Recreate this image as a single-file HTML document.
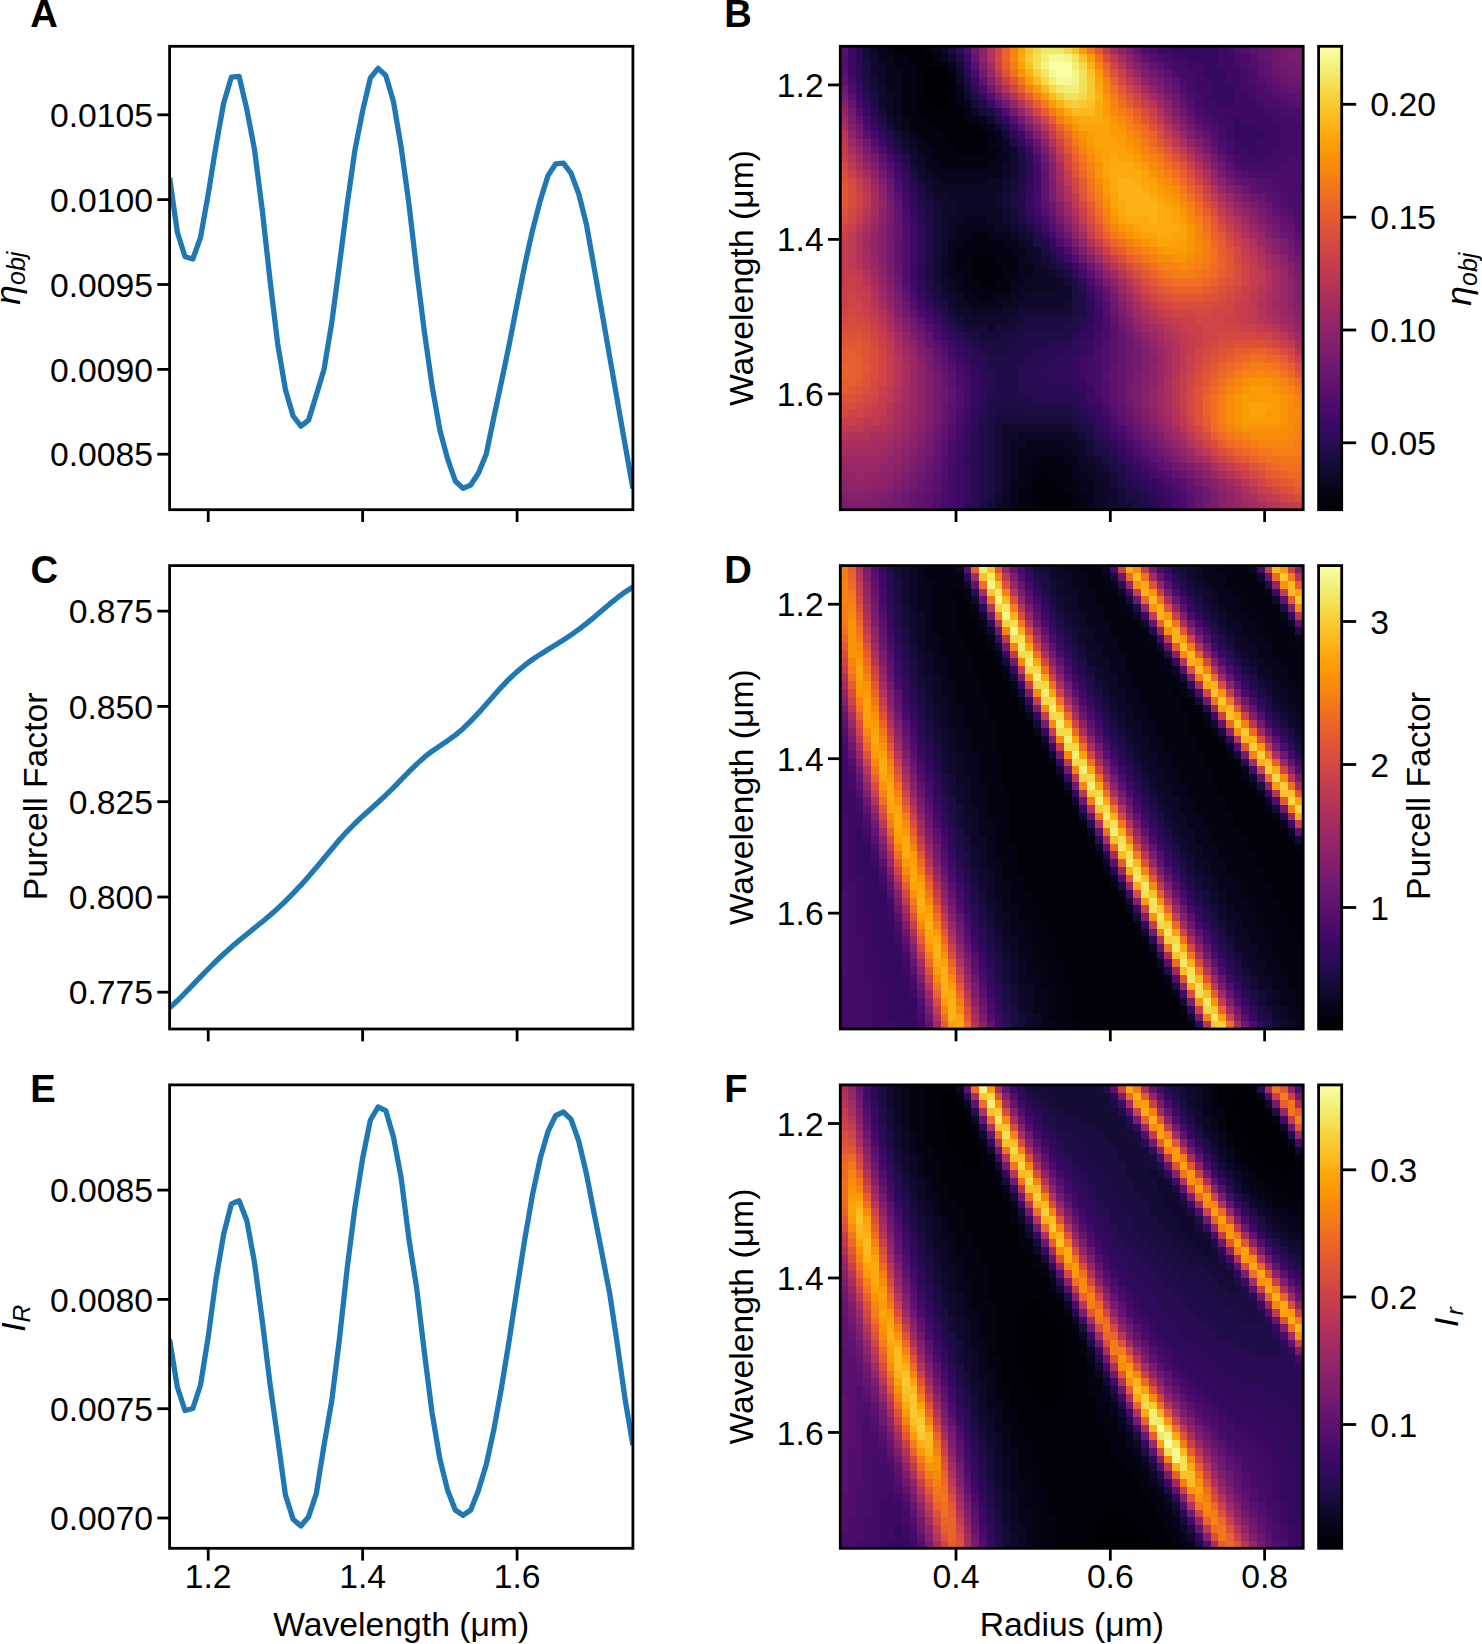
<!DOCTYPE html>
<html><head><meta charset="utf-8"><style>
html,body{margin:0;padding:0;background:#fff;width:1482px;height:1644px;overflow:hidden}
svg{display:block;font-family:"Liberation Sans",sans-serif}
</style></head><body>
<svg width="1482" height="1644" viewBox="0 0 1482 1644">
<rect width="1482" height="1644" fill="#fff"/>
<g transform="translate(840.30,46.30) scale(7.71500,7.72333)" shape-rendering="crispEdges"><path fill="#000004" d="M11 3h3v1h-3zM11 4h3v1h-3zM11 5h3v1h-3zM11 6h3v1h-3zM12 7h2v1h-2z"/><path fill="#02010a" d="M7 0h4v1h-4zM9 1h3v1h-3zM10 2h4v1h-4zM10 3h1v1h-1zM10 4h1v1h-1zM14 4h1v1h-1zM10 5h1v1h-1zM14 5h1v1h-1zM10 6h1v1h-1zM14 6h1v1h-1zM10 7h2v1h-2zM14 7h1v1h-1zM10 8h6v1h-6zM11 9h5v1h-5zM12 10h6v1h-6zM13 11h6v1h-6zM14 12h5v1h-5zM15 13h4v1h-4zM17 27h3v1h-3zM17 28h4v1h-4zM17 29h4v1h-4zM18 30h2v1h-2zM26 55h1v1h-1zM25 56h3v1h-3zM25 57h4v1h-4zM25 58h5v1h-5zM25 59h5v1h-5z"/><path fill="#040312" d="M6 0h1v1h-1zM11 0h1v1h-1zM7 1h2v1h-2zM12 1h1v1h-1zM7 2h3v1h-3zM8 3h2v1h-2zM14 3h1v1h-1zM8 4h2v1h-2zM8 5h2v1h-2zM8 6h2v1h-2zM15 6h1v1h-1zM8 7h2v1h-2zM15 7h1v1h-1zM8 8h2v1h-2zM16 8h1v1h-1zM9 9h2v1h-2zM16 9h2v1h-2zM9 10h3v1h-3zM18 10h1v1h-1zM10 11h3v1h-3zM19 11h1v1h-1zM11 12h3v1h-3zM19 12h1v1h-1zM12 13h3v1h-3zM19 13h2v1h-2zM12 14h8v1h-8zM13 15h6v1h-6zM17 24h2v1h-2zM16 25h5v1h-5zM15 26h7v1h-7zM15 27h2v1h-2zM20 27h3v1h-3zM15 28h2v1h-2zM21 28h2v1h-2zM16 29h1v1h-1zM21 29h2v1h-2zM16 30h2v1h-2zM20 30h2v1h-2zM17 31h5v1h-5zM18 32h2v1h-2zM25 53h4v1h-4zM24 54h6v1h-6zM24 55h2v1h-2zM27 55h3v1h-3zM24 56h1v1h-1zM28 56h3v1h-3zM23 57h2v1h-2zM29 57h2v1h-2zM23 58h2v1h-2zM30 58h2v1h-2zM23 59h2v1h-2zM30 59h2v1h-2z"/><path fill="#07051b" d="M5 0h1v1h-1zM12 0h1v1h-1zM5 1h2v1h-2zM13 1h1v1h-1zM6 2h1v1h-1zM14 2h1v1h-1zM6 3h2v1h-2zM6 4h2v1h-2zM6 5h2v1h-2zM15 5h1v1h-1zM7 6h1v1h-1zM7 7h1v1h-1zM16 7h1v1h-1zM7 8h1v1h-1zM8 9h1v1h-1zM18 9h1v1h-1zM8 10h1v1h-1zM19 10h1v1h-1zM9 11h1v1h-1zM20 11h1v1h-1zM10 12h1v1h-1zM20 12h1v1h-1zM10 13h2v1h-2zM11 14h1v1h-1zM20 14h2v1h-2zM11 15h2v1h-2zM19 15h2v1h-2zM12 16h9v1h-9zM13 17h6v1h-6zM16 22h3v1h-3zM15 23h5v1h-5zM15 24h2v1h-2zM19 24h3v1h-3zM14 25h2v1h-2zM21 25h2v1h-2zM14 26h1v1h-1zM22 26h2v1h-2zM14 27h1v1h-1zM23 27h1v1h-1zM14 28h1v1h-1zM23 28h2v1h-2zM14 29h2v1h-2zM23 29h2v1h-2zM15 30h1v1h-1zM22 30h2v1h-2zM15 31h2v1h-2zM22 31h1v1h-1zM16 32h2v1h-2zM20 32h2v1h-2zM17 33h4v1h-4zM24 51h5v1h-5zM23 52h7v1h-7zM23 53h2v1h-2zM29 53h2v1h-2zM23 54h1v1h-1zM30 54h1v1h-1zM23 55h1v1h-1zM30 55h2v1h-2zM22 56h2v1h-2zM31 56h2v1h-2zM22 57h1v1h-1zM31 57h2v1h-2zM22 58h1v1h-1zM32 58h1v1h-1zM22 59h1v1h-1zM32 59h1v1h-1z"/><path fill="#0b0724" d="M4 0h1v1h-1zM13 0h1v1h-1zM5 2h1v1h-1zM5 3h1v1h-1zM5 4h1v1h-1zM15 4h1v1h-1zM6 6h1v1h-1zM6 7h1v1h-1zM6 8h1v1h-1zM17 8h1v1h-1zM7 9h1v1h-1zM7 10h1v1h-1zM8 11h1v1h-1zM9 12h1v1h-1zM21 12h1v1h-1zM21 13h1v1h-1zM10 14h1v1h-1zM21 15h1v1h-1zM11 16h1v1h-1zM21 16h1v1h-1zM12 17h1v1h-1zM19 17h2v1h-2zM12 18h9v1h-9zM14 19h6v1h-6zM15 20h5v1h-5zM15 21h6v1h-6zM14 22h2v1h-2zM19 22h2v1h-2zM14 23h1v1h-1zM20 23h2v1h-2zM14 24h1v1h-1zM22 24h1v1h-1zM23 25h1v1h-1zM24 26h1v1h-1zM13 27h1v1h-1zM24 27h1v1h-1zM13 28h1v1h-1zM25 28h1v1h-1zM13 29h1v1h-1zM25 29h2v1h-2zM14 30h1v1h-1zM24 30h4v1h-4zM14 31h1v1h-1zM23 31h5v1h-5zM15 32h1v1h-1zM22 32h2v1h-2zM15 33h2v1h-2zM21 33h2v1h-2zM17 34h4v1h-4zM23 50h7v1h-7zM22 51h2v1h-2zM29 51h2v1h-2zM22 52h1v1h-1zM30 52h1v1h-1zM22 53h1v1h-1zM31 53h1v1h-1zM22 54h1v1h-1zM31 54h2v1h-2zM22 55h1v1h-1zM32 55h1v1h-1zM33 56h1v1h-1zM21 57h1v1h-1zM33 57h1v1h-1zM21 58h1v1h-1zM33 58h2v1h-2zM21 59h1v1h-1zM33 59h1v1h-1z"/><path fill="#10092d" d="M4 1h1v1h-1zM14 1h1v1h-1zM4 2h1v1h-1zM4 3h1v1h-1zM15 3h1v1h-1zM5 5h1v1h-1zM5 6h1v1h-1zM16 6h1v1h-1zM5 7h1v1h-1zM6 9h1v1h-1zM19 9h1v1h-1zM20 10h1v1h-1zM8 12h1v1h-1zM9 13h1v1h-1zM22 13h1v1h-1zM9 14h1v1h-1zM22 14h1v1h-1zM10 15h1v1h-1zM22 15h1v1h-1zM10 16h1v1h-1zM22 16h1v1h-1zM11 17h1v1h-1zM21 17h1v1h-1zM11 18h1v1h-1zM21 18h1v1h-1zM12 19h2v1h-2zM20 19h1v1h-1zM13 20h2v1h-2zM20 20h1v1h-1zM13 21h2v1h-2zM21 21h1v1h-1zM13 22h1v1h-1zM21 22h1v1h-1zM13 23h1v1h-1zM22 23h1v1h-1zM13 24h1v1h-1zM23 24h1v1h-1zM13 25h1v1h-1zM24 25h1v1h-1zM13 26h1v1h-1zM25 26h1v1h-1zM25 27h1v1h-1zM26 28h1v1h-1zM27 29h1v1h-1zM13 30h1v1h-1zM28 30h1v1h-1zM13 31h1v1h-1zM28 31h2v1h-2zM14 32h1v1h-1zM24 32h6v1h-6zM14 33h1v1h-1zM23 33h6v1h-6zM15 34h2v1h-2zM21 34h2v1h-2zM16 35h6v1h-6zM19 36h1v1h-1zM21 49h9v1h-9zM21 50h2v1h-2zM30 50h1v1h-1zM21 51h1v1h-1zM31 51h1v1h-1zM21 52h1v1h-1zM31 52h1v1h-1zM21 53h1v1h-1zM32 53h1v1h-1zM21 54h1v1h-1zM33 54h1v1h-1zM21 55h1v1h-1zM33 55h2v1h-2zM21 56h1v1h-1zM34 56h1v1h-1zM34 57h2v1h-2zM20 58h1v1h-1zM35 58h1v1h-1zM20 59h1v1h-1zM34 59h2v1h-2z"/><path fill="#150b37" d="M3 0h1v1h-1zM3 1h1v1h-1zM15 2h1v1h-1zM4 4h1v1h-1zM4 5h1v1h-1zM16 5h1v1h-1zM17 7h1v1h-1zM5 8h1v1h-1zM18 8h1v1h-1zM6 10h1v1h-1zM7 11h1v1h-1zM21 11h1v1h-1zM8 13h1v1h-1zM9 15h1v1h-1zM10 17h1v1h-1zM22 17h1v1h-1zM22 18h1v1h-1zM11 19h1v1h-1zM21 19h1v1h-1zM12 20h1v1h-1zM21 20h1v1h-1zM12 21h1v1h-1zM22 21h1v1h-1zM12 22h1v1h-1zM22 22h1v1h-1zM12 23h1v1h-1zM23 23h1v1h-1zM12 24h1v1h-1zM24 24h1v1h-1zM12 25h1v1h-1zM12 26h1v1h-1zM12 27h1v1h-1zM26 27h1v1h-1zM12 28h1v1h-1zM27 28h1v1h-1zM12 29h1v1h-1zM28 29h1v1h-1zM12 30h1v1h-1zM29 30h1v1h-1zM13 32h1v1h-1zM29 33h1v1h-1zM14 34h1v1h-1zM23 34h7v1h-7zM15 35h1v1h-1zM22 35h2v1h-2zM16 36h3v1h-3zM20 36h3v1h-3zM18 37h3v1h-3zM20 48h10v1h-10zM20 49h1v1h-1zM30 49h1v1h-1zM20 50h1v1h-1zM31 50h1v1h-1zM20 51h1v1h-1zM32 51h1v1h-1zM20 52h1v1h-1zM32 52h1v1h-1zM20 53h1v1h-1zM33 53h1v1h-1zM20 54h1v1h-1zM34 54h1v1h-1zM20 55h1v1h-1zM35 55h1v1h-1zM20 56h1v1h-1zM35 56h1v1h-1zM20 57h1v1h-1zM36 57h1v1h-1zM36 58h1v1h-1zM19 59h1v1h-1zM36 59h2v1h-2z"/><path fill="#1b0c41" d="M14 0h1v1h-1zM3 2h1v1h-1zM3 3h1v1h-1zM3 4h1v1h-1zM16 4h1v1h-1zM4 6h1v1h-1zM4 7h1v1h-1zM5 9h1v1h-1zM7 12h1v1h-1zM22 12h1v1h-1zM23 14h1v1h-1zM23 15h1v1h-1zM9 16h1v1h-1zM23 16h1v1h-1zM23 17h1v1h-1zM10 18h1v1h-1zM10 19h1v1h-1zM22 19h1v1h-1zM11 20h1v1h-1zM22 20h1v1h-1zM11 21h1v1h-1zM23 22h1v1h-1zM24 23h1v1h-1zM25 25h1v1h-1zM26 26h1v1h-1zM27 27h1v1h-1zM11 28h1v1h-1zM28 28h1v1h-1zM11 29h1v1h-1zM29 29h1v1h-1zM12 31h1v1h-1zM30 31h1v1h-1zM12 32h1v1h-1zM30 32h1v1h-1zM13 33h1v1h-1zM30 33h1v1h-1zM30 34h1v1h-1zM24 35h6v1h-6zM15 36h1v1h-1zM23 36h6v1h-6zM17 37h1v1h-1zM21 37h3v1h-3zM18 38h5v1h-5zM19 39h3v1h-3zM20 46h4v1h-4zM20 47h10v1h-10zM19 48h1v1h-1zM30 48h1v1h-1zM19 49h1v1h-1zM31 49h1v1h-1zM19 50h1v1h-1zM32 50h1v1h-1zM19 51h1v1h-1zM19 52h1v1h-1zM33 52h1v1h-1zM19 53h1v1h-1zM34 53h1v1h-1zM19 54h1v1h-1zM35 54h1v1h-1zM19 55h1v1h-1zM19 56h1v1h-1zM36 56h1v1h-1zM19 57h1v1h-1zM37 57h1v1h-1zM19 58h1v1h-1zM37 58h2v1h-2zM18 59h1v1h-1zM38 59h1v1h-1z"/><path fill="#210c4a" d="M15 1h1v1h-1zM3 5h1v1h-1zM17 6h1v1h-1zM18 7h1v1h-1zM4 8h1v1h-1zM19 8h1v1h-1zM20 9h1v1h-1zM5 10h1v1h-1zM21 10h1v1h-1zM6 11h1v1h-1zM7 13h1v1h-1zM23 13h1v1h-1zM8 14h1v1h-1zM9 17h1v1h-1zM23 18h1v1h-1zM23 19h1v1h-1zM10 20h1v1h-1zM23 20h1v1h-1zM23 21h1v1h-1zM11 22h1v1h-1zM11 23h1v1h-1zM11 24h1v1h-1zM25 24h1v1h-1zM11 25h1v1h-1zM26 25h1v1h-1zM11 26h1v1h-1zM11 27h1v1h-1zM11 30h1v1h-1zM30 30h1v1h-1zM11 31h1v1h-1zM31 32h1v1h-1zM12 33h1v1h-1zM31 33h1v1h-1zM13 34h1v1h-1zM31 34h1v1h-1zM14 35h1v1h-1zM30 35h1v1h-1zM29 36h2v1h-2zM16 37h1v1h-1zM24 37h6v1h-6zM17 38h1v1h-1zM23 38h4v1h-4zM18 39h1v1h-1zM22 39h3v1h-3zM19 40h5v1h-5zM19 41h4v1h-4zM20 42h3v1h-3zM20 43h3v1h-3zM20 44h3v1h-3zM19 45h6v1h-6zM19 46h1v1h-1zM24 46h6v1h-6zM19 47h1v1h-1zM30 47h1v1h-1zM18 48h1v1h-1zM31 48h1v1h-1zM18 49h1v1h-1zM32 49h1v1h-1zM18 50h1v1h-1zM18 51h1v1h-1zM33 51h1v1h-1zM18 52h1v1h-1zM34 52h1v1h-1zM18 53h1v1h-1zM35 53h1v1h-1zM18 54h1v1h-1zM36 54h1v1h-1zM18 55h1v1h-1zM36 55h1v1h-1zM18 56h1v1h-1zM37 56h1v1h-1zM18 57h1v1h-1zM38 57h1v1h-1zM18 58h1v1h-1zM39 58h1v1h-1zM39 59h1v1h-1z"/><path fill="#280b53" d="M2 0h1v1h-1zM2 1h1v1h-1zM2 2h1v1h-1zM2 3h1v1h-1zM16 3h1v1h-1zM3 6h1v1h-1zM4 9h1v1h-1zM22 11h1v1h-1zM6 12h1v1h-1zM8 15h1v1h-1zM24 15h1v1h-1zM24 16h1v1h-1zM9 18h1v1h-1zM10 21h1v1h-1zM10 22h1v1h-1zM24 22h1v1h-1zM25 23h1v1h-1zM27 26h1v1h-1zM28 27h1v1h-1zM10 28h1v1h-1zM29 28h1v1h-1zM10 29h1v1h-1zM31 31h1v1h-1zM11 32h1v1h-1zM13 35h1v1h-1zM31 35h1v1h-1zM14 36h1v1h-1zM31 36h1v1h-1zM15 37h1v1h-1zM30 37h1v1h-1zM16 38h1v1h-1zM27 38h3v1h-3zM17 39h1v1h-1zM25 39h4v1h-4zM17 40h2v1h-2zM24 40h4v1h-4zM18 41h1v1h-1zM23 41h4v1h-4zM18 42h2v1h-2zM23 42h3v1h-3zM19 43h1v1h-1zM23 43h4v1h-4zM19 44h1v1h-1zM23 44h7v1h-7zM25 45h6v1h-6zM18 46h1v1h-1zM30 46h1v1h-1zM18 47h1v1h-1zM31 47h1v1h-1zM32 48h1v1h-1zM17 50h1v1h-1zM33 50h1v1h-1zM17 51h1v1h-1zM34 51h1v1h-1zM17 52h1v1h-1zM35 52h1v1h-1zM17 53h1v1h-1zM17 54h1v1h-1zM17 55h1v1h-1zM37 55h1v1h-1zM17 56h1v1h-1zM38 56h1v1h-1zM17 57h1v1h-1zM39 57h1v1h-1zM17 58h1v1h-1zM40 58h1v1h-1zM17 59h1v1h-1zM40 59h1v1h-1z"/><path fill="#2f0a5b" d="M15 0h1v1h-1zM2 4h1v1h-1zM17 5h1v1h-1zM3 7h1v1h-1zM5 11h1v1h-1zM23 12h1v1h-1zM7 14h1v1h-1zM24 14h1v1h-1zM8 16h1v1h-1zM24 17h1v1h-1zM24 18h1v1h-1zM9 19h1v1h-1zM9 20h1v1h-1zM24 21h1v1h-1zM10 23h1v1h-1zM10 24h1v1h-1zM26 24h1v1h-1zM10 25h1v1h-1zM10 26h1v1h-1zM10 27h1v1h-1zM30 29h1v1h-1zM10 30h1v1h-1zM31 30h1v1h-1zM10 31h1v1h-1zM11 33h1v1h-1zM32 33h1v1h-1zM12 34h1v1h-1zM32 34h1v1h-1zM32 35h1v1h-1zM14 37h1v1h-1zM31 37h1v1h-1zM15 38h1v1h-1zM30 38h1v1h-1zM16 39h1v1h-1zM29 39h2v1h-2zM28 40h2v1h-2zM17 41h1v1h-1zM27 41h3v1h-3zM26 42h4v1h-4zM18 43h1v1h-1zM27 43h3v1h-3zM18 44h1v1h-1zM30 44h1v1h-1zM18 45h1v1h-1zM31 45h1v1h-1zM31 46h1v1h-1zM17 47h1v1h-1zM32 47h1v1h-1zM17 48h1v1h-1zM17 49h1v1h-1zM33 49h1v1h-1zM34 50h1v1h-1zM35 51h1v1h-1zM16 53h1v1h-1zM36 53h1v1h-1zM37 54h1v1h-1zM38 55h1v1h-1zM39 56h1v1h-1zM40 57h1v1h-1zM41 58h1v1h-1zM16 59h1v1h-1zM41 59h1v1h-1z"/><path fill="#360961" d="M43 0h6v1h-6zM45 1h4v1h-4zM16 2h1v1h-1zM47 2h2v1h-2zM47 3h3v1h-3zM48 4h2v1h-2zM2 5h1v1h-1zM48 5h3v1h-3zM18 6h1v1h-1zM48 6h3v1h-3zM49 7h2v1h-2zM3 8h1v1h-1zM20 8h1v1h-1zM21 9h1v1h-1zM51 9h1v1h-1zM4 10h1v1h-1zM51 10h3v1h-3zM51 11h4v1h-4zM52 12h2v1h-2zM6 13h1v1h-1zM24 13h1v1h-1zM53 13h1v1h-1zM8 17h1v1h-1zM24 19h1v1h-1zM24 20h1v1h-1zM9 21h1v1h-1zM25 22h1v1h-1zM27 25h1v1h-1zM28 26h1v1h-1zM10 32h1v1h-1zM32 32h1v1h-1zM12 35h1v1h-1zM13 36h1v1h-1zM32 36h1v1h-1zM32 37h1v1h-1zM31 38h1v1h-1zM15 39h1v1h-1zM31 39h1v1h-1zM16 40h1v1h-1zM30 40h1v1h-1zM30 41h1v1h-1zM17 42h1v1h-1zM30 42h1v1h-1zM17 43h1v1h-1zM30 43h2v1h-2zM17 44h1v1h-1zM31 44h1v1h-1zM17 45h1v1h-1zM17 46h1v1h-1zM32 46h1v1h-1zM33 47h1v1h-1zM33 48h1v1h-1zM16 49h1v1h-1zM34 49h1v1h-1zM16 50h1v1h-1zM16 51h1v1h-1zM16 52h1v1h-1zM36 52h1v1h-1zM37 53h1v1h-1zM16 54h1v1h-1zM38 54h1v1h-1zM16 55h1v1h-1zM39 55h1v1h-1zM16 56h1v1h-1zM40 56h1v1h-1zM16 57h1v1h-1zM41 57h1v1h-1zM16 58h1v1h-1zM42 59h1v1h-1z"/><path fill="#3d0965" d="M1 0h1v1h-1zM41 0h2v1h-2zM49 0h1v1h-1zM1 1h1v1h-1zM16 1h1v1h-1zM43 1h2v1h-2zM49 1h2v1h-2zM1 2h1v1h-1zM45 2h2v1h-2zM49 2h2v1h-2zM1 3h1v1h-1zM46 3h1v1h-1zM50 3h2v1h-2zM17 4h1v1h-1zM46 4h2v1h-2zM50 4h2v1h-2zM46 5h2v1h-2zM51 5h1v1h-1zM2 6h1v1h-1zM47 6h1v1h-1zM51 6h2v1h-2zM19 7h1v1h-1zM47 7h2v1h-2zM51 7h3v1h-3zM48 8h7v1h-7zM49 9h2v1h-2zM52 9h4v1h-4zM22 10h1v1h-1zM50 10h1v1h-1zM54 10h3v1h-3zM23 11h1v1h-1zM50 11h1v1h-1zM55 11h2v1h-2zM5 12h1v1h-1zM51 12h1v1h-1zM54 12h3v1h-3zM51 13h2v1h-2zM54 13h2v1h-2zM52 14h3v1h-3zM7 15h1v1h-1zM8 18h1v1h-1zM25 21h1v1h-1zM9 22h1v1h-1zM9 23h1v1h-1zM26 23h1v1h-1zM9 24h1v1h-1zM9 25h1v1h-1zM9 26h1v1h-1zM9 27h1v1h-1zM29 27h1v1h-1zM9 28h1v1h-1zM30 28h1v1h-1zM9 29h1v1h-1zM9 30h1v1h-1zM32 31h1v1h-1zM11 34h1v1h-1zM33 34h1v1h-1zM33 35h1v1h-1zM33 36h1v1h-1zM13 37h1v1h-1zM14 38h1v1h-1zM32 38h1v1h-1zM32 39h1v1h-1zM15 40h1v1h-1zM31 40h1v1h-1zM16 41h1v1h-1zM31 41h1v1h-1zM16 42h1v1h-1zM31 42h1v1h-1zM32 44h1v1h-1zM32 45h1v1h-1zM33 46h1v1h-1zM16 47h1v1h-1zM16 48h1v1h-1zM34 48h1v1h-1zM35 50h1v1h-1zM15 51h1v1h-1zM36 51h1v1h-1zM15 52h1v1h-1zM37 52h1v1h-1zM15 53h1v1h-1zM15 54h1v1h-1zM15 55h1v1h-1zM15 56h1v1h-1zM41 56h1v1h-1zM15 57h1v1h-1zM42 57h1v1h-1zM15 58h1v1h-1zM42 58h1v1h-1zM15 59h1v1h-1z"/><path fill="#440a68" d="M50 0h1v1h-1zM42 1h1v1h-1zM51 1h1v1h-1zM43 2h2v1h-2zM51 2h1v1h-1zM44 3h2v1h-2zM52 3h1v1h-1zM1 4h1v1h-1zM45 4h1v1h-1zM52 4h1v1h-1zM45 5h1v1h-1zM52 5h2v1h-2zM46 6h1v1h-1zM53 6h1v1h-1zM2 7h1v1h-1zM46 7h1v1h-1zM54 7h1v1h-1zM47 8h1v1h-1zM55 8h2v1h-2zM3 9h1v1h-1zM48 9h1v1h-1zM56 9h3v1h-3zM49 10h1v1h-1zM57 10h3v1h-3zM4 11h1v1h-1zM49 11h1v1h-1zM57 11h3v1h-3zM50 12h1v1h-1zM57 12h3v1h-3zM50 13h1v1h-1zM56 13h4v1h-4zM6 14h1v1h-1zM51 14h1v1h-1zM55 14h3v1h-3zM59 14h1v1h-1zM25 15h1v1h-1zM52 15h5v1h-5zM7 16h1v1h-1zM25 16h1v1h-1zM25 17h1v1h-1zM25 18h1v1h-1zM59 18h1v1h-1zM8 19h1v1h-1zM25 19h1v1h-1zM8 20h1v1h-1zM25 20h1v1h-1zM26 22h1v1h-1zM27 24h1v1h-1zM31 29h1v1h-1zM9 31h1v1h-1zM10 33h1v1h-1zM33 33h1v1h-1zM11 35h1v1h-1zM12 36h1v1h-1zM33 37h1v1h-1zM33 38h1v1h-1zM14 39h1v1h-1zM32 40h1v1h-1zM15 41h1v1h-1zM32 41h1v1h-1zM32 42h1v1h-1zM16 43h1v1h-1zM32 43h1v1h-1zM16 44h1v1h-1zM16 45h1v1h-1zM33 45h1v1h-1zM16 46h1v1h-1zM34 47h1v1h-1zM15 49h1v1h-1zM35 49h1v1h-1zM15 50h1v1h-1zM36 50h1v1h-1zM38 53h1v1h-1zM14 54h1v1h-1zM39 54h1v1h-1zM14 55h1v1h-1zM40 55h1v1h-1zM14 56h1v1h-1zM14 57h1v1h-1zM14 58h1v1h-1zM43 58h1v1h-1zM14 59h1v1h-1zM43 59h1v1h-1z"/><path fill="#4a0c6b" d="M16 0h1v1h-1zM40 0h1v1h-1zM51 0h1v1h-1zM41 1h1v1h-1zM52 1h1v1h-1zM42 2h1v1h-1zM52 2h1v1h-1zM17 3h1v1h-1zM43 3h1v1h-1zM53 3h1v1h-1zM44 4h1v1h-1zM53 4h1v1h-1zM1 5h1v1h-1zM18 5h1v1h-1zM54 5h1v1h-1zM45 6h1v1h-1zM54 6h2v1h-2zM55 7h2v1h-2zM46 8h1v1h-1zM57 8h3v1h-3zM47 9h1v1h-1zM59 9h1v1h-1zM3 10h1v1h-1zM48 10h1v1h-1zM24 12h1v1h-1zM49 12h1v1h-1zM5 13h1v1h-1zM25 14h1v1h-1zM58 14h1v1h-1zM51 15h1v1h-1zM57 15h3v1h-3zM53 16h7v1h-7zM7 17h1v1h-1zM56 17h4v1h-4zM57 18h2v1h-2zM58 19h2v1h-2zM58 20h2v1h-2zM8 21h1v1h-1zM59 21h1v1h-1zM8 22h1v1h-1zM28 25h1v1h-1zM29 26h1v1h-1zM32 30h1v1h-1zM9 32h1v1h-1zM33 32h1v1h-1zM10 34h1v1h-1zM34 35h1v1h-1zM34 36h1v1h-1zM12 37h1v1h-1zM34 37h1v1h-1zM13 38h1v1h-1zM33 39h1v1h-1zM14 40h1v1h-1zM33 40h1v1h-1zM33 41h1v1h-1zM15 42h1v1h-1zM33 42h1v1h-1zM15 43h1v1h-1zM33 43h1v1h-1zM33 44h1v1h-1zM34 46h1v1h-1zM15 47h1v1h-1zM15 48h1v1h-1zM35 48h1v1h-1zM36 49h1v1h-1zM14 51h1v1h-1zM37 51h1v1h-1zM14 52h1v1h-1zM38 52h1v1h-1zM14 53h1v1h-1zM39 53h1v1h-1zM40 54h1v1h-1zM41 55h1v1h-1zM13 56h1v1h-1zM42 56h1v1h-1zM13 57h1v1h-1zM43 57h1v1h-1zM13 58h1v1h-1zM44 58h1v1h-1zM13 59h1v1h-1zM44 59h1v1h-1z"/><path fill="#510e6c" d="M39 0h1v1h-1zM52 0h1v1h-1zM0 1h1v1h-1zM40 1h1v1h-1zM53 1h1v1h-1zM0 2h1v1h-1zM53 2h1v1h-1zM54 4h1v1h-1zM44 5h1v1h-1zM55 5h1v1h-1zM19 6h1v1h-1zM56 6h1v1h-1zM45 7h1v1h-1zM57 7h2v1h-2zM2 8h1v1h-1zM21 8h1v1h-1zM22 9h1v1h-1zM46 9h1v1h-1zM47 10h1v1h-1zM48 11h1v1h-1zM4 12h1v1h-1zM49 13h1v1h-1zM50 14h1v1h-1zM6 15h1v1h-1zM52 16h1v1h-1zM54 17h2v1h-2zM7 18h1v1h-1zM55 18h2v1h-2zM57 19h1v1h-1zM57 20h1v1h-1zM26 21h1v1h-1zM58 21h1v1h-1zM59 22h1v1h-1zM8 23h1v1h-1zM27 23h1v1h-1zM59 23h1v1h-1zM8 24h1v1h-1zM8 25h1v1h-1zM8 26h1v1h-1zM8 27h1v1h-1zM30 27h1v1h-1zM8 28h1v1h-1zM31 28h1v1h-1zM8 29h1v1h-1zM8 30h1v1h-1zM33 31h1v1h-1zM9 33h1v1h-1zM34 33h1v1h-1zM34 34h1v1h-1zM11 36h1v1h-1zM34 38h1v1h-1zM13 39h1v1h-1zM34 39h1v1h-1zM34 40h1v1h-1zM14 41h1v1h-1zM34 41h1v1h-1zM34 43h1v1h-1zM15 44h1v1h-1zM34 44h1v1h-1zM15 45h1v1h-1zM34 45h1v1h-1zM15 46h1v1h-1zM35 47h1v1h-1zM14 49h1v1h-1zM14 50h1v1h-1zM37 50h1v1h-1zM38 51h1v1h-1zM13 53h1v1h-1zM13 54h1v1h-1zM13 55h1v1h-1zM42 55h1v1h-1zM43 56h1v1h-1zM44 57h1v1h-1zM12 58h1v1h-1zM12 59h1v1h-1z"/><path fill="#59106e" d="M0 0h1v1h-1zM53 0h1v1h-1zM17 2h1v1h-1zM41 2h1v1h-1zM54 2h1v1h-1zM0 3h1v1h-1zM42 3h1v1h-1zM54 3h1v1h-1zM43 4h1v1h-1zM55 4h1v1h-1zM56 5h1v1h-1zM1 6h1v1h-1zM44 6h1v1h-1zM57 6h2v1h-2zM20 7h1v1h-1zM59 7h1v1h-1zM45 8h1v1h-1zM23 10h1v1h-1zM3 11h1v1h-1zM48 12h1v1h-1zM25 13h1v1h-1zM5 14h1v1h-1zM50 15h1v1h-1zM6 16h1v1h-1zM51 16h1v1h-1zM53 17h1v1h-1zM54 18h1v1h-1zM7 19h1v1h-1zM55 19h2v1h-2zM26 20h1v1h-1zM56 20h1v1h-1zM57 21h1v1h-1zM27 22h1v1h-1zM58 22h1v1h-1zM28 24h1v1h-1zM59 24h1v1h-1zM32 29h1v1h-1zM8 31h1v1h-1zM10 35h1v1h-1zM35 36h1v1h-1zM35 37h1v1h-1zM12 38h1v1h-1zM35 38h1v1h-1zM35 39h1v1h-1zM13 40h1v1h-1zM35 40h1v1h-1zM14 42h1v1h-1zM34 42h1v1h-1zM14 43h1v1h-1zM35 45h1v1h-1zM14 46h1v1h-1zM35 46h1v1h-1zM14 47h1v1h-1zM14 48h1v1h-1zM36 48h1v1h-1zM37 49h1v1h-1zM13 51h1v1h-1zM13 52h1v1h-1zM39 52h1v1h-1zM40 53h1v1h-1zM41 54h1v1h-1zM12 55h1v1h-1zM12 56h1v1h-1zM44 56h1v1h-1zM12 57h1v1h-1zM11 58h1v1h-1zM45 58h1v1h-1zM11 59h1v1h-1zM45 59h1v1h-1z"/><path fill="#5f136e" d="M54 0h1v1h-1zM39 1h1v1h-1zM54 1h1v1h-1zM40 2h1v1h-1zM55 2h1v1h-1zM55 3h1v1h-1zM0 4h1v1h-1zM18 4h1v1h-1zM56 4h1v1h-1zM43 5h1v1h-1zM57 5h1v1h-1zM59 6h1v1h-1zM44 7h1v1h-1zM2 9h1v1h-1zM46 10h1v1h-1zM24 11h1v1h-1zM47 11h1v1h-1zM4 13h1v1h-1zM49 14h1v1h-1zM26 16h1v1h-1zM26 17h1v1h-1zM52 17h1v1h-1zM26 18h1v1h-1zM53 18h1v1h-1zM26 19h1v1h-1zM7 20h1v1h-1zM7 21h1v1h-1zM56 21h1v1h-1zM7 22h1v1h-1zM57 22h1v1h-1zM58 23h1v1h-1zM7 25h1v1h-1zM29 25h1v1h-1zM59 25h1v1h-1zM7 26h1v1h-1zM7 27h1v1h-1zM33 30h1v1h-1zM8 32h1v1h-1zM34 32h1v1h-1zM9 34h1v1h-1zM35 35h1v1h-1zM11 37h1v1h-1zM12 39h1v1h-1zM13 41h1v1h-1zM35 41h1v1h-1zM35 42h1v1h-1zM35 43h1v1h-1zM14 44h1v1h-1zM35 44h1v1h-1zM14 45h1v1h-1zM36 46h1v1h-1zM36 47h1v1h-1zM37 48h1v1h-1zM13 49h1v1h-1zM13 50h1v1h-1zM38 50h1v1h-1zM39 51h1v1h-1zM40 52h1v1h-1zM12 53h1v1h-1zM41 53h1v1h-1zM12 54h1v1h-1zM42 54h1v1h-1zM43 55h1v1h-1zM11 56h1v1h-1zM11 57h1v1h-1zM45 57h1v1h-1zM10 58h1v1h-1zM10 59h1v1h-1z"/><path fill="#65156e" d="M38 0h1v1h-1zM55 0h1v1h-1zM17 1h1v1h-1zM55 1h1v1h-1zM41 3h1v1h-1zM56 3h1v1h-1zM42 4h1v1h-1zM57 4h1v1h-1zM58 5h2v1h-2zM1 7h1v1h-1zM45 9h1v1h-1zM25 12h1v1h-1zM48 13h1v1h-1zM5 15h1v1h-1zM26 15h1v1h-1zM50 16h1v1h-1zM6 17h1v1h-1zM51 17h1v1h-1zM54 19h1v1h-1zM55 20h1v1h-1zM27 21h1v1h-1zM7 23h1v1h-1zM28 23h1v1h-1zM57 23h1v1h-1zM7 24h1v1h-1zM58 24h1v1h-1zM30 26h1v1h-1zM59 26h1v1h-1zM7 28h1v1h-1zM7 29h1v1h-1zM34 31h1v1h-1zM35 34h1v1h-1zM10 36h1v1h-1zM36 37h1v1h-1zM11 38h1v1h-1zM36 38h1v1h-1zM36 39h1v1h-1zM12 40h1v1h-1zM36 40h1v1h-1zM36 41h1v1h-1zM13 42h1v1h-1zM36 42h1v1h-1zM13 43h1v1h-1zM36 43h1v1h-1zM36 44h1v1h-1zM36 45h1v1h-1zM13 46h1v1h-1zM13 47h1v1h-1zM37 47h1v1h-1zM13 48h1v1h-1zM38 49h1v1h-1zM12 51h1v1h-1zM12 52h1v1h-1zM11 54h1v1h-1zM11 55h1v1h-1zM44 55h1v1h-1zM10 56h1v1h-1zM45 56h1v1h-1zM10 57h1v1h-1zM46 57h1v1h-1zM9 58h1v1h-1zM46 58h1v1h-1zM9 59h1v1h-1zM46 59h1v1h-1z"/><path fill="#6c186e" d="M17 0h1v1h-1zM56 0h1v1h-1zM56 1h1v1h-1zM56 2h1v1h-1zM57 3h1v1h-1zM58 4h2v1h-2zM0 5h1v1h-1zM19 5h1v1h-1zM42 5h1v1h-1zM43 6h1v1h-1zM44 8h1v1h-1zM2 10h1v1h-1zM46 11h1v1h-1zM3 12h1v1h-1zM47 12h1v1h-1zM26 14h1v1h-1zM49 15h1v1h-1zM6 18h1v1h-1zM52 18h1v1h-1zM53 19h1v1h-1zM27 20h1v1h-1zM54 20h1v1h-1zM55 21h1v1h-1zM56 22h1v1h-1zM29 24h1v1h-1zM57 24h1v1h-1zM58 25h1v1h-1zM31 27h1v1h-1zM59 27h1v1h-1zM32 28h1v1h-1zM7 30h1v1h-1zM8 33h1v1h-1zM35 33h1v1h-1zM9 35h1v1h-1zM36 36h1v1h-1zM10 37h1v1h-1zM37 38h1v1h-1zM37 39h1v1h-1zM37 40h1v1h-1zM12 41h1v1h-1zM37 41h1v1h-1zM37 42h1v1h-1zM13 44h1v1h-1zM13 45h1v1h-1zM37 46h1v1h-1zM38 48h1v1h-1zM12 49h1v1h-1zM12 50h1v1h-1zM39 50h1v1h-1zM40 51h1v1h-1zM41 52h1v1h-1zM11 53h1v1h-1zM42 53h1v1h-1zM43 54h1v1h-1zM10 55h1v1h-1zM9 57h1v1h-1zM8 58h1v1h-1zM47 58h1v1h-1zM8 59h1v1h-1z"/><path fill="#721a6e" d="M57 0h2v1h-2zM38 1h1v1h-1zM57 1h1v1h-1zM39 2h1v1h-1zM57 2h2v1h-2zM18 3h1v1h-1zM40 3h1v1h-1zM58 3h2v1h-2zM41 4h1v1h-1zM20 6h1v1h-1zM21 7h1v1h-1zM43 7h1v1h-1zM1 8h1v1h-1zM22 8h1v1h-1zM23 9h1v1h-1zM45 10h1v1h-1zM2 11h1v1h-1zM4 14h1v1h-1zM48 14h1v1h-1zM5 16h1v1h-1zM50 17h1v1h-1zM6 19h1v1h-1zM28 22h1v1h-1zM55 22h1v1h-1zM6 23h1v1h-1zM56 23h1v1h-1zM6 24h1v1h-1zM6 25h1v1h-1zM6 26h1v1h-1zM58 26h1v1h-1zM6 27h1v1h-1zM59 28h1v1h-1zM33 29h1v1h-1zM7 31h1v1h-1zM35 32h1v1h-1zM8 34h1v1h-1zM36 35h1v1h-1zM9 36h1v1h-1zM37 37h1v1h-1zM11 39h1v1h-1zM38 39h1v1h-1zM38 40h1v1h-1zM38 41h1v1h-1zM12 42h1v1h-1zM12 43h1v1h-1zM37 43h1v1h-1zM12 44h1v1h-1zM37 44h1v1h-1zM12 45h1v1h-1zM37 45h1v1h-1zM12 46h1v1h-1zM12 47h1v1h-1zM38 47h1v1h-1zM12 48h1v1h-1zM39 49h1v1h-1zM40 50h1v1h-1zM11 51h1v1h-1zM11 52h1v1h-1zM10 54h1v1h-1zM44 54h1v1h-1zM9 55h1v1h-1zM45 55h1v1h-1zM9 56h1v1h-1zM46 56h1v1h-1zM8 57h1v1h-1zM47 57h1v1h-1zM7 58h1v1h-1zM6 59h2v1h-2zM47 59h1v1h-1z"/><path fill="#781c6d" d="M37 0h1v1h-1zM59 0h1v1h-1zM58 1h2v1h-2zM59 2h1v1h-1zM0 6h1v1h-1zM42 6h1v1h-1zM1 9h1v1h-1zM44 9h1v1h-1zM24 10h1v1h-1zM3 13h1v1h-1zM26 13h1v1h-1zM47 13h1v1h-1zM49 16h1v1h-1zM27 18h1v1h-1zM51 18h1v1h-1zM27 19h1v1h-1zM52 19h1v1h-1zM6 20h1v1h-1zM53 20h1v1h-1zM6 21h1v1h-1zM54 21h1v1h-1zM6 22h1v1h-1zM56 24h1v1h-1zM30 25h1v1h-1zM57 25h1v1h-1zM58 27h1v1h-1zM6 28h1v1h-1zM6 29h1v1h-1zM59 29h1v1h-1zM34 30h1v1h-1zM7 32h1v1h-1zM36 34h1v1h-1zM37 36h1v1h-1zM10 38h1v1h-1zM38 38h1v1h-1zM11 40h1v1h-1zM11 41h1v1h-1zM38 42h1v1h-1zM38 43h1v1h-1zM38 44h1v1h-1zM38 45h1v1h-1zM38 46h1v1h-1zM39 48h1v1h-1zM11 49h1v1h-1zM11 50h1v1h-1zM41 51h1v1h-1zM10 52h1v1h-1zM42 52h1v1h-1zM10 53h1v1h-1zM43 53h1v1h-1zM9 54h1v1h-1zM8 56h1v1h-1zM7 57h1v1h-1zM6 58h1v1h-1zM48 58h1v1h-1zM0 59h1v1h-1zM5 59h1v1h-1zM48 59h1v1h-1z"/><path fill="#7f1e6c" d="M18 2h1v1h-1zM39 3h1v1h-1zM40 4h1v1h-1zM41 5h1v1h-1zM43 8h1v1h-1zM25 11h1v1h-1zM45 11h1v1h-1zM46 12h1v1h-1zM4 15h1v1h-1zM48 15h1v1h-1zM5 17h1v1h-1zM27 17h1v1h-1zM28 21h1v1h-1zM54 22h1v1h-1zM29 23h1v1h-1zM55 23h1v1h-1zM31 26h1v1h-1zM57 26h1v1h-1zM6 30h1v1h-1zM59 30h1v1h-1zM35 31h1v1h-1zM59 31h1v1h-1zM59 32h1v1h-1zM7 33h1v1h-1zM36 33h1v1h-1zM8 35h1v1h-1zM37 35h1v1h-1zM9 37h1v1h-1zM38 37h1v1h-1zM10 39h1v1h-1zM39 39h1v1h-1zM39 40h1v1h-1zM39 41h1v1h-1zM11 42h1v1h-1zM39 42h1v1h-1zM11 43h1v1h-1zM11 44h1v1h-1zM11 45h1v1h-1zM11 46h1v1h-1zM11 47h1v1h-1zM39 47h1v1h-1zM11 48h1v1h-1zM40 49h1v1h-1zM41 50h1v1h-1zM10 51h1v1h-1zM9 53h1v1h-1zM45 54h1v1h-1zM8 55h1v1h-1zM46 55h1v1h-1zM7 56h1v1h-1zM47 56h1v1h-1zM6 57h1v1h-1zM48 57h1v1h-1zM0 58h1v1h-1zM4 58h2v1h-2zM1 59h4v1h-4z"/><path fill="#85216b" d="M38 2h1v1h-1zM19 4h1v1h-1zM0 7h1v1h-1zM1 10h1v1h-1zM44 10h1v1h-1zM2 12h1v1h-1zM3 14h1v1h-1zM27 15h1v1h-1zM27 16h1v1h-1zM5 18h1v1h-1zM50 18h1v1h-1zM51 19h1v1h-1zM28 20h1v1h-1zM52 20h1v1h-1zM53 21h1v1h-1zM5 23h1v1h-1zM5 24h1v1h-1zM55 24h1v1h-1zM5 25h1v1h-1zM56 25h1v1h-1zM5 26h1v1h-1zM5 27h1v1h-1zM32 27h1v1h-1zM33 28h1v1h-1zM58 28h1v1h-1zM58 29h1v1h-1zM6 31h1v1h-1zM59 33h1v1h-1zM7 34h1v1h-1zM59 34h1v1h-1zM8 36h1v1h-1zM39 38h1v1h-1zM10 40h1v1h-1zM40 40h1v1h-1zM39 43h1v1h-1zM39 44h1v1h-1zM39 45h1v1h-1zM39 46h1v1h-1zM40 48h1v1h-1zM10 49h1v1h-1zM10 50h1v1h-1zM42 51h1v1h-1zM9 52h1v1h-1zM43 52h1v1h-1zM8 53h1v1h-1zM44 53h1v1h-1zM8 54h1v1h-1zM7 55h1v1h-1zM6 56h1v1h-1zM48 56h1v1h-1zM0 57h1v1h-1zM4 57h2v1h-2zM1 58h3v1h-3zM49 58h1v1h-1zM49 59h1v1h-1z"/><path fill="#8c2369" d="M18 0h1v1h-1zM36 0h1v1h-1zM18 1h1v1h-1zM37 1h1v1h-1zM42 7h1v1h-1zM43 9h1v1h-1zM26 12h1v1h-1zM47 14h1v1h-1zM4 16h1v1h-1zM49 17h1v1h-1zM5 19h1v1h-1zM5 21h1v1h-1zM5 22h1v1h-1zM29 22h1v1h-1zM53 22h1v1h-1zM54 23h1v1h-1zM30 24h1v1h-1zM56 26h1v1h-1zM57 27h1v1h-1zM5 28h1v1h-1zM5 29h1v1h-1zM34 29h1v1h-1zM35 30h1v1h-1zM58 30h1v1h-1zM58 31h1v1h-1zM6 32h1v1h-1zM36 32h1v1h-1zM58 32h1v1h-1zM58 33h1v1h-1zM37 34h1v1h-1zM59 35h1v1h-1zM38 36h1v1h-1zM39 37h1v1h-1zM9 38h1v1h-1zM40 39h1v1h-1zM10 41h1v1h-1zM40 41h1v1h-1zM10 42h1v1h-1zM40 42h1v1h-1zM10 43h1v1h-1zM40 43h1v1h-1zM10 44h1v1h-1zM10 45h1v1h-1zM10 46h1v1h-1zM10 47h1v1h-1zM40 47h1v1h-1zM10 48h1v1h-1zM41 49h1v1h-1zM9 50h1v1h-1zM9 51h1v1h-1zM8 52h1v1h-1zM7 54h1v1h-1zM46 54h1v1h-1zM5 55h2v1h-2zM47 55h1v1h-1zM0 56h1v1h-1zM4 56h2v1h-2zM1 57h3v1h-3zM49 57h1v1h-1zM50 58h1v1h-1zM50 59h1v1h-1z"/><path fill="#922568" d="M39 4h1v1h-1zM20 5h1v1h-1zM40 5h1v1h-1zM21 6h1v1h-1zM41 6h1v1h-1zM22 7h1v1h-1zM0 8h1v1h-1zM23 8h1v1h-1zM24 9h1v1h-1zM1 11h1v1h-1zM45 12h1v1h-1zM2 13h1v1h-1zM46 13h1v1h-1zM27 14h1v1h-1zM3 15h1v1h-1zM48 16h1v1h-1zM28 19h1v1h-1zM5 20h1v1h-1zM51 20h1v1h-1zM52 21h1v1h-1zM4 24h1v1h-1zM4 25h1v1h-1zM31 25h1v1h-1zM55 25h1v1h-1zM4 26h1v1h-1zM57 28h1v1h-1zM5 30h1v1h-1zM6 33h1v1h-1zM37 33h1v1h-1zM58 34h1v1h-1zM7 35h1v1h-1zM38 35h1v1h-1zM59 36h1v1h-1zM8 37h1v1h-1zM40 38h1v1h-1zM9 39h1v1h-1zM40 44h1v1h-1zM40 45h1v1h-1zM40 46h1v1h-1zM9 48h1v1h-1zM41 48h1v1h-1zM9 49h1v1h-1zM42 50h1v1h-1zM8 51h1v1h-1zM43 51h1v1h-1zM7 52h1v1h-1zM44 52h1v1h-1zM6 53h2v1h-2zM45 53h1v1h-1zM5 54h2v1h-2zM0 55h2v1h-2zM3 55h2v1h-2zM1 56h3v1h-3zM49 56h1v1h-1zM50 57h1v1h-1zM51 59h1v1h-1z"/><path fill="#982766" d="M37 2h1v1h-1zM19 3h1v1h-1zM38 3h1v1h-1zM42 8h1v1h-1zM25 10h1v1h-1zM44 11h1v1h-1zM47 15h1v1h-1zM4 17h1v1h-1zM28 18h1v1h-1zM49 18h1v1h-1zM50 19h1v1h-1zM29 21h1v1h-1zM4 23h1v1h-1zM30 23h1v1h-1zM53 23h1v1h-1zM54 24h1v1h-1zM32 26h1v1h-1zM55 26h1v1h-1zM4 27h1v1h-1zM56 27h1v1h-1zM4 28h1v1h-1zM57 29h1v1h-1zM57 30h1v1h-1zM5 31h1v1h-1zM36 31h1v1h-1zM57 31h1v1h-1zM57 32h1v1h-1zM57 33h1v1h-1zM57 34h1v1h-1zM58 35h1v1h-1zM7 36h1v1h-1zM39 36h1v1h-1zM40 37h1v1h-1zM8 38h1v1h-1zM41 39h1v1h-1zM9 40h1v1h-1zM41 40h1v1h-1zM9 41h1v1h-1zM41 41h1v1h-1zM9 42h1v1h-1zM41 42h1v1h-1zM9 43h1v1h-1zM41 43h1v1h-1zM9 44h1v1h-1zM9 45h1v1h-1zM9 46h1v1h-1zM9 47h1v1h-1zM41 47h1v1h-1zM8 49h1v1h-1zM42 49h1v1h-1zM8 50h1v1h-1zM7 51h1v1h-1zM6 52h1v1h-1zM5 53h1v1h-1zM0 54h5v1h-5zM47 54h1v1h-1zM2 55h1v1h-1zM48 55h1v1h-1zM51 58h1v1h-1z"/><path fill="#9f2a63" d="M41 7h1v1h-1zM0 9h1v1h-1zM43 10h1v1h-1zM26 11h1v1h-1zM1 12h1v1h-1zM27 13h1v1h-1zM2 14h1v1h-1zM46 14h1v1h-1zM28 17h1v1h-1zM48 17h1v1h-1zM4 18h1v1h-1zM29 20h1v1h-1zM51 21h1v1h-1zM4 22h1v1h-1zM52 22h1v1h-1zM3 25h1v1h-1zM54 25h1v1h-1zM33 27h1v1h-1zM34 28h1v1h-1zM56 28h1v1h-1zM4 29h1v1h-1zM35 29h1v1h-1zM5 32h1v1h-1zM37 32h1v1h-1zM56 33h1v1h-1zM6 34h1v1h-1zM38 34h1v1h-1zM57 35h1v1h-1zM58 36h1v1h-1zM59 37h1v1h-1zM41 38h1v1h-1zM8 39h1v1h-1zM41 44h1v1h-1zM41 45h1v1h-1zM41 46h1v1h-1zM8 47h1v1h-1zM8 48h1v1h-1zM42 48h1v1h-1zM7 50h1v1h-1zM43 50h1v1h-1zM6 51h1v1h-1zM44 51h1v1h-1zM5 52h1v1h-1zM45 52h1v1h-1zM0 53h5v1h-5zM46 53h1v1h-1zM50 56h1v1h-1zM51 57h1v1h-1zM52 59h1v1h-1z"/><path fill="#a52c60" d="M35 0h1v1h-1zM36 1h1v1h-1zM19 2h1v1h-1zM39 5h1v1h-1zM40 6h1v1h-1zM42 9h1v1h-1zM45 13h1v1h-1zM3 16h1v1h-1zM28 16h1v1h-1zM4 19h1v1h-1zM4 20h1v1h-1zM50 20h1v1h-1zM4 21h1v1h-1zM30 22h1v1h-1zM3 24h1v1h-1zM31 24h1v1h-1zM53 24h1v1h-1zM3 26h1v1h-1zM3 27h1v1h-1zM55 27h1v1h-1zM56 29h1v1h-1zM4 30h1v1h-1zM36 30h1v1h-1zM56 30h1v1h-1zM56 31h1v1h-1zM56 32h1v1h-1zM5 33h1v1h-1zM38 33h1v1h-1zM56 34h1v1h-1zM6 35h1v1h-1zM39 35h1v1h-1zM40 36h1v1h-1zM7 37h1v1h-1zM41 37h1v1h-1zM42 39h1v1h-1zM8 40h1v1h-1zM42 40h1v1h-1zM42 41h1v1h-1zM42 42h1v1h-1zM8 44h1v1h-1zM8 45h1v1h-1zM8 46h1v1h-1zM42 47h1v1h-1zM7 48h1v1h-1zM7 49h1v1h-1zM43 49h1v1h-1zM6 50h1v1h-1zM4 51h2v1h-2zM0 52h5v1h-5zM49 55h1v1h-1zM52 58h1v1h-1zM53 59h1v1h-1z"/><path fill="#ab2f5e" d="M37 3h1v1h-1zM20 4h1v1h-1zM38 4h1v1h-1zM0 10h1v1h-1zM44 12h1v1h-1zM1 13h1v1h-1zM2 15h1v1h-1zM28 15h1v1h-1zM47 16h1v1h-1zM29 19h1v1h-1zM49 19h1v1h-1zM3 23h1v1h-1zM52 23h1v1h-1zM54 26h1v1h-1zM3 28h1v1h-1zM55 28h1v1h-1zM4 31h1v1h-1zM37 31h1v1h-1zM55 32h1v1h-1zM55 33h1v1h-1zM39 34h1v1h-1zM55 34h1v1h-1zM56 35h1v1h-1zM6 36h1v1h-1zM41 36h1v1h-1zM57 36h1v1h-1zM58 37h1v1h-1zM7 38h1v1h-1zM42 38h1v1h-1zM59 38h1v1h-1zM8 41h1v1h-1zM8 42h1v1h-1zM8 43h1v1h-1zM42 43h1v1h-1zM42 44h1v1h-1zM42 45h1v1h-1zM7 46h1v1h-1zM42 46h1v1h-1zM7 47h1v1h-1zM6 49h1v1h-1zM4 50h2v1h-2zM44 50h1v1h-1zM0 51h4v1h-4zM47 53h1v1h-1zM48 54h1v1h-1zM51 56h1v1h-1zM52 57h1v1h-1zM53 58h1v1h-1zM54 59h1v1h-1z"/><path fill="#b1325a" d="M19 0h1v1h-1zM19 1h1v1h-1zM21 5h1v1h-1zM22 6h1v1h-1zM23 7h1v1h-1zM24 8h1v1h-1zM41 8h1v1h-1zM25 9h1v1h-1zM43 11h1v1h-1zM27 12h1v1h-1zM46 15h1v1h-1zM3 17h1v1h-1zM29 18h1v1h-1zM48 18h1v1h-1zM30 21h1v1h-1zM50 21h1v1h-1zM3 22h1v1h-1zM51 22h1v1h-1zM31 23h1v1h-1zM2 24h1v1h-1zM52 24h1v1h-1zM2 25h1v1h-1zM32 25h1v1h-1zM53 25h1v1h-1zM2 26h1v1h-1zM33 26h1v1h-1zM2 27h1v1h-1zM54 27h1v1h-1zM3 29h1v1h-1zM55 29h1v1h-1zM55 30h1v1h-1zM55 31h1v1h-1zM4 32h1v1h-1zM38 32h1v1h-1zM54 33h1v1h-1zM5 34h1v1h-1zM40 35h1v1h-1zM55 35h1v1h-1zM42 37h1v1h-1zM43 38h1v1h-1zM7 39h1v1h-1zM43 39h1v1h-1zM43 40h1v1h-1zM43 41h1v1h-1zM43 42h1v1h-1zM7 44h1v1h-1zM7 45h1v1h-1zM6 47h1v1h-1zM43 47h1v1h-1zM6 48h1v1h-1zM43 48h1v1h-1zM4 49h2v1h-2zM1 50h3v1h-3zM45 51h1v1h-1zM46 52h1v1h-1zM50 55h1v1h-1zM55 59h1v1h-1z"/><path fill="#b73557" d="M36 2h1v1h-1zM39 6h1v1h-1zM40 7h1v1h-1zM26 10h1v1h-1zM42 10h1v1h-1zM0 11h1v1h-1zM1 14h1v1h-1zM28 14h1v1h-1zM45 14h1v1h-1zM2 16h1v1h-1zM47 17h1v1h-1zM3 18h1v1h-1zM49 20h1v1h-1zM3 21h1v1h-1zM2 23h1v1h-1zM51 23h1v1h-1zM53 26h1v1h-1zM34 27h1v1h-1zM2 28h1v1h-1zM35 28h1v1h-1zM54 28h1v1h-1zM36 29h1v1h-1zM3 30h1v1h-1zM37 30h1v1h-1zM54 31h1v1h-1zM54 32h1v1h-1zM4 33h1v1h-1zM39 33h1v1h-1zM40 34h1v1h-1zM54 34h1v1h-1zM5 35h1v1h-1zM41 35h1v1h-1zM54 35h1v1h-1zM42 36h1v1h-1zM56 36h1v1h-1zM6 37h1v1h-1zM43 37h1v1h-1zM59 39h1v1h-1zM7 40h1v1h-1zM7 41h1v1h-1zM7 42h1v1h-1zM7 43h1v1h-1zM43 43h1v1h-1zM43 44h1v1h-1zM43 45h1v1h-1zM6 46h1v1h-1zM43 46h1v1h-1zM5 48h1v1h-1zM3 49h1v1h-1zM44 49h1v1h-1zM0 50h1v1h-1zM49 54h1v1h-1zM52 56h1v1h-1zM53 57h1v1h-1zM54 58h1v1h-1zM56 59h1v1h-1z"/><path fill="#bf3952" d="M35 1h1v1h-1zM20 3h1v1h-1zM37 4h1v1h-1zM38 5h1v1h-1zM41 9h1v1h-1zM0 12h1v1h-1zM43 12h1v1h-1zM44 13h1v1h-1zM1 15h1v1h-1zM29 17h1v1h-1zM3 19h1v1h-1zM48 19h1v1h-1zM3 20h1v1h-1zM30 20h1v1h-1zM50 22h1v1h-1zM1 24h1v1h-1zM1 25h1v1h-1zM52 25h1v1h-1zM1 26h1v1h-1zM1 27h1v1h-1zM53 27h1v1h-1zM1 28h1v1h-1zM2 29h1v1h-1zM54 29h1v1h-1zM54 30h1v1h-1zM3 31h1v1h-1zM38 31h1v1h-1zM53 32h1v1h-1zM53 33h1v1h-1zM4 34h1v1h-1zM53 34h1v1h-1zM42 35h1v1h-1zM53 35h1v1h-1zM5 36h1v1h-1zM43 36h1v1h-1zM55 36h1v1h-1zM44 37h1v1h-1zM57 37h1v1h-1zM6 38h1v1h-1zM44 38h1v1h-1zM58 38h1v1h-1zM6 39h1v1h-1zM44 39h1v1h-1zM44 40h1v1h-1zM44 41h1v1h-1zM6 44h1v1h-1zM6 45h1v1h-1zM5 47h1v1h-1zM3 48h2v1h-2zM44 48h1v1h-1zM0 49h3v1h-3zM45 50h1v1h-1zM46 51h1v1h-1zM47 52h1v1h-1zM48 53h1v1h-1zM51 55h1v1h-1zM55 58h1v1h-1zM57 59h1v1h-1z"/><path fill="#c43c4e" d="M34 0h1v1h-1zM27 11h1v1h-1zM42 11h1v1h-1zM0 13h1v1h-1zM28 13h1v1h-1zM29 16h1v1h-1zM46 16h1v1h-1zM2 17h1v1h-1zM30 19h1v1h-1zM49 21h1v1h-1zM2 22h1v1h-1zM31 22h1v1h-1zM32 24h1v1h-1zM51 24h1v1h-1zM0 25h1v1h-1zM0 26h1v1h-1zM52 26h1v1h-1zM0 27h1v1h-1zM0 28h1v1h-1zM53 28h1v1h-1zM0 29h2v1h-2zM53 29h1v1h-1zM0 30h1v1h-1zM2 30h1v1h-1zM53 30h1v1h-1zM2 31h1v1h-1zM53 31h1v1h-1zM3 32h1v1h-1zM39 32h1v1h-1zM3 33h1v1h-1zM40 33h1v1h-1zM52 33h1v1h-1zM41 34h1v1h-1zM52 34h1v1h-1zM4 35h1v1h-1zM43 35h1v1h-1zM52 35h1v1h-1zM44 36h1v1h-1zM54 36h1v1h-1zM5 37h1v1h-1zM45 37h1v1h-1zM56 37h1v1h-1zM45 38h1v1h-1zM45 39h1v1h-1zM6 40h1v1h-1zM6 41h1v1h-1zM6 42h1v1h-1zM44 42h1v1h-1zM6 43h1v1h-1zM44 43h1v1h-1zM44 44h1v1h-1zM5 45h1v1h-1zM5 46h1v1h-1zM44 46h1v1h-1zM4 47h1v1h-1zM44 47h1v1h-1zM2 48h1v1h-1zM50 54h1v1h-1zM53 56h1v1h-1zM54 57h1v1h-1zM56 58h1v1h-1zM58 59h1v1h-1z"/><path fill="#ca404a" d="M36 3h1v1h-1zM21 4h1v1h-1zM39 7h1v1h-1zM40 8h1v1h-1zM0 14h1v1h-1zM45 15h1v1h-1zM1 16h1v1h-1zM2 18h1v1h-1zM47 18h1v1h-1zM2 21h1v1h-1zM31 21h1v1h-1zM1 23h1v1h-1zM50 23h1v1h-1zM0 24h1v1h-1zM33 25h1v1h-1zM51 25h1v1h-1zM34 26h1v1h-1zM35 27h1v1h-1zM52 27h1v1h-1zM36 28h1v1h-1zM37 29h1v1h-1zM1 30h1v1h-1zM38 30h1v1h-1zM0 31h2v1h-2zM52 31h1v1h-1zM0 32h1v1h-1zM2 32h1v1h-1zM52 32h1v1h-1zM0 33h1v1h-1zM51 33h1v1h-1zM3 34h1v1h-1zM42 34h1v1h-1zM51 34h1v1h-1zM44 35h2v1h-2zM50 35h2v1h-2zM4 36h1v1h-1zM45 36h2v1h-2zM52 36h2v1h-2zM46 37h1v1h-1zM5 38h1v1h-1zM46 38h1v1h-1zM57 38h1v1h-1zM45 40h1v1h-1zM59 40h1v1h-1zM45 41h1v1h-1zM5 44h1v1h-1zM44 45h1v1h-1zM4 46h1v1h-1zM3 47h1v1h-1zM0 48h2v1h-2zM45 49h1v1h-1zM49 53h1v1h-1zM52 55h1v1h-1zM55 57h1v1h-1zM59 59h1v1h-1z"/><path fill="#cf4446" d="M20 0h1v1h-1zM20 2h1v1h-1zM35 2h1v1h-1zM22 5h1v1h-1zM37 5h1v1h-1zM23 6h1v1h-1zM38 6h1v1h-1zM24 7h1v1h-1zM25 8h1v1h-1zM26 9h1v1h-1zM41 10h1v1h-1zM28 12h1v1h-1zM43 13h1v1h-1zM44 14h1v1h-1zM29 15h1v1h-1zM46 17h1v1h-1zM30 18h1v1h-1zM2 19h1v1h-1zM2 20h1v1h-1zM48 20h1v1h-1zM1 22h1v1h-1zM49 22h1v1h-1zM0 23h1v1h-1zM32 23h1v1h-1zM52 28h1v1h-1zM52 29h1v1h-1zM52 30h1v1h-1zM39 31h1v1h-1zM1 32h1v1h-1zM40 32h1v1h-1zM51 32h1v1h-1zM1 33h2v1h-2zM41 33h1v1h-1zM50 33h1v1h-1zM0 34h1v1h-1zM2 34h1v1h-1zM43 34h3v1h-3zM48 34h3v1h-3zM3 35h1v1h-1zM46 35h4v1h-4zM47 36h5v1h-5zM4 37h1v1h-1zM47 37h2v1h-2zM54 37h2v1h-2zM47 38h1v1h-1zM5 39h1v1h-1zM46 39h1v1h-1zM58 39h1v1h-1zM5 40h1v1h-1zM46 40h1v1h-1zM5 41h1v1h-1zM5 42h1v1h-1zM45 42h1v1h-1zM5 43h1v1h-1zM45 43h1v1h-1zM4 45h1v1h-1zM3 46h1v1h-1zM1 47h2v1h-2zM45 48h1v1h-1zM46 50h1v1h-1zM47 51h1v1h-1zM48 52h1v1h-1zM51 54h1v1h-1zM54 56h1v1h-1zM57 58h1v1h-1z"/><path fill="#d44842" d="M20 1h1v1h-1zM36 4h1v1h-1zM40 9h1v1h-1zM27 10h1v1h-1zM42 12h1v1h-1zM29 14h1v1h-1zM0 15h1v1h-1zM1 17h1v1h-1zM30 17h1v1h-1zM47 19h1v1h-1zM31 20h1v1h-1zM1 21h1v1h-1zM50 24h1v1h-1zM51 26h1v1h-1zM51 27h1v1h-1zM51 31h1v1h-1zM50 32h1v1h-1zM42 33h1v1h-1zM48 33h2v1h-2zM1 34h1v1h-1zM46 34h2v1h-2zM0 35h1v1h-1zM2 35h1v1h-1zM3 36h1v1h-1zM49 37h5v1h-5zM4 38h1v1h-1zM48 38h1v1h-1zM56 38h1v1h-1zM47 39h1v1h-1zM46 41h1v1h-1zM4 43h1v1h-1zM4 44h1v1h-1zM45 44h1v1h-1zM3 45h1v1h-1zM45 45h1v1h-1zM2 46h1v1h-1zM45 46h1v1h-1zM0 47h1v1h-1zM45 47h1v1h-1zM46 49h1v1h-1zM50 53h1v1h-1zM52 54h1v1h-1zM53 55h1v1h-1zM56 57h1v1h-1zM58 58h1v1h-1z"/><path fill="#d94d3d" d="M34 1h1v1h-1zM38 7h1v1h-1zM39 8h1v1h-1zM41 11h1v1h-1zM0 16h1v1h-1zM45 16h1v1h-1zM1 18h1v1h-1zM1 19h1v1h-1zM1 20h1v1h-1zM48 21h1v1h-1zM0 22h1v1h-1zM32 22h1v1h-1zM49 23h1v1h-1zM33 24h1v1h-1zM50 25h1v1h-1zM36 27h1v1h-1zM37 28h1v1h-1zM51 28h1v1h-1zM38 29h1v1h-1zM51 29h1v1h-1zM39 30h1v1h-1zM51 30h1v1h-1zM40 31h1v1h-1zM50 31h1v1h-1zM41 32h1v1h-1zM49 32h1v1h-1zM43 33h5v1h-5zM1 35h1v1h-1zM0 36h3v1h-3zM3 37h1v1h-1zM49 38h2v1h-2zM55 38h1v1h-1zM4 39h1v1h-1zM48 39h1v1h-1zM57 39h1v1h-1zM4 40h1v1h-1zM47 40h1v1h-1zM58 40h1v1h-1zM4 41h1v1h-1zM59 41h1v1h-1zM4 42h1v1h-1zM46 42h1v1h-1zM46 43h1v1h-1zM3 44h1v1h-1zM2 45h1v1h-1zM0 46h2v1h-2zM47 50h1v1h-1zM48 51h1v1h-1zM49 52h1v1h-1zM54 55h1v1h-1zM55 56h1v1h-1zM57 57h1v1h-1zM59 58h1v1h-1z"/><path fill="#de5238" d="M21 3h1v1h-1zM35 3h1v1h-1zM37 6h1v1h-1zM40 10h1v1h-1zM28 11h1v1h-1zM29 13h1v1h-1zM43 14h1v1h-1zM44 15h1v1h-1zM30 16h1v1h-1zM0 17h1v1h-1zM46 18h1v1h-1zM31 19h1v1h-1zM47 20h1v1h-1zM0 21h1v1h-1zM34 25h1v1h-1zM35 26h1v1h-1zM50 26h1v1h-1zM50 30h1v1h-1zM49 31h1v1h-1zM42 32h1v1h-1zM47 32h2v1h-2zM0 37h3v1h-3zM3 38h1v1h-1zM51 38h4v1h-4zM3 39h1v1h-1zM49 39h1v1h-1zM3 40h1v1h-1zM48 40h1v1h-1zM47 41h1v1h-1zM3 42h1v1h-1zM3 43h1v1h-1zM2 44h1v1h-1zM46 44h1v1h-1zM0 45h2v1h-2zM46 45h1v1h-1zM46 46h1v1h-1zM46 47h1v1h-1zM46 48h1v1h-1zM51 53h1v1h-1zM53 54h1v1h-1zM56 56h1v1h-1zM58 57h1v1h-1z"/><path fill="#e25734" d="M33 0h1v1h-1zM22 4h1v1h-1zM36 5h1v1h-1zM39 9h1v1h-1zM41 12h1v1h-1zM42 13h1v1h-1zM30 15h1v1h-1zM45 17h1v1h-1zM0 18h1v1h-1zM31 18h1v1h-1zM0 19h1v1h-1zM0 20h1v1h-1zM32 21h1v1h-1zM48 22h1v1h-1zM33 23h1v1h-1zM49 24h1v1h-1zM50 27h1v1h-1zM38 28h1v1h-1zM50 28h1v1h-1zM39 29h1v1h-1zM50 29h1v1h-1zM40 30h1v1h-1zM49 30h1v1h-1zM41 31h1v1h-1zM48 31h1v1h-1zM43 32h4v1h-4zM0 38h3v1h-3zM2 39h1v1h-1zM50 39h1v1h-1zM56 39h1v1h-1zM49 40h1v1h-1zM3 41h1v1h-1zM48 41h1v1h-1zM47 42h1v1h-1zM59 42h1v1h-1zM2 43h1v1h-1zM47 43h1v1h-1zM1 44h1v1h-1zM47 49h1v1h-1zM50 52h1v1h-1zM52 53h1v1h-1zM54 54h1v1h-1zM55 55h1v1h-1zM57 56h1v1h-1zM59 57h1v1h-1z"/><path fill="#e65d2f" d="M21 2h1v1h-1zM23 5h1v1h-1zM24 6h1v1h-1zM25 7h1v1h-1zM37 7h1v1h-1zM26 8h1v1h-1zM38 8h1v1h-1zM27 9h1v1h-1zM29 12h1v1h-1zM44 16h1v1h-1zM31 17h1v1h-1zM46 19h1v1h-1zM32 20h1v1h-1zM47 21h1v1h-1zM48 23h1v1h-1zM49 25h1v1h-1zM36 26h1v1h-1zM49 26h1v1h-1zM37 27h1v1h-1zM49 29h1v1h-1zM42 31h1v1h-1zM47 31h1v1h-1zM0 39h2v1h-2zM51 39h2v1h-2zM55 39h1v1h-1zM0 40h3v1h-3zM50 40h1v1h-1zM57 40h1v1h-1zM1 41h2v1h-2zM58 41h1v1h-1zM1 42h2v1h-2zM48 42h1v1h-1zM0 43h2v1h-2zM0 44h1v1h-1zM47 44h1v1h-1zM47 48h1v1h-1zM48 50h1v1h-1zM49 51h1v1h-1zM56 55h1v1h-1zM58 56h1v1h-1z"/><path fill="#ea632a" d="M21 0h1v1h-1zM21 1h1v1h-1zM34 2h1v1h-1zM35 4h1v1h-1zM36 6h1v1h-1zM28 10h1v1h-1zM40 11h1v1h-1zM30 14h1v1h-1zM42 14h1v1h-1zM43 15h1v1h-1zM45 18h1v1h-1zM33 22h1v1h-1zM34 24h1v1h-1zM48 24h1v1h-1zM35 25h1v1h-1zM49 27h1v1h-1zM39 28h1v1h-1zM49 28h1v1h-1zM40 29h1v1h-1zM41 30h1v1h-1zM48 30h1v1h-1zM43 31h4v1h-4zM53 39h2v1h-2zM51 40h1v1h-1zM0 41h1v1h-1zM49 41h1v1h-1zM0 42h1v1h-1zM48 43h1v1h-1zM47 45h1v1h-1zM47 46h1v1h-1zM47 47h1v1h-1zM51 52h1v1h-1zM53 53h1v1h-1zM55 54h1v1h-1zM57 55h1v1h-1zM59 56h1v1h-1z"/><path fill="#ed6925" d="M38 9h1v1h-1zM39 10h1v1h-1zM29 11h1v1h-1zM40 12h1v1h-1zM30 13h1v1h-1zM41 13h1v1h-1zM31 16h1v1h-1zM44 17h1v1h-1zM32 19h1v1h-1zM46 20h1v1h-1zM47 22h1v1h-1zM48 25h1v1h-1zM38 27h1v1h-1zM48 28h1v1h-1zM48 29h1v1h-1zM42 30h1v1h-1zM47 30h1v1h-1zM52 40h1v1h-1zM55 40h2v1h-2zM50 41h1v1h-1zM57 41h1v1h-1zM49 42h1v1h-1zM58 42h1v1h-1zM59 43h1v1h-1zM48 44h1v1h-1zM48 49h1v1h-1zM49 50h1v1h-1zM50 51h1v1h-1zM52 52h1v1h-1zM54 53h1v1h-1zM56 54h1v1h-1zM58 55h2v1h-2z"/><path fill="#f06f20" d="M33 1h1v1h-1zM22 3h1v1h-1zM34 3h1v1h-1zM35 5h1v1h-1zM36 7h1v1h-1zM37 8h1v1h-1zM39 11h1v1h-1zM31 15h1v1h-1zM42 15h1v1h-1zM43 16h1v1h-1zM32 18h1v1h-1zM45 19h1v1h-1zM33 21h1v1h-1zM46 21h1v1h-1zM34 23h1v1h-1zM47 23h1v1h-1zM36 25h1v1h-1zM37 26h1v1h-1zM48 26h1v1h-1zM48 27h1v1h-1zM40 28h1v1h-1zM41 29h1v1h-1zM47 29h1v1h-1zM43 30h4v1h-4zM53 40h2v1h-2zM51 41h1v1h-1zM50 42h1v1h-1zM49 43h1v1h-1zM48 45h1v1h-1zM48 46h1v1h-1zM48 47h1v1h-1zM48 48h1v1h-1zM51 51h1v1h-1zM53 52h1v1h-1zM55 53h2v1h-2zM57 54h3v1h-3z"/><path fill="#f3761b" d="M32 0h1v1h-1zM23 4h1v1h-1zM38 10h1v1h-1zM30 12h1v1h-1zM40 13h1v1h-1zM31 14h1v1h-1zM41 14h1v1h-1zM32 17h1v1h-1zM44 18h1v1h-1zM33 20h1v1h-1zM35 24h1v1h-1zM47 24h1v1h-1zM38 26h1v1h-1zM39 27h1v1h-1zM47 28h1v1h-1zM42 29h1v1h-1zM46 29h1v1h-1zM52 41h1v1h-1zM56 41h1v1h-1zM57 42h1v1h-1zM58 43h1v1h-1zM49 44h1v1h-1zM59 44h1v1h-1zM49 49h1v1h-1zM50 50h1v1h-1zM52 51h1v1h-1zM54 52h2v1h-2zM57 53h3v1h-3z"/><path fill="#f57d15" d="M22 2h1v1h-1zM24 5h1v1h-1zM25 6h1v1h-1zM35 6h1v1h-1zM26 7h1v1h-1zM27 8h1v1h-1zM36 8h1v1h-1zM28 9h1v1h-1zM37 9h1v1h-1zM29 10h1v1h-1zM39 12h1v1h-1zM41 15h1v1h-1zM32 16h1v1h-1zM42 16h1v1h-1zM43 17h1v1h-1zM33 19h1v1h-1zM45 20h1v1h-1zM34 22h1v1h-1zM46 22h1v1h-1zM37 25h1v1h-1zM47 25h1v1h-1zM47 26h1v1h-1zM40 27h1v1h-1zM47 27h1v1h-1zM41 28h1v1h-1zM46 28h1v1h-1zM43 29h3v1h-3zM53 41h3v1h-3zM51 42h1v1h-1zM50 43h1v1h-1zM49 45h1v1h-1zM49 46h1v1h-1zM49 47h1v1h-1zM49 48h1v1h-1zM51 50h1v1h-1zM53 51h1v1h-1zM59 51h1v1h-1zM56 52h4v1h-4z"/><path fill="#f78410" d="M22 0h1v1h-1zM22 1h1v1h-1zM33 2h1v1h-1zM34 4h1v1h-1zM35 7h1v1h-1zM37 10h1v1h-1zM30 11h1v1h-1zM38 11h1v1h-1zM31 13h1v1h-1zM39 13h1v1h-1zM40 14h1v1h-1zM32 15h1v1h-1zM33 18h1v1h-1zM44 19h1v1h-1zM34 21h1v1h-1zM45 21h1v1h-1zM35 23h1v1h-1zM46 23h1v1h-1zM36 24h1v1h-1zM46 24h1v1h-1zM39 26h1v1h-1zM46 27h1v1h-1zM42 28h2v1h-2zM45 28h1v1h-1zM52 42h2v1h-2zM55 42h2v1h-2zM51 43h1v1h-1zM57 43h1v1h-1zM50 44h1v1h-1zM58 44h1v1h-1zM59 45h1v1h-1zM59 46h1v1h-1zM59 48h1v1h-1zM50 49h1v1h-1zM59 49h1v1h-1zM52 50h1v1h-1zM58 50h2v1h-2zM54 51h5v1h-5z"/><path fill="#f98b0b" d="M34 5h1v1h-1zM35 8h1v1h-1zM36 9h1v1h-1zM37 11h1v1h-1zM31 12h1v1h-1zM38 12h1v1h-1zM32 14h1v1h-1zM39 14h1v1h-1zM40 15h1v1h-1zM41 16h1v1h-1zM33 17h1v1h-1zM42 17h1v1h-1zM43 18h1v1h-1zM34 20h1v1h-1zM44 20h1v1h-1zM45 22h1v1h-1zM38 25h1v1h-1zM46 25h1v1h-1zM40 26h1v1h-1zM46 26h1v1h-1zM41 27h2v1h-2zM45 27h1v1h-1zM44 28h1v1h-1zM54 42h1v1h-1zM52 43h1v1h-1zM56 43h1v1h-1zM51 44h1v1h-1zM57 44h1v1h-1zM50 45h1v1h-1zM58 45h1v1h-1zM50 46h1v1h-1zM58 46h1v1h-1zM50 47h1v1h-1zM58 47h2v1h-2zM50 48h1v1h-1zM58 48h1v1h-1zM51 49h1v1h-1zM57 49h2v1h-2zM53 50h5v1h-5z"/><path fill="#fa9407" d="M23 3h1v1h-1zM34 6h1v1h-1zM28 8h1v1h-1zM29 9h1v1h-1zM35 9h1v1h-1zM30 10h1v1h-1zM36 10h1v1h-1zM31 11h1v1h-1zM37 12h1v1h-1zM32 13h1v1h-1zM38 13h1v1h-1zM33 15h1v1h-1zM33 16h1v1h-1zM40 16h1v1h-1zM41 17h1v1h-1zM42 18h1v1h-1zM34 19h1v1h-1zM43 19h1v1h-1zM44 21h1v1h-1zM35 22h1v1h-1zM36 23h1v1h-1zM45 23h1v1h-1zM37 24h1v1h-1zM45 24h1v1h-1zM39 25h1v1h-1zM45 25h1v1h-1zM41 26h1v1h-1zM45 26h1v1h-1zM43 27h2v1h-2zM53 43h3v1h-3zM52 44h1v1h-1zM56 44h1v1h-1zM51 45h1v1h-1zM57 45h1v1h-1zM51 46h1v1h-1zM57 46h1v1h-1zM51 47h1v1h-1zM57 47h1v1h-1zM51 48h1v1h-1zM57 48h1v1h-1zM52 49h5v1h-5z"/><path fill="#fb9b06" d="M31 0h1v1h-1zM32 1h1v1h-1zM33 3h1v1h-1zM24 4h1v1h-1zM25 5h1v1h-1zM26 6h1v1h-1zM27 7h1v1h-1zM34 7h1v1h-1zM34 8h1v1h-1zM35 10h1v1h-1zM32 11h1v1h-1zM35 11h2v1h-2zM32 12h1v1h-1zM36 12h1v1h-1zM33 13h1v1h-1zM37 13h1v1h-1zM33 14h1v1h-1zM38 14h1v1h-1zM39 15h1v1h-1zM34 17h1v1h-1zM34 18h1v1h-1zM41 18h1v1h-1zM42 19h1v1h-1zM43 20h1v1h-1zM35 21h1v1h-1zM44 22h1v1h-1zM37 23h1v1h-1zM38 24h1v1h-1zM40 25h1v1h-1zM44 25h1v1h-1zM42 26h3v1h-3zM53 44h3v1h-3zM52 45h5v1h-5zM52 46h1v1h-1zM56 46h1v1h-1zM52 47h1v1h-1zM55 47h2v1h-2zM52 48h5v1h-5z"/><path fill="#fca309" d="M23 0h1v1h-1zM23 2h1v1h-1zM33 4h1v1h-1zM30 9h1v1h-1zM34 9h1v1h-1zM31 10h4v1h-4zM33 11h2v1h-2zM33 12h3v1h-3zM34 13h3v1h-3zM34 14h1v1h-1zM36 14h2v1h-2zM34 15h1v1h-1zM38 15h1v1h-1zM34 16h1v1h-1zM39 16h1v1h-1zM39 17h2v1h-2zM40 18h1v1h-1zM35 19h1v1h-1zM41 19h1v1h-1zM35 20h1v1h-1zM42 20h1v1h-1zM43 21h1v1h-1zM36 22h1v1h-1zM43 22h1v1h-1zM38 23h1v1h-1zM44 23h1v1h-1zM39 24h2v1h-2zM43 24h2v1h-2zM41 25h3v1h-3zM53 46h3v1h-3zM53 47h2v1h-2z"/><path fill="#fcaa0f" d="M23 1h1v1h-1zM33 5h1v1h-1zM33 7h1v1h-1zM29 8h1v1h-1zM33 8h1v1h-1zM31 9h3v1h-3zM35 14h1v1h-1zM35 15h3v1h-3zM35 16h4v1h-4zM35 17h1v1h-1zM38 17h1v1h-1zM35 18h1v1h-1zM39 18h1v1h-1zM40 19h1v1h-1zM36 20h1v1h-1zM41 20h1v1h-1zM36 21h1v1h-1zM41 21h2v1h-2zM37 22h3v1h-3zM41 22h2v1h-2zM39 23h5v1h-5zM41 24h2v1h-2z"/><path fill="#fcb216" d="M32 2h1v1h-1zM24 3h1v1h-1zM33 6h1v1h-1zM28 7h1v1h-1zM36 17h2v1h-2zM36 18h3v1h-3zM36 19h4v1h-4zM37 20h4v1h-4zM37 21h4v1h-4zM40 22h1v1h-1z"/><path fill="#fbba1f" d="M25 4h1v1h-1zM26 5h1v1h-1zM27 6h1v1h-1zM30 8h3v1h-3z"/><path fill="#fac228" d="M24 0h1v1h-1zM30 0h1v1h-1zM31 1h1v1h-1zM24 2h1v1h-1zM32 3h1v1h-1zM32 7h1v1h-1z"/><path fill="#f9c932" d="M24 1h1v1h-1zM32 4h1v1h-1zM32 5h1v1h-1zM32 6h1v1h-1zM29 7h1v1h-1zM31 7h1v1h-1z"/><path fill="#f7d13d" d="M25 3h1v1h-1zM28 6h1v1h-1zM30 7h1v1h-1z"/><path fill="#f5d949" d="M25 0h1v1h-1zM29 0h1v1h-1zM31 2h1v1h-1zM26 4h1v1h-1zM27 5h1v1h-1zM31 6h1v1h-1z"/><path fill="#f4e156" d="M25 1h1v1h-1zM30 1h1v1h-1zM25 2h1v1h-1zM31 3h1v1h-1zM31 4h1v1h-1zM31 5h1v1h-1zM29 6h2v1h-2z"/><path fill="#f2e865" d="M26 0h3v1h-3zM26 3h1v1h-1zM28 5h1v1h-1z"/><path fill="#f1ef75" d="M26 1h1v1h-1zM30 2h1v1h-1zM27 4h1v1h-1zM29 5h2v1h-2z"/><path fill="#f3f586" d="M29 1h1v1h-1zM26 2h1v1h-1zM30 3h1v1h-1zM30 4h1v1h-1z"/><path fill="#f6fa96" d="M27 1h2v1h-2zM27 3h1v1h-1zM28 4h2v1h-2z"/><path fill="#fcffa4" d="M27 2h3v1h-3zM28 3h2v1h-2z"/></g>
<linearGradient id="cbB" x1="0" y1="0" x2="0" y2="1"><stop offset="0.000" stop-color="#fcffa4"/><stop offset="0.021" stop-color="#f5f992"/><stop offset="0.043" stop-color="#f2f27d"/><stop offset="0.064" stop-color="#f2e865"/><stop offset="0.085" stop-color="#f4df53"/><stop offset="0.106" stop-color="#f7d340"/><stop offset="0.128" stop-color="#f9c932"/><stop offset="0.149" stop-color="#fbbe23"/><stop offset="0.170" stop-color="#fcb418"/><stop offset="0.191" stop-color="#fca80d"/><stop offset="0.213" stop-color="#fc9f07"/><stop offset="0.234" stop-color="#fb9606"/><stop offset="0.255" stop-color="#f98b0b"/><stop offset="0.277" stop-color="#f78212"/><stop offset="0.298" stop-color="#f37819"/><stop offset="0.319" stop-color="#f06f20"/><stop offset="0.340" stop-color="#eb6628"/><stop offset="0.362" stop-color="#e75e2e"/><stop offset="0.383" stop-color="#e15635"/><stop offset="0.404" stop-color="#db503b"/><stop offset="0.426" stop-color="#d54a41"/><stop offset="0.447" stop-color="#ce4347"/><stop offset="0.468" stop-color="#c73e4c"/><stop offset="0.489" stop-color="#bf3952"/><stop offset="0.511" stop-color="#b73557"/><stop offset="0.532" stop-color="#ae305c"/><stop offset="0.553" stop-color="#a62d60"/><stop offset="0.574" stop-color="#9d2964"/><stop offset="0.596" stop-color="#952667"/><stop offset="0.617" stop-color="#8d2369"/><stop offset="0.638" stop-color="#84206b"/><stop offset="0.660" stop-color="#7c1d6d"/><stop offset="0.681" stop-color="#721a6e"/><stop offset="0.702" stop-color="#6a176e"/><stop offset="0.723" stop-color="#61136e"/><stop offset="0.745" stop-color="#59106e"/><stop offset="0.766" stop-color="#4f0d6c"/><stop offset="0.787" stop-color="#470b6a"/><stop offset="0.809" stop-color="#3e0966"/><stop offset="0.830" stop-color="#340a5f"/><stop offset="0.851" stop-color="#2b0b57"/><stop offset="0.872" stop-color="#210c4a"/><stop offset="0.894" stop-color="#190c3e"/><stop offset="0.915" stop-color="#110a30"/><stop offset="0.936" stop-color="#0b0724"/><stop offset="0.957" stop-color="#050417"/><stop offset="0.979" stop-color="#02020c"/><stop offset="1.000" stop-color="#000004"/></linearGradient><rect x="1318.6" y="46.3" width="23.100000000000136" height="463.4" fill="url(#cbB)"/>
<g transform="translate(840.30,565.60) scale(7.71500,7.72333)" shape-rendering="crispEdges"><path fill="#02010a" d="M14 3h2v1h-2zM15 4h1v1h-1zM15 5h2v1h-2zM15 6h2v1h-2zM15 7h3v1h-3zM15 8h3v1h-3zM16 9h3v1h-3zM16 10h3v1h-3zM17 11h3v1h-3zM17 12h3v1h-3zM17 13h4v1h-4zM18 14h3v1h-3zM18 15h4v1h-4zM18 16h4v1h-4zM43 16h1v1h-1zM19 17h4v1h-4zM44 17h1v1h-1zM19 18h4v1h-4zM44 18h2v1h-2zM19 19h5v1h-5zM45 19h2v1h-2zM20 20h5v1h-5zM45 20h2v1h-2zM20 21h5v1h-5zM45 21h3v1h-3zM20 22h6v1h-6zM46 22h3v1h-3zM20 23h6v1h-6zM46 23h4v1h-4zM21 24h6v1h-6zM47 24h3v1h-3zM21 25h6v1h-6zM47 25h4v1h-4zM21 26h7v1h-7zM48 26h4v1h-4zM21 27h7v1h-7zM48 27h4v1h-4zM21 28h8v1h-8zM49 28h4v1h-4zM22 29h7v1h-7zM49 29h5v1h-5zM22 30h8v1h-8zM50 30h5v1h-5zM22 31h8v1h-8zM50 31h5v1h-5zM22 32h9v1h-9zM51 32h5v1h-5zM22 33h9v1h-9zM51 33h6v1h-6zM22 34h10v1h-10zM52 34h6v1h-6zM22 35h10v1h-10zM53 35h5v1h-5zM23 36h10v1h-10zM53 36h6v1h-6zM23 37h10v1h-10zM54 37h6v1h-6zM23 38h11v1h-11zM54 38h6v1h-6zM23 39h11v1h-11zM55 39h5v1h-5zM24 40h11v1h-11zM55 40h5v1h-5zM24 41h11v1h-11zM56 41h4v1h-4zM25 42h11v1h-11zM56 42h4v1h-4zM25 43h12v1h-12zM57 43h3v1h-3zM26 44h11v1h-11zM57 44h3v1h-3zM26 45h12v1h-12zM58 45h2v1h-2zM27 46h11v1h-11zM58 46h2v1h-2zM27 47h12v1h-12zM59 47h1v1h-1zM28 48h11v1h-11zM59 48h1v1h-1zM28 49h12v1h-12zM28 50h12v1h-12zM29 51h12v1h-12zM29 52h12v1h-12zM29 53h13v1h-13zM30 54h13v1h-13zM30 55h13v1h-13zM30 56h14v1h-14zM30 57h14v1h-14zM30 58h15v1h-15zM31 59h14v1h-14z"/><path fill="#040312" d="M11 0h4v1h-4zM31 0h3v1h-3zM49 0h4v1h-4zM11 1h5v1h-5zM32 1h3v1h-3zM50 1h4v1h-4zM12 2h4v1h-4zM32 2h3v1h-3zM50 2h5v1h-5zM12 3h2v1h-2zM16 3h1v1h-1zM33 3h3v1h-3zM51 3h4v1h-4zM12 4h3v1h-3zM16 4h1v1h-1zM33 4h4v1h-4zM52 4h4v1h-4zM12 5h3v1h-3zM34 5h3v1h-3zM52 5h5v1h-5zM12 6h3v1h-3zM17 6h1v1h-1zM34 6h4v1h-4zM53 6h4v1h-4zM12 7h3v1h-3zM35 7h4v1h-4zM54 7h4v1h-4zM12 8h3v1h-3zM18 8h1v1h-1zM35 8h5v1h-5zM54 8h5v1h-5zM13 9h3v1h-3zM36 9h4v1h-4zM55 9h4v1h-4zM13 10h3v1h-3zM19 10h1v1h-1zM36 10h5v1h-5zM56 10h4v1h-4zM13 11h4v1h-4zM37 11h5v1h-5zM56 11h4v1h-4zM14 12h3v1h-3zM20 12h1v1h-1zM37 12h5v1h-5zM57 12h3v1h-3zM14 13h3v1h-3zM37 13h6v1h-6zM58 13h2v1h-2zM14 14h4v1h-4zM21 14h1v1h-1zM38 14h6v1h-6zM58 14h2v1h-2zM15 15h3v1h-3zM38 15h6v1h-6zM59 15h1v1h-1zM15 16h3v1h-3zM22 16h1v1h-1zM39 16h4v1h-4zM44 16h1v1h-1zM15 17h4v1h-4zM39 17h5v1h-5zM45 17h1v1h-1zM16 18h3v1h-3zM23 18h1v1h-1zM40 18h4v1h-4zM46 18h1v1h-1zM16 19h3v1h-3zM40 19h5v1h-5zM16 20h4v1h-4zM41 20h4v1h-4zM47 20h1v1h-1zM17 21h3v1h-3zM41 21h4v1h-4zM48 21h1v1h-1zM17 22h3v1h-3zM42 22h4v1h-4zM17 23h3v1h-3zM42 23h4v1h-4zM18 24h3v1h-3zM43 24h4v1h-4zM50 24h1v1h-1zM18 25h3v1h-3zM27 25h1v1h-1zM43 25h4v1h-4zM51 25h1v1h-1zM18 26h3v1h-3zM44 26h4v1h-4zM18 27h3v1h-3zM28 27h1v1h-1zM44 27h4v1h-4zM52 27h1v1h-1zM19 28h2v1h-2zM45 28h4v1h-4zM53 28h1v1h-1zM19 29h3v1h-3zM29 29h1v1h-1zM45 29h4v1h-4zM19 30h3v1h-3zM46 30h4v1h-4zM19 31h3v1h-3zM30 31h1v1h-1zM46 31h4v1h-4zM55 31h1v1h-1zM19 32h3v1h-3zM47 32h4v1h-4zM56 32h1v1h-1zM20 33h2v1h-2zM31 33h1v1h-1zM47 33h4v1h-4zM20 34h2v1h-2zM48 34h4v1h-4zM20 35h2v1h-2zM32 35h1v1h-1zM48 35h5v1h-5zM58 35h1v1h-1zM20 36h3v1h-3zM49 36h4v1h-4zM59 36h1v1h-1zM20 37h3v1h-3zM33 37h1v1h-1zM49 37h5v1h-5zM21 38h2v1h-2zM50 38h4v1h-4zM21 39h2v1h-2zM34 39h1v1h-1zM50 39h5v1h-5zM21 40h3v1h-3zM51 40h4v1h-4zM22 41h2v1h-2zM35 41h1v1h-1zM52 41h4v1h-4zM22 42h3v1h-3zM52 42h4v1h-4zM22 43h3v1h-3zM53 43h4v1h-4zM23 44h3v1h-3zM53 44h4v1h-4zM23 45h3v1h-3zM54 45h4v1h-4zM24 46h3v1h-3zM38 46h1v1h-1zM54 46h4v1h-4zM24 47h3v1h-3zM55 47h4v1h-4zM24 48h4v1h-4zM39 48h1v1h-1zM55 48h4v1h-4zM25 49h3v1h-3zM56 49h4v1h-4zM25 50h3v1h-3zM40 50h1v1h-1zM56 50h4v1h-4zM25 51h4v1h-4zM57 51h3v1h-3zM26 52h3v1h-3zM41 52h1v1h-1zM57 52h3v1h-3zM26 53h3v1h-3zM58 53h2v1h-2zM26 54h4v1h-4zM58 54h2v1h-2zM27 55h3v1h-3zM59 55h1v1h-1zM27 56h3v1h-3zM59 56h1v1h-1zM27 57h3v1h-3zM44 57h1v1h-1zM27 58h3v1h-3zM28 59h3v1h-3zM45 59h1v1h-1z"/><path fill="#07051b" d="M10 0h1v1h-1zM29 0h2v1h-2zM47 0h2v1h-2zM10 1h1v1h-1zM30 1h2v1h-2zM47 1h3v1h-3zM10 2h2v1h-2zM30 2h2v1h-2zM35 2h1v1h-1zM48 2h2v1h-2zM10 3h2v1h-2zM31 3h2v1h-2zM49 3h2v1h-2zM55 3h1v1h-1zM10 4h2v1h-2zM31 4h2v1h-2zM49 4h3v1h-3zM10 5h2v1h-2zM17 5h1v1h-1zM31 5h3v1h-3zM37 5h1v1h-1zM50 5h2v1h-2zM11 6h1v1h-1zM32 6h2v1h-2zM51 6h2v1h-2zM57 6h1v1h-1zM11 7h1v1h-1zM18 7h1v1h-1zM32 7h3v1h-3zM52 7h2v1h-2zM11 8h1v1h-1zM33 8h2v1h-2zM52 8h2v1h-2zM11 9h2v1h-2zM19 9h1v1h-1zM33 9h3v1h-3zM40 9h1v1h-1zM53 9h2v1h-2zM59 9h1v1h-1zM11 10h2v1h-2zM34 10h2v1h-2zM54 10h2v1h-2zM12 11h1v1h-1zM20 11h1v1h-1zM34 11h3v1h-3zM54 11h2v1h-2zM12 12h2v1h-2zM35 12h2v1h-2zM42 12h1v1h-1zM55 12h2v1h-2zM12 13h2v1h-2zM21 13h1v1h-1zM35 13h2v1h-2zM56 13h2v1h-2zM13 14h1v1h-1zM36 14h2v1h-2zM56 14h2v1h-2zM13 15h2v1h-2zM22 15h1v1h-1zM36 15h2v1h-2zM44 15h1v1h-1zM57 15h2v1h-2zM13 16h2v1h-2zM37 16h2v1h-2zM58 16h2v1h-2zM14 17h1v1h-1zM23 17h1v1h-1zM37 17h2v1h-2zM58 17h2v1h-2zM14 18h2v1h-2zM38 18h2v1h-2zM59 18h1v1h-1zM14 19h2v1h-2zM24 19h1v1h-1zM38 19h2v1h-2zM47 19h1v1h-1zM14 20h2v1h-2zM39 20h2v1h-2zM15 21h2v1h-2zM25 21h1v1h-1zM39 21h2v1h-2zM15 22h2v1h-2zM40 22h2v1h-2zM49 22h1v1h-1zM15 23h2v1h-2zM26 23h1v1h-1zM40 23h2v1h-2zM16 24h2v1h-2zM41 24h2v1h-2zM16 25h2v1h-2zM41 25h2v1h-2zM16 26h2v1h-2zM42 26h2v1h-2zM52 26h1v1h-1zM17 27h1v1h-1zM42 27h2v1h-2zM17 28h2v1h-2zM43 28h2v1h-2zM17 29h2v1h-2zM43 29h2v1h-2zM54 29h1v1h-1zM17 30h2v1h-2zM44 30h2v1h-2zM18 31h1v1h-1zM44 31h2v1h-2zM18 32h1v1h-1zM45 32h2v1h-2zM18 33h2v1h-2zM45 33h2v1h-2zM57 33h1v1h-1zM18 34h2v1h-2zM46 34h2v1h-2zM19 35h1v1h-1zM46 35h2v1h-2zM19 36h1v1h-1zM47 36h2v1h-2zM19 37h1v1h-1zM47 37h2v1h-2zM19 38h2v1h-2zM48 38h2v1h-2zM20 39h1v1h-1zM48 39h2v1h-2zM20 40h1v1h-1zM35 40h1v1h-1zM49 40h2v1h-2zM20 41h2v1h-2zM49 41h3v1h-3zM20 42h2v1h-2zM36 42h1v1h-1zM50 42h2v1h-2zM21 43h1v1h-1zM50 43h3v1h-3zM21 44h2v1h-2zM37 44h1v1h-1zM51 44h2v1h-2zM22 45h1v1h-1zM52 45h2v1h-2zM22 46h2v1h-2zM52 46h2v1h-2zM22 47h2v1h-2zM53 47h2v1h-2zM23 48h1v1h-1zM53 48h2v1h-2zM23 49h2v1h-2zM54 49h2v1h-2zM23 50h2v1h-2zM54 50h2v1h-2zM24 51h1v1h-1zM55 51h2v1h-2zM24 52h2v1h-2zM55 52h2v1h-2zM24 53h2v1h-2zM42 53h1v1h-1zM56 53h2v1h-2zM25 54h1v1h-1zM56 54h2v1h-2zM25 55h2v1h-2zM43 55h1v1h-1zM57 55h2v1h-2zM25 56h2v1h-2zM57 56h2v1h-2zM25 57h2v1h-2zM58 57h2v1h-2zM26 58h1v1h-1zM58 58h2v1h-2zM26 59h2v1h-2zM59 59h1v1h-1z"/><path fill="#0b0724" d="M9 0h1v1h-1zM15 0h1v1h-1zM28 0h1v1h-1zM34 0h1v1h-1zM46 0h1v1h-1zM53 0h1v1h-1zM9 1h1v1h-1zM28 1h2v1h-2zM46 1h1v1h-1zM9 2h1v1h-1zM29 2h1v1h-1zM47 2h1v1h-1zM9 3h1v1h-1zM29 3h2v1h-2zM36 3h1v1h-1zM48 3h1v1h-1zM9 4h1v1h-1zM30 4h1v1h-1zM48 4h1v1h-1zM9 5h1v1h-1zM30 5h1v1h-1zM49 5h1v1h-1zM10 6h1v1h-1zM31 6h1v1h-1zM38 6h1v1h-1zM50 6h1v1h-1zM10 7h1v1h-1zM31 7h1v1h-1zM50 7h2v1h-2zM58 7h1v1h-1zM10 8h1v1h-1zM32 8h1v1h-1zM51 8h1v1h-1zM10 9h1v1h-1zM32 9h1v1h-1zM52 9h1v1h-1zM10 10h1v1h-1zM32 10h2v1h-2zM52 10h2v1h-2zM11 11h1v1h-1zM33 11h1v1h-1zM53 11h1v1h-1zM11 12h1v1h-1zM33 12h2v1h-2zM54 12h1v1h-1zM11 13h1v1h-1zM34 13h1v1h-1zM43 13h1v1h-1zM54 13h2v1h-2zM12 14h1v1h-1zM34 14h2v1h-2zM55 14h1v1h-1zM12 15h1v1h-1zM35 15h1v1h-1zM56 15h1v1h-1zM12 16h1v1h-1zM35 16h2v1h-2zM45 16h1v1h-1zM56 16h2v1h-2zM12 17h2v1h-2zM36 17h1v1h-1zM57 17h1v1h-1zM13 18h1v1h-1zM36 18h2v1h-2zM58 18h1v1h-1zM13 19h1v1h-1zM37 19h1v1h-1zM59 19h1v1h-1zM13 20h1v1h-1zM37 20h2v1h-2zM59 20h1v1h-1zM14 21h1v1h-1zM38 21h1v1h-1zM14 22h1v1h-1zM38 22h2v1h-2zM14 23h1v1h-1zM39 23h1v1h-1zM50 23h1v1h-1zM15 24h1v1h-1zM39 24h2v1h-2zM15 25h1v1h-1zM40 25h1v1h-1zM15 26h1v1h-1zM40 26h2v1h-2zM15 27h2v1h-2zM41 27h1v1h-1zM16 28h1v1h-1zM41 28h2v1h-2zM16 29h1v1h-1zM42 29h1v1h-1zM16 30h1v1h-1zM42 30h2v1h-2zM55 30h1v1h-1zM16 31h2v1h-2zM43 31h1v1h-1zM17 32h1v1h-1zM43 32h2v1h-2zM17 33h1v1h-1zM44 33h1v1h-1zM17 34h1v1h-1zM32 34h1v1h-1zM44 34h2v1h-2zM58 34h1v1h-1zM17 35h2v1h-2zM45 35h1v1h-1zM18 36h1v1h-1zM33 36h1v1h-1zM45 36h2v1h-2zM18 37h1v1h-1zM46 37h1v1h-1zM18 38h1v1h-1zM34 38h1v1h-1zM46 38h2v1h-2zM19 39h1v1h-1zM47 39h1v1h-1zM19 40h1v1h-1zM48 40h1v1h-1zM19 41h1v1h-1zM48 41h1v1h-1zM19 42h1v1h-1zM49 42h1v1h-1zM20 43h1v1h-1zM49 43h1v1h-1zM20 44h1v1h-1zM50 44h1v1h-1zM20 45h2v1h-2zM50 45h2v1h-2zM21 46h1v1h-1zM51 46h1v1h-1zM21 47h1v1h-1zM51 47h2v1h-2zM21 48h2v1h-2zM52 48h1v1h-1zM22 49h1v1h-1zM40 49h1v1h-1zM52 49h2v1h-2zM22 50h1v1h-1zM53 50h1v1h-1zM23 51h1v1h-1zM41 51h1v1h-1zM53 51h2v1h-2zM23 52h1v1h-1zM54 52h1v1h-1zM23 53h1v1h-1zM54 53h2v1h-2zM23 54h2v1h-2zM55 54h1v1h-1zM24 55h1v1h-1zM56 55h1v1h-1zM24 56h1v1h-1zM56 56h1v1h-1zM24 57h1v1h-1zM57 57h1v1h-1zM25 58h1v1h-1zM57 58h1v1h-1zM25 59h1v1h-1zM58 59h1v1h-1z"/><path fill="#10092d" d="M8 0h1v1h-1zM27 0h1v1h-1zM45 0h1v1h-1zM8 1h1v1h-1zM27 1h1v1h-1zM45 1h1v1h-1zM54 1h1v1h-1zM8 2h1v1h-1zM16 2h1v1h-1zM28 2h1v1h-1zM46 2h1v1h-1zM8 3h1v1h-1zM28 3h1v1h-1zM47 3h1v1h-1zM8 4h1v1h-1zM17 4h1v1h-1zM29 4h1v1h-1zM47 4h1v1h-1zM56 4h1v1h-1zM29 5h1v1h-1zM48 5h1v1h-1zM9 6h1v1h-1zM18 6h1v1h-1zM30 6h1v1h-1zM49 6h1v1h-1zM9 7h1v1h-1zM30 7h1v1h-1zM39 7h1v1h-1zM49 7h1v1h-1zM9 8h1v1h-1zM19 8h1v1h-1zM31 8h1v1h-1zM50 8h1v1h-1zM9 9h1v1h-1zM31 9h1v1h-1zM51 9h1v1h-1zM20 10h1v1h-1zM41 10h1v1h-1zM51 10h1v1h-1zM10 11h1v1h-1zM32 11h1v1h-1zM52 11h1v1h-1zM10 12h1v1h-1zM32 12h1v1h-1zM53 12h1v1h-1zM10 13h1v1h-1zM33 13h1v1h-1zM11 14h1v1h-1zM33 14h1v1h-1zM54 14h1v1h-1zM11 15h1v1h-1zM34 15h1v1h-1zM55 15h1v1h-1zM11 16h1v1h-1zM34 16h1v1h-1zM35 17h1v1h-1zM56 17h1v1h-1zM12 18h1v1h-1zM35 18h1v1h-1zM57 18h1v1h-1zM12 19h1v1h-1zM36 19h1v1h-1zM58 19h1v1h-1zM12 20h1v1h-1zM36 20h1v1h-1zM48 20h1v1h-1zM58 20h1v1h-1zM13 21h1v1h-1zM37 21h1v1h-1zM59 21h1v1h-1zM13 22h1v1h-1zM26 22h1v1h-1zM37 22h1v1h-1zM13 23h1v1h-1zM38 23h1v1h-1zM14 24h1v1h-1zM27 24h1v1h-1zM38 24h1v1h-1zM14 25h1v1h-1zM39 25h1v1h-1zM14 26h1v1h-1zM28 26h1v1h-1zM39 26h1v1h-1zM40 27h1v1h-1zM53 27h1v1h-1zM15 28h1v1h-1zM29 28h1v1h-1zM40 28h1v1h-1zM15 29h1v1h-1zM41 29h1v1h-1zM15 30h1v1h-1zM30 30h1v1h-1zM41 30h1v1h-1zM42 31h1v1h-1zM16 32h1v1h-1zM31 32h1v1h-1zM42 32h1v1h-1zM16 33h1v1h-1zM43 33h1v1h-1zM16 34h1v1h-1zM43 34h1v1h-1zM44 35h1v1h-1zM17 36h1v1h-1zM44 36h1v1h-1zM17 37h1v1h-1zM45 37h1v1h-1zM17 38h1v1h-1zM18 39h1v1h-1zM46 39h1v1h-1zM18 40h1v1h-1zM47 40h1v1h-1zM18 41h1v1h-1zM47 41h1v1h-1zM48 42h1v1h-1zM19 43h1v1h-1zM48 43h1v1h-1zM19 44h1v1h-1zM49 44h1v1h-1zM49 45h1v1h-1zM20 46h1v1h-1zM50 46h1v1h-1zM20 47h1v1h-1zM39 47h1v1h-1zM50 47h1v1h-1zM51 48h1v1h-1zM21 49h1v1h-1zM51 49h1v1h-1zM21 50h1v1h-1zM52 50h1v1h-1zM22 51h1v1h-1zM52 51h1v1h-1zM22 52h1v1h-1zM53 52h1v1h-1zM22 53h1v1h-1zM54 54h1v1h-1zM23 55h1v1h-1zM55 55h1v1h-1zM23 56h1v1h-1zM55 56h1v1h-1zM23 57h1v1h-1zM56 57h1v1h-1zM24 58h1v1h-1zM45 58h1v1h-1zM56 58h1v1h-1zM24 59h1v1h-1zM57 59h1v1h-1z"/><path fill="#150b37" d="M7 0h1v1h-1zM26 0h1v1h-1zM44 0h1v1h-1zM7 1h1v1h-1zM35 1h1v1h-1zM27 2h1v1h-1zM45 2h1v1h-1zM27 3h1v1h-1zM46 3h1v1h-1zM28 4h1v1h-1zM37 4h1v1h-1zM8 5h1v1h-1zM28 5h1v1h-1zM47 5h1v1h-1zM8 6h1v1h-1zM29 6h1v1h-1zM48 6h1v1h-1zM8 7h1v1h-1zM29 7h1v1h-1zM30 8h1v1h-1zM49 8h1v1h-1zM30 9h1v1h-1zM50 9h1v1h-1zM9 10h1v1h-1zM31 10h1v1h-1zM9 11h1v1h-1zM31 11h1v1h-1zM51 11h1v1h-1zM21 12h1v1h-1zM52 12h1v1h-1zM32 13h1v1h-1zM53 13h1v1h-1zM10 14h1v1h-1zM22 14h1v1h-1zM44 14h1v1h-1zM10 15h1v1h-1zM33 15h1v1h-1zM54 15h1v1h-1zM23 16h1v1h-1zM55 16h1v1h-1zM11 17h1v1h-1zM34 17h1v1h-1zM46 17h1v1h-1zM11 18h1v1h-1zM24 18h1v1h-1zM56 18h1v1h-1zM11 19h1v1h-1zM35 19h1v1h-1zM57 19h1v1h-1zM25 20h1v1h-1zM12 21h1v1h-1zM36 21h1v1h-1zM12 22h1v1h-1zM59 22h1v1h-1zM37 23h1v1h-1zM13 24h1v1h-1zM51 24h1v1h-1zM13 25h1v1h-1zM38 25h1v1h-1zM13 26h1v1h-1zM14 27h1v1h-1zM39 27h1v1h-1zM14 28h1v1h-1zM14 29h1v1h-1zM40 29h1v1h-1zM15 31h1v1h-1zM41 31h1v1h-1zM56 31h1v1h-1zM15 32h1v1h-1zM15 33h1v1h-1zM42 33h1v1h-1zM16 35h1v1h-1zM43 35h1v1h-1zM59 35h1v1h-1zM16 36h1v1h-1zM44 37h1v1h-1zM45 38h1v1h-1zM17 39h1v1h-1zM45 39h1v1h-1zM17 40h1v1h-1zM46 40h1v1h-1zM46 41h1v1h-1zM18 42h1v1h-1zM47 42h1v1h-1zM18 43h1v1h-1zM37 43h1v1h-1zM47 43h1v1h-1zM48 44h1v1h-1zM19 45h1v1h-1zM38 45h1v1h-1zM19 46h1v1h-1zM49 46h1v1h-1zM20 48h1v1h-1zM50 48h1v1h-1zM20 49h1v1h-1zM51 50h1v1h-1zM21 51h1v1h-1zM21 52h1v1h-1zM52 52h1v1h-1zM21 53h1v1h-1zM53 53h1v1h-1zM22 54h1v1h-1zM53 54h1v1h-1zM22 55h1v1h-1zM54 55h1v1h-1zM22 56h1v1h-1zM44 56h1v1h-1zM54 56h1v1h-1zM55 57h1v1h-1zM23 58h1v1h-1zM23 59h1v1h-1zM56 59h1v1h-1z"/><path fill="#1b0c41" d="M25 0h1v1h-1zM43 0h1v1h-1zM26 1h1v1h-1zM44 1h1v1h-1zM7 2h1v1h-1zM26 2h1v1h-1zM7 3h1v1h-1zM45 3h1v1h-1zM7 4h1v1h-1zM27 4h1v1h-1zM46 4h1v1h-1zM57 5h1v1h-1zM28 6h1v1h-1zM47 6h1v1h-1zM48 7h1v1h-1zM8 8h1v1h-1zM29 8h1v1h-1zM59 8h1v1h-1zM8 9h1v1h-1zM30 10h1v1h-1zM50 10h1v1h-1zM42 11h1v1h-1zM9 12h1v1h-1zM31 12h1v1h-1zM9 13h1v1h-1zM52 13h1v1h-1zM9 14h1v1h-1zM32 14h1v1h-1zM53 14h1v1h-1zM10 16h1v1h-1zM33 16h1v1h-1zM54 16h1v1h-1zM10 17h1v1h-1zM55 17h1v1h-1zM34 18h1v1h-1zM11 20h1v1h-1zM35 20h1v1h-1zM57 20h1v1h-1zM11 21h1v1h-1zM49 21h1v1h-1zM58 21h1v1h-1zM36 22h1v1h-1zM12 23h1v1h-1zM59 23h1v1h-1zM12 24h1v1h-1zM37 24h1v1h-1zM38 26h1v1h-1zM13 27h1v1h-1zM13 28h1v1h-1zM39 28h1v1h-1zM54 28h1v1h-1zM14 30h1v1h-1zM40 30h1v1h-1zM14 31h1v1h-1zM41 32h1v1h-1zM15 34h1v1h-1zM42 34h1v1h-1zM15 35h1v1h-1zM43 36h1v1h-1zM16 37h1v1h-1zM16 38h1v1h-1zM44 38h1v1h-1zM45 40h1v1h-1zM17 41h1v1h-1zM36 41h1v1h-1zM17 42h1v1h-1zM46 42h1v1h-1zM18 44h1v1h-1zM47 44h1v1h-1zM18 45h1v1h-1zM48 45h1v1h-1zM48 46h1v1h-1zM19 47h1v1h-1zM49 47h1v1h-1zM19 48h1v1h-1zM50 49h1v1h-1zM20 50h1v1h-1zM20 51h1v1h-1zM51 51h1v1h-1zM52 53h1v1h-1zM21 54h1v1h-1zM43 54h1v1h-1zM21 55h1v1h-1zM53 55h1v1h-1zM22 57h1v1h-1zM54 57h1v1h-1zM22 58h1v1h-1zM55 58h1v1h-1zM22 59h1v1h-1z"/><path fill="#210c4a" d="M6 0h1v1h-1zM25 1h1v1h-1zM44 2h1v1h-1zM55 2h1v1h-1zM26 3h1v1h-1zM7 5h1v1h-1zM27 5h1v1h-1zM38 5h1v1h-1zM46 5h1v1h-1zM7 6h1v1h-1zM7 7h1v1h-1zM28 7h1v1h-1zM40 8h1v1h-1zM48 8h1v1h-1zM29 9h1v1h-1zM49 9h1v1h-1zM8 10h1v1h-1zM8 11h1v1h-1zM30 11h1v1h-1zM51 12h1v1h-1zM31 13h1v1h-1zM9 15h1v1h-1zM32 15h1v1h-1zM53 15h1v1h-1zM33 17h1v1h-1zM10 18h1v1h-1zM47 18h1v1h-1zM55 18h1v1h-1zM10 19h1v1h-1zM34 19h1v1h-1zM56 19h1v1h-1zM35 21h1v1h-1zM11 22h1v1h-1zM58 22h1v1h-1zM36 23h1v1h-1zM12 25h1v1h-1zM37 25h1v1h-1zM12 26h1v1h-1zM38 27h1v1h-1zM13 29h1v1h-1zM39 29h1v1h-1zM40 31h1v1h-1zM14 32h1v1h-1zM57 32h1v1h-1zM14 33h1v1h-1zM41 33h1v1h-1zM42 35h1v1h-1zM15 36h1v1h-1zM15 37h1v1h-1zM34 37h1v1h-1zM43 37h1v1h-1zM16 39h1v1h-1zM35 39h1v1h-1zM44 39h1v1h-1zM16 40h1v1h-1zM45 41h1v1h-1zM17 43h1v1h-1zM46 43h1v1h-1zM47 45h1v1h-1zM18 46h1v1h-1zM49 48h1v1h-1zM19 49h1v1h-1zM19 50h1v1h-1zM50 50h1v1h-1zM20 52h1v1h-1zM42 52h1v1h-1zM51 52h1v1h-1zM20 53h1v1h-1zM52 54h1v1h-1zM21 56h1v1h-1zM53 56h1v1h-1zM21 57h1v1h-1zM54 58h1v1h-1zM55 59h1v1h-1z"/><path fill="#280b53" d="M6 1h1v1h-1zM16 1h1v1h-1zM43 1h1v1h-1zM6 2h1v1h-1zM25 2h1v1h-1zM36 2h1v1h-1zM6 3h1v1h-1zM17 3h1v1h-1zM26 4h1v1h-1zM45 4h1v1h-1zM27 6h1v1h-1zM47 7h1v1h-1zM7 8h1v1h-1zM28 8h1v1h-1zM7 9h1v1h-1zM29 10h1v1h-1zM49 10h1v1h-1zM50 11h1v1h-1zM8 12h1v1h-1zM30 12h1v1h-1zM8 13h1v1h-1zM31 14h1v1h-1zM52 14h1v1h-1zM9 16h1v1h-1zM32 16h1v1h-1zM9 17h1v1h-1zM54 17h1v1h-1zM33 18h1v1h-1zM10 20h1v1h-1zM34 20h1v1h-1zM56 20h1v1h-1zM10 21h1v1h-1zM57 21h1v1h-1zM35 22h1v1h-1zM11 23h1v1h-1zM11 24h1v1h-1zM36 24h1v1h-1zM59 24h1v1h-1zM52 25h1v1h-1zM37 26h1v1h-1zM12 27h1v1h-1zM38 28h1v1h-1zM13 30h1v1h-1zM39 30h1v1h-1zM13 31h1v1h-1zM40 32h1v1h-1zM32 33h1v1h-1zM14 34h1v1h-1zM41 34h1v1h-1zM33 35h1v1h-1zM42 36h1v1h-1zM15 38h1v1h-1zM43 38h1v1h-1zM44 40h1v1h-1zM16 41h1v1h-1zM45 42h1v1h-1zM17 44h1v1h-1zM17 45h1v1h-1zM18 47h1v1h-1zM48 47h1v1h-1zM18 48h1v1h-1zM49 49h1v1h-1zM41 50h1v1h-1zM19 51h1v1h-1zM50 51h1v1h-1zM51 53h1v1h-1zM20 54h1v1h-1zM20 55h1v1h-1zM52 55h1v1h-1zM21 58h1v1h-1z"/><path fill="#2f0a5b" d="M24 0h1v1h-1zM42 0h1v1h-1zM44 3h1v1h-1zM6 4h1v1h-1zM6 5h1v1h-1zM18 5h1v1h-1zM46 6h1v1h-1zM19 7h1v1h-1zM28 9h1v1h-1zM48 9h1v1h-1zM7 10h1v1h-1zM29 11h1v1h-1zM30 13h1v1h-1zM51 13h1v1h-1zM8 14h1v1h-1zM31 15h1v1h-1zM45 15h1v1h-1zM53 16h1v1h-1zM32 17h1v1h-1zM9 18h1v1h-1zM33 19h1v1h-1zM55 19h1v1h-1zM34 21h1v1h-1zM10 22h1v1h-1zM35 23h1v1h-1zM58 23h1v1h-1zM11 25h1v1h-1zM36 25h1v1h-1zM37 27h1v1h-1zM12 28h1v1h-1zM12 29h1v1h-1zM30 29h1v1h-1zM38 29h1v1h-1zM31 31h1v1h-1zM39 31h1v1h-1zM13 32h1v1h-1zM40 33h1v1h-1zM14 35h1v1h-1zM41 35h1v1h-1zM14 36h1v1h-1zM15 39h1v1h-1zM16 42h1v1h-1zM16 43h1v1h-1zM46 44h1v1h-1zM17 46h1v1h-1zM47 46h1v1h-1zM40 48h1v1h-1zM48 48h1v1h-1zM18 49h1v1h-1zM49 50h1v1h-1zM19 52h1v1h-1zM50 52h1v1h-1zM20 56h1v1h-1zM8 57h1v1h-1zM53 57h1v1h-1zM9 59h1v1h-1zM21 59h1v1h-1zM46 59h1v1h-1zM54 59h1v1h-1z"/><path fill="#360961" d="M5 0h1v1h-1zM24 1h1v1h-1zM43 2h1v1h-1zM25 3h1v1h-1zM26 5h1v1h-1zM45 5h1v1h-1zM6 6h1v1h-1zM58 6h1v1h-1zM6 7h1v1h-1zM27 7h1v1h-1zM20 9h1v1h-1zM7 11h1v1h-1zM21 11h1v1h-1zM43 12h1v1h-1zM50 12h1v1h-1zM22 13h1v1h-1zM8 15h1v1h-1zM23 15h1v1h-1zM52 15h1v1h-1zM8 16h1v1h-1zM24 17h1v1h-1zM54 18h1v1h-1zM9 19h1v1h-1zM25 19h1v1h-1zM26 21h1v1h-1zM50 22h1v1h-1zM57 22h1v1h-1zM10 23h1v1h-1zM27 23h1v1h-1zM28 25h1v1h-1zM11 26h1v1h-1zM29 27h1v1h-1zM55 29h1v1h-1zM12 30h1v1h-1zM13 33h1v1h-1zM2 34h1v1h-1zM2 35h1v1h-1zM2 36h2v1h-2zM2 37h2v1h-2zM14 37h1v1h-1zM42 37h1v1h-1zM2 38h2v1h-2zM2 39h3v1h-3zM43 39h1v1h-1zM3 40h2v1h-2zM15 40h1v1h-1zM3 41h2v1h-2zM44 41h1v1h-1zM3 42h3v1h-3zM3 43h3v1h-3zM45 43h1v1h-1zM3 44h3v1h-3zM16 44h1v1h-1zM4 45h2v1h-2zM46 45h1v1h-1zM4 46h3v1h-3zM39 46h1v1h-1zM4 47h3v1h-3zM17 47h1v1h-1zM4 48h3v1h-3zM4 49h4v1h-4zM5 50h3v1h-3zM18 50h1v1h-1zM5 51h3v1h-3zM5 52h3v1h-3zM5 53h4v1h-4zM19 53h1v1h-1zM6 54h3v1h-3zM19 54h1v1h-1zM51 54h1v1h-1zM6 55h3v1h-3zM6 56h4v1h-4zM52 56h1v1h-1zM6 57h2v1h-2zM9 57h1v1h-1zM20 57h1v1h-1zM45 57h1v1h-1zM6 58h4v1h-4zM53 58h1v1h-1zM7 59h2v1h-2z"/><path fill="#3d0965" d="M5 1h1v1h-1zM5 2h1v1h-1zM56 3h1v1h-1zM26 6h1v1h-1zM39 6h1v1h-1zM6 8h1v1h-1zM27 8h1v1h-1zM47 8h1v1h-1zM41 9h1v1h-1zM28 10h1v1h-1zM49 11h1v1h-1zM7 12h1v1h-1zM29 12h1v1h-1zM7 13h1v1h-1zM30 14h1v1h-1zM51 14h1v1h-1zM31 16h1v1h-1zM8 17h1v1h-1zM32 18h1v1h-1zM48 19h1v1h-1zM9 20h1v1h-1zM33 20h1v1h-1zM56 21h1v1h-1zM34 22h1v1h-1zM10 24h1v1h-1zM35 24h1v1h-1zM0 25h1v1h-1zM59 25h1v1h-1zM0 26h1v1h-1zM36 26h1v1h-1zM0 27h1v1h-1zM11 27h1v1h-1zM0 28h1v1h-1zM37 28h1v1h-1zM0 29h2v1h-2zM0 30h2v1h-2zM38 30h1v1h-1zM0 31h2v1h-2zM12 31h1v1h-1zM1 32h2v1h-2zM39 32h1v1h-1zM1 33h2v1h-2zM58 33h1v1h-1zM1 34h1v1h-1zM13 34h1v1h-1zM40 34h1v1h-1zM1 35h1v1h-1zM3 35h1v1h-1zM1 36h1v1h-1zM41 36h1v1h-1zM1 37h1v1h-1zM1 38h1v1h-1zM4 38h1v1h-1zM14 38h1v1h-1zM42 38h1v1h-1zM1 39h1v1h-1zM1 40h2v1h-2zM2 41h1v1h-1zM5 41h1v1h-1zM15 41h1v1h-1zM2 42h1v1h-1zM2 43h1v1h-1zM2 44h1v1h-1zM6 44h1v1h-1zM38 44h1v1h-1zM2 45h2v1h-2zM6 45h1v1h-1zM2 46h2v1h-2zM2 47h2v1h-2zM47 47h1v1h-1zM3 48h1v1h-1zM7 48h1v1h-1zM17 48h1v1h-1zM3 49h1v1h-1zM48 49h1v1h-1zM3 50h2v1h-2zM3 51h2v1h-2zM8 51h1v1h-1zM18 51h1v1h-1zM49 51h1v1h-1zM3 52h2v1h-2zM8 52h1v1h-1zM3 53h2v1h-2zM50 53h1v1h-1zM4 54h2v1h-2zM4 55h2v1h-2zM9 55h1v1h-1zM19 55h1v1h-1zM4 56h2v1h-2zM4 57h2v1h-2zM4 58h2v1h-2zM20 58h1v1h-1zM4 59h3v1h-3zM10 59h1v1h-1zM20 59h1v1h-1z"/><path fill="#440a68" d="M23 0h1v1h-1zM35 0h1v1h-1zM54 0h1v1h-1zM42 1h1v1h-1zM24 2h1v1h-1zM5 3h1v1h-1zM37 3h1v1h-1zM5 4h1v1h-1zM25 4h1v1h-1zM44 4h1v1h-1zM46 7h1v1h-1zM6 9h1v1h-1zM48 10h1v1h-1zM7 14h1v1h-1zM53 17h1v1h-1zM8 18h1v1h-1zM55 20h1v1h-1zM9 21h1v1h-1zM0 23h1v1h-1zM0 24h1v1h-1zM58 24h1v1h-1zM10 25h1v1h-1zM53 26h1v1h-1zM1 27h1v1h-1zM1 28h1v1h-1zM11 28h1v1h-1zM2 30h1v1h-1zM2 31h1v1h-1zM0 32h1v1h-1zM12 32h1v1h-1zM0 33h1v1h-1zM0 34h1v1h-1zM3 34h1v1h-1zM0 35h1v1h-1zM13 35h1v1h-1zM0 36h1v1h-1zM0 37h1v1h-1zM4 37h1v1h-1zM0 38h1v1h-1zM0 39h1v1h-1zM14 39h1v1h-1zM0 40h1v1h-1zM5 40h1v1h-1zM43 40h1v1h-1zM0 41h2v1h-2zM1 42h1v1h-1zM15 42h1v1h-1zM37 42h1v1h-1zM44 42h1v1h-1zM1 43h1v1h-1zM6 43h1v1h-1zM1 44h1v1h-1zM45 44h1v1h-1zM1 45h1v1h-1zM16 45h1v1h-1zM1 46h1v1h-1zM46 46h1v1h-1zM1 47h1v1h-1zM7 47h1v1h-1zM1 48h2v1h-2zM1 49h2v1h-2zM17 49h1v1h-1zM1 50h2v1h-2zM8 50h1v1h-1zM1 51h2v1h-2zM1 52h2v1h-2zM18 52h1v1h-1zM0 53h3v1h-3zM0 54h4v1h-4zM9 54h1v1h-1zM0 55h4v1h-4zM44 55h1v1h-1zM51 55h1v1h-1zM0 56h4v1h-4zM19 56h1v1h-1zM0 57h4v1h-4zM52 57h1v1h-1zM0 58h4v1h-4zM10 58h1v1h-1zM0 59h4v1h-4z"/><path fill="#4a0c6b" d="M41 0h1v1h-1zM43 3h1v1h-1zM5 5h1v1h-1zM45 6h1v1h-1zM26 7h1v1h-1zM27 9h1v1h-1zM6 10h1v1h-1zM28 11h1v1h-1zM29 13h1v1h-1zM50 13h1v1h-1zM7 15h1v1h-1zM30 15h1v1h-1zM46 16h1v1h-1zM52 16h1v1h-1zM31 17h1v1h-1zM8 19h1v1h-1zM32 19h1v1h-1zM33 21h1v1h-1zM0 22h1v1h-1zM9 22h1v1h-1zM34 23h1v1h-1zM57 23h1v1h-1zM35 25h1v1h-1zM1 26h1v1h-1zM10 26h1v1h-1zM36 27h1v1h-1zM11 29h1v1h-1zM37 29h1v1h-1zM38 31h1v1h-1zM3 33h1v1h-1zM12 33h1v1h-1zM39 33h1v1h-1zM40 35h1v1h-1zM4 36h1v1h-1zM13 36h1v1h-1zM5 39h1v1h-1zM14 40h1v1h-1zM0 42h1v1h-1zM0 43h1v1h-1zM15 43h1v1h-1zM0 44h1v1h-1zM0 45h1v1h-1zM0 46h1v1h-1zM7 46h1v1h-1zM16 46h1v1h-1zM0 47h1v1h-1zM0 48h1v1h-1zM47 48h1v1h-1zM0 49h1v1h-1zM0 50h1v1h-1zM48 50h1v1h-1zM0 51h1v1h-1zM0 52h1v1h-1zM49 52h1v1h-1zM9 53h1v1h-1zM18 53h1v1h-1zM10 57h1v1h-1zM19 57h1v1h-1zM53 59h1v1h-1z"/><path fill="#510e6c" d="M4 0h1v1h-1zM23 1h1v1h-1zM24 3h1v1h-1zM25 5h1v1h-1zM5 6h1v1h-1zM47 9h1v1h-1zM6 11h1v1h-1zM49 12h1v1h-1zM54 19h1v1h-1zM0 21h1v1h-1zM9 23h1v1h-1zM51 23h1v1h-1zM1 25h1v1h-1zM59 26h1v1h-1zM10 27h1v1h-1zM2 29h1v1h-1zM11 30h1v1h-1zM56 30h1v1h-1zM3 32h1v1h-1zM13 37h1v1h-1zM41 37h1v1h-1zM42 39h1v1h-1zM36 40h1v1h-1zM43 41h1v1h-1zM6 42h1v1h-1zM44 43h1v1h-1zM15 44h1v1h-1zM16 47h1v1h-1zM8 49h1v1h-1zM17 50h1v1h-1zM43 53h1v1h-1zM18 54h1v1h-1zM50 54h1v1h-1zM10 56h1v1h-1zM51 56h1v1h-1zM19 58h1v1h-1z"/><path fill="#59106e" d="M16 0h1v1h-1zM4 1h1v1h-1zM42 2h1v1h-1zM44 5h1v1h-1zM5 7h1v1h-1zM59 7h1v1h-1zM6 12h1v1h-1zM44 13h1v1h-1zM29 14h1v1h-1zM51 15h1v1h-1zM7 16h1v1h-1zM30 16h1v1h-1zM31 18h1v1h-1zM8 20h1v1h-1zM32 20h1v1h-1zM33 22h1v1h-1zM56 22h1v1h-1zM9 24h1v1h-1zM34 24h1v1h-1zM35 26h1v1h-1zM2 28h1v1h-1zM36 28h1v1h-1zM11 31h1v1h-1zM12 34h1v1h-1zM59 34h1v1h-1zM4 35h1v1h-1zM5 38h1v1h-1zM13 38h1v1h-1zM35 38h1v1h-1zM14 41h1v1h-1zM7 45h1v1h-1zM45 45h1v1h-1zM46 47h1v1h-1zM16 48h1v1h-1zM17 51h1v1h-1zM42 51h1v1h-1zM9 52h1v1h-1zM18 55h1v1h-1zM52 58h1v1h-1z"/><path fill="#5f136e" d="M4 2h1v1h-1zM17 2h1v1h-1zM24 4h1v1h-1zM57 4h1v1h-1zM25 6h1v1h-1zM5 8h1v1h-1zM26 8h1v1h-1zM46 8h1v1h-1zM27 10h1v1h-1zM42 10h1v1h-1zM48 11h1v1h-1zM28 12h1v1h-1zM6 13h1v1h-1zM7 17h1v1h-1zM53 18h1v1h-1zM0 20h1v1h-1zM8 21h1v1h-1zM1 24h1v1h-1zM58 25h1v1h-1zM10 28h1v1h-1zM37 30h1v1h-1zM3 31h1v1h-1zM38 32h1v1h-1zM33 34h1v1h-1zM39 34h1v1h-1zM12 35h1v1h-1zM34 36h1v1h-1zM40 36h1v1h-1zM41 38h1v1h-1zM6 41h1v1h-1zM14 42h1v1h-1zM15 45h1v1h-1zM8 48h1v1h-1zM47 49h1v1h-1zM48 51h1v1h-1zM17 52h1v1h-1zM10 55h1v1h-1zM11 59h1v1h-1zM19 59h1v1h-1z"/><path fill="#65156e" d="M22 0h1v1h-1zM41 1h1v1h-1zM55 1h1v1h-1zM23 2h1v1h-1zM4 3h1v1h-1zM18 4h1v1h-1zM40 7h1v1h-1zM5 9h1v1h-1zM6 14h1v1h-1zM50 14h1v1h-1zM7 18h1v1h-1zM0 19h1v1h-1zM49 20h1v1h-1zM55 21h1v1h-1zM9 25h1v1h-1zM2 27h1v1h-1zM54 27h1v1h-1zM10 29h1v1h-1zM11 32h1v1h-1zM32 32h1v1h-1zM4 34h1v1h-1zM13 39h1v1h-1zM42 40h1v1h-1zM43 42h1v1h-1zM7 44h1v1h-1zM16 49h1v1h-1zM41 49h1v1h-1zM9 51h1v1h-1zM49 53h1v1h-1zM50 55h1v1h-1zM18 56h1v1h-1z"/><path fill="#6c186e" d="M36 1h1v1h-1zM4 4h1v1h-1zM38 4h1v1h-1zM43 4h1v1h-1zM19 6h1v1h-1zM45 7h1v1h-1zM20 8h1v1h-1zM5 10h1v1h-1zM52 17h1v1h-1zM31 19h1v1h-1zM32 21h1v1h-1zM8 22h1v1h-1zM1 23h1v1h-1zM57 24h1v1h-1zM9 26h1v1h-1zM3 30h1v1h-1zM31 30h1v1h-1zM11 33h1v1h-1zM12 36h1v1h-1zM5 37h1v1h-1zM6 40h1v1h-1zM14 43h1v1h-1zM44 44h1v1h-1zM15 46h1v1h-1zM45 46h1v1h-1zM8 47h1v1h-1zM17 53h1v1h-1zM10 54h1v1h-1zM18 57h1v1h-1zM51 57h1v1h-1zM11 58h1v1h-1zM52 59h1v1h-1z"/><path fill="#721a6e" d="M4 5h1v1h-1zM25 7h1v1h-1zM26 9h1v1h-1zM21 10h1v1h-1zM47 10h1v1h-1zM27 11h1v1h-1zM22 12h1v1h-1zM28 13h1v1h-1zM49 13h1v1h-1zM6 15h1v1h-1zM29 15h1v1h-1zM30 17h1v1h-1zM47 17h1v1h-1zM0 18h1v1h-1zM7 19h1v1h-1zM54 20h1v1h-1zM8 23h1v1h-1zM33 23h1v1h-1zM28 24h1v1h-1zM34 25h1v1h-1zM2 26h1v1h-1zM29 26h1v1h-1zM35 27h1v1h-1zM59 27h1v1h-1zM30 28h1v1h-1zM36 29h1v1h-1zM10 30h1v1h-1zM37 31h1v1h-1zM57 31h1v1h-1zM4 33h1v1h-1zM38 33h1v1h-1zM12 37h1v1h-1zM13 40h1v1h-1zM7 43h1v1h-1zM15 47h1v1h-1zM40 47h1v1h-1zM46 48h1v1h-1zM9 50h1v1h-1zM16 50h1v1h-1zM47 50h1v1h-1zM46 58h1v1h-1z"/><path fill="#781c6d" d="M3 0h1v1h-1zM40 0h1v1h-1zM23 3h1v1h-1zM42 3h1v1h-1zM24 5h1v1h-1zM4 6h1v1h-1zM5 11h1v1h-1zM23 14h1v1h-1zM24 16h1v1h-1zM51 16h1v1h-1zM25 18h1v1h-1zM26 20h1v1h-1zM1 22h1v1h-1zM27 22h1v1h-1zM56 23h1v1h-1zM52 24h1v1h-1zM9 27h1v1h-1zM11 34h1v1h-1zM39 35h1v1h-1zM5 36h1v1h-1zM40 37h1v1h-1zM41 39h1v1h-1zM14 44h1v1h-1zM48 52h1v1h-1zM17 54h1v1h-1zM49 54h1v1h-1zM11 57h1v1h-1zM18 58h1v1h-1z"/><path fill="#7f1e6c" d="M59 0h1v1h-1zM3 1h1v1h-1zM22 1h1v1h-1zM44 6h1v1h-1zM4 7h1v1h-1zM46 9h1v1h-1zM5 12h1v1h-1zM45 14h1v1h-1zM6 16h1v1h-1zM53 19h1v1h-1zM7 20h1v1h-1zM8 24h1v1h-1zM3 29h1v1h-1zM10 31h1v1h-1zM12 38h1v1h-1zM6 39h1v1h-1zM13 41h1v1h-1zM42 41h1v1h-1zM43 43h1v1h-1zM39 45h1v1h-1zM8 46h1v1h-1zM15 48h1v1h-1zM16 51h1v1h-1zM10 53h1v1h-1zM17 55h1v1h-1zM45 56h1v1h-1zM50 56h1v1h-1z"/><path fill="#85216b" d="M58 5h1v1h-1zM43 11h1v1h-1zM48 12h1v1h-1zM0 17h1v1h-1zM6 17h1v1h-1zM1 21h1v1h-1zM2 25h1v1h-1zM58 26h1v1h-1zM9 28h1v1h-1zM4 32h1v1h-1zM11 35h1v1h-1zM7 42h1v1h-1zM38 43h1v1h-1zM14 45h1v1h-1zM44 45h1v1h-1zM45 47h1v1h-1zM9 49h1v1h-1zM51 58h1v1h-1zM18 59h1v1h-1z"/><path fill="#8c2369" d="M3 2h1v1h-1zM4 8h1v1h-1zM26 10h1v1h-1zM27 12h1v1h-1zM5 13h1v1h-1zM28 14h1v1h-1zM50 15h1v1h-1zM29 16h1v1h-1zM30 18h1v1h-1zM31 20h1v1h-1zM7 21h1v1h-1zM50 21h1v1h-1zM32 22h1v1h-1zM55 22h1v1h-1zM33 24h1v1h-1zM8 25h1v1h-1zM34 26h1v1h-1zM35 28h1v1h-1zM55 28h1v1h-1zM36 30h1v1h-1zM10 32h1v1h-1zM37 32h1v1h-1zM5 35h1v1h-1zM13 42h1v1h-1zM46 49h1v1h-1zM16 52h1v1h-1zM11 56h1v1h-1zM17 56h1v1h-1z"/><path fill="#922568" d="M41 2h1v1h-1zM56 2h1v1h-1zM3 3h1v1h-1zM23 4h1v1h-1zM39 5h1v1h-1zM43 5h1v1h-1zM24 6h1v1h-1zM25 8h1v1h-1zM41 8h1v1h-1zM4 9h1v1h-1zM0 16h1v1h-1zM6 18h1v1h-1zM52 18h1v1h-1zM3 28h1v1h-1zM9 29h1v1h-1zM38 34h1v1h-1zM39 36h1v1h-1zM12 39h1v1h-1zM37 41h1v1h-1zM8 45h1v1h-1zM15 49h1v1h-1zM47 51h1v1h-1zM10 52h1v1h-1zM44 54h1v1h-1z"/><path fill="#982766" d="M21 0h1v1h-1zM22 2h1v1h-1zM37 2h1v1h-1zM3 4h1v1h-1zM45 8h1v1h-1zM47 11h1v1h-1zM5 14h1v1h-1zM1 20h1v1h-1zM7 22h1v1h-1zM2 24h1v1h-1zM57 25h1v1h-1zM4 31h1v1h-1zM11 36h1v1h-1zM6 38h1v1h-1zM40 38h1v1h-1zM36 39h1v1h-1zM41 40h1v1h-1zM13 43h1v1h-1zM14 46h1v1h-1zM9 48h1v1h-1zM16 53h1v1h-1zM48 53h1v1h-1z"/><path fill="#9f2a63" d="M4 10h1v1h-1zM49 14h1v1h-1zM48 18h1v1h-1zM54 21h1v1h-1zM8 26h1v1h-1zM58 32h1v1h-1zM10 33h1v1h-1zM12 40h1v1h-1zM7 41h1v1h-1zM42 42h1v1h-1zM43 44h1v1h-1zM15 50h1v1h-1zM43 52h1v1h-1zM11 55h1v1h-1zM49 55h1v1h-1zM17 57h1v1h-1zM12 59h1v1h-1z"/><path fill="#a52c60" d="M17 1h1v1h-1zM40 1h1v1h-1zM3 5h1v1h-1zM0 15h1v1h-1zM5 15h1v1h-1zM6 19h1v1h-1zM7 23h1v1h-1zM53 25h1v1h-1zM3 27h1v1h-1zM59 28h1v1h-1zM9 30h1v1h-1zM5 34h1v1h-1zM11 37h1v1h-1zM35 37h1v1h-1zM8 44h1v1h-1zM44 46h1v1h-1zM14 47h1v1h-1zM10 51h1v1h-1zM16 54h1v1h-1zM50 57h1v1h-1z"/><path fill="#ab2f5e" d="M18 3h1v1h-1zM42 4h1v1h-1zM3 6h1v1h-1zM44 7h1v1h-1zM4 11h1v1h-1zM26 11h1v1h-1zM27 13h1v1h-1zM28 15h1v1h-1zM46 15h1v1h-1zM29 17h1v1h-1zM51 17h1v1h-1zM1 19h1v1h-1zM30 19h1v1h-1zM31 21h1v1h-1zM2 23h1v1h-1zM32 23h1v1h-1zM56 24h1v1h-1zM33 25h1v1h-1zM8 27h1v1h-1zM34 27h1v1h-1zM35 29h1v1h-1zM10 34h1v1h-1zM34 35h1v1h-1zM6 37h1v1h-1zM13 44h1v1h-1zM45 48h1v1h-1zM42 50h1v1h-1zM17 58h1v1h-1zM51 59h1v1h-1z"/><path fill="#b1325a" d="M2 0h1v1h-1zM59 1h1v1h-1zM24 7h1v1h-1zM25 9h1v1h-1zM46 10h1v1h-1zM0 14h1v1h-1zM5 16h1v1h-1zM6 20h1v1h-1zM4 30h1v1h-1zM36 31h1v1h-1zM33 33h1v1h-1zM37 33h1v1h-1zM38 35h1v1h-1zM12 41h1v1h-1zM9 47h1v1h-1zM46 50h1v1h-1zM15 51h1v1h-1zM12 58h1v1h-1z"/><path fill="#b73557" d="M2 1h1v1h-1zM22 3h1v1h-1zM19 5h1v1h-1zM23 5h1v1h-1zM59 6h1v1h-1zM3 7h1v1h-1zM20 7h1v1h-1zM4 12h1v1h-1zM44 12h1v1h-1zM48 13h1v1h-1zM53 20h1v1h-1zM51 22h1v1h-1zM7 24h1v1h-1zM3 26h1v1h-1zM58 27h1v1h-1zM56 29h1v1h-1zM9 31h1v1h-1zM32 31h1v1h-1zM39 37h1v1h-1zM11 38h1v1h-1zM7 40h1v1h-1zM14 48h1v1h-1zM41 48h1v1h-1zM47 52h1v1h-1zM11 54h1v1h-1zM16 55h1v1h-1zM17 59h1v1h-1zM47 59h1v1h-1z"/><path fill="#bf3952" d="M21 1h1v1h-1zM21 9h1v1h-1zM42 9h1v1h-1zM1 18h1v1h-1zM2 22h1v1h-1zM30 27h1v1h-1zM8 28h1v1h-1zM31 29h1v1h-1zM5 33h1v1h-1zM10 35h1v1h-1zM40 39h1v1h-1zM41 41h1v1h-1zM8 43h1v1h-1zM13 45h1v1h-1zM10 50h1v1h-1zM48 54h1v1h-1z"/><path fill="#c43c4e" d="M39 0h1v1h-1zM2 2h1v1h-1zM41 3h1v1h-1zM57 3h1v1h-1zM40 6h1v1h-1zM3 8h1v1h-1zM22 11h1v1h-1zM0 13h1v1h-1zM23 13h1v1h-1zM50 16h1v1h-1zM5 17h1v1h-1zM6 21h1v1h-1zM28 23h1v1h-1zM55 23h1v1h-1zM29 25h1v1h-1zM6 36h1v1h-1zM12 42h1v1h-1zM42 43h1v1h-1zM40 46h1v1h-1zM15 52h1v1h-1zM49 56h1v1h-1zM12 57h1v1h-1z"/><path fill="#ca404a" d="M36 0h1v1h-1zM55 0h1v1h-1zM58 0h1v1h-1zM2 3h1v1h-1zM38 3h1v1h-1zM43 6h1v1h-1zM4 13h1v1h-1zM24 15h1v1h-1zM25 17h1v1h-1zM26 19h1v1h-1zM49 19h1v1h-1zM27 21h1v1h-1zM7 25h1v1h-1zM4 29h1v1h-1zM9 32h1v1h-1zM59 33h1v1h-1zM11 39h1v1h-1zM43 45h1v1h-1zM9 46h1v1h-1zM14 49h1v1h-1zM11 53h1v1h-1zM16 56h1v1h-1zM46 57h1v1h-1z"/><path fill="#cf4446" d="M3 9h1v1h-1zM45 9h1v1h-1zM0 12h1v1h-1zM27 14h1v1h-1zM28 16h1v1h-1zM1 17h1v1h-1zM5 18h1v1h-1zM29 18h1v1h-1zM52 19h1v1h-1zM30 20h1v1h-1zM2 21h1v1h-1zM31 22h1v1h-1zM32 24h1v1h-1zM3 25h1v1h-1zM33 26h1v1h-1zM54 26h1v1h-1zM57 26h1v1h-1zM8 29h1v1h-1zM10 36h1v1h-1zM7 39h1v1h-1zM39 44h1v1h-1zM13 46h1v1h-1zM44 47h1v1h-1zM50 58h1v1h-1z"/><path fill="#d44842" d="M2 4h1v1h-1zM25 10h1v1h-1zM26 12h1v1h-1zM47 12h1v1h-1zM4 14h1v1h-1zM47 16h1v1h-1zM6 22h1v1h-1zM34 28h1v1h-1zM35 30h1v1h-1zM5 32h1v1h-1zM36 32h1v1h-1zM8 42h1v1h-1zM12 43h1v1h-1zM10 49h1v1h-1zM45 49h1v1h-1zM15 53h1v1h-1z"/><path fill="#d94d3d" d="M23 6h1v1h-1zM24 8h1v1h-1zM0 11h1v1h-1zM49 15h1v1h-1zM1 16h1v1h-1zM54 22h1v1h-1zM7 26h1v1h-1zM4 28h1v1h-1zM9 33h1v1h-1zM37 34h1v1h-1zM6 35h1v1h-1zM38 36h1v1h-1zM38 42h1v1h-1zM14 50h1v1h-1zM46 51h1v1h-1zM45 55h1v1h-1zM12 56h1v1h-1zM16 57h1v1h-1z"/><path fill="#de5238" d="M21 2h1v1h-1zM40 2h1v1h-1zM22 4h1v1h-1zM2 5h1v1h-1zM42 5h1v1h-1zM3 10h1v1h-1zM45 13h1v1h-1zM5 19h1v1h-1zM2 20h1v1h-1zM3 24h1v1h-1zM59 29h1v1h-1zM8 30h1v1h-1zM39 38h1v1h-1zM11 40h1v1h-1zM9 45h1v1h-1zM11 52h1v1h-1zM47 53h1v1h-1z"/><path fill="#e25734" d="M20 0h1v1h-1zM44 8h1v1h-1zM0 10h1v1h-1zM4 15h1v1h-1zM51 18h1v1h-1zM6 23h1v1h-1zM52 23h1v1h-1zM57 30h1v1h-1zM5 31h1v1h-1zM10 37h1v1h-1zM7 38h1v1h-1zM37 40h1v1h-1zM40 40h1v1h-1zM13 47h1v1h-1zM44 53h1v1h-1zM15 54h1v1h-1zM16 58h1v1h-1z"/><path fill="#e65d2f" d="M1 0h1v1h-1zM59 2h1v1h-1zM58 4h1v1h-1zM2 6h1v1h-1zM43 10h1v1h-1zM3 11h1v1h-1zM46 11h1v1h-1zM1 15h1v1h-1zM56 25h1v1h-1zM7 27h1v1h-1zM9 34h1v1h-1zM36 38h1v1h-1zM8 41h1v1h-1zM41 42h1v1h-1zM12 44h1v1h-1zM10 48h1v1h-1zM48 55h1v1h-1zM13 59h1v1h-1z"/><path fill="#ea632a" d="M17 0h1v1h-1zM1 1h1v1h-1zM41 7h1v1h-1zM0 9h1v1h-1zM4 16h1v1h-1zM2 19h1v1h-1zM5 20h1v1h-1zM4 27h1v1h-1zM8 31h1v1h-1zM6 34h1v1h-1zM11 41h1v1h-1zM42 44h1v1h-1zM14 51h1v1h-1zM12 55h1v1h-1zM49 57h1v1h-1z"/><path fill="#ed6925" d="M37 1h1v1h-1zM56 1h1v1h-1zM1 2h1v1h-1zM39 4h1v1h-1zM2 7h1v1h-1zM3 12h1v1h-1zM48 14h1v1h-1zM29 19h1v1h-1zM50 20h1v1h-1zM30 21h1v1h-1zM53 21h1v1h-1zM3 23h1v1h-1zM6 24h1v1h-1zM35 36h1v1h-1zM10 38h1v1h-1zM9 44h1v1h-1zM43 46h1v1h-1zM13 48h1v1h-1zM11 51h1v1h-1zM43 51h1v1h-1zM15 55h1v1h-1zM16 59h1v1h-1z"/><path fill="#f06f20" d="M39 1h1v1h-1zM18 2h1v1h-1zM41 4h1v1h-1zM0 8h1v1h-1zM25 11h1v1h-1zM26 13h1v1h-1zM1 14h1v1h-1zM27 15h1v1h-1zM28 17h1v1h-1zM31 23h1v1h-1zM32 25h1v1h-1zM33 27h1v1h-1zM55 27h1v1h-1zM7 28h1v1h-1zM58 28h1v1h-1zM34 29h1v1h-1zM5 30h1v1h-1zM34 34h1v1h-1zM9 35h1v1h-1zM7 37h1v1h-1zM12 45h1v1h-1zM10 47h1v1h-1zM44 48h1v1h-1zM13 58h1v1h-1zM50 59h1v1h-1z"/><path fill="#f3761b" d="M1 3h1v1h-1zM19 4h1v1h-1zM0 7h1v1h-1zM23 7h1v1h-1zM43 7h1v1h-1zM2 8h1v1h-1zM24 9h1v1h-1zM3 13h1v1h-1zM4 17h1v1h-1zM48 17h1v1h-1zM50 17h1v1h-1zM2 18h1v1h-1zM5 21h1v1h-1zM3 22h1v1h-1zM55 24h1v1h-1zM4 26h1v1h-1zM35 31h1v1h-1zM33 32h1v1h-1zM36 33h1v1h-1zM8 40h1v1h-1zM11 42h1v1h-1zM42 49h1v1h-1zM45 50h1v1h-1zM14 52h1v1h-1zM12 54h1v1h-1z"/><path fill="#f57d15" d="M0 0h1v1h-1zM0 1h1v1h-1zM58 1h1v1h-1zM1 4h1v1h-1zM0 5h1v1h-1zM22 5h1v1h-1zM0 6h1v1h-1zM20 6h1v1h-1zM2 9h1v1h-1zM45 10h1v1h-1zM1 13h1v1h-1zM46 14h1v1h-1zM6 25h1v1h-1zM32 30h1v1h-1zM8 32h1v1h-1zM6 33h1v1h-1zM37 35h1v1h-1zM38 37h1v1h-1zM10 39h1v1h-1zM9 43h1v1h-1zM13 49h1v1h-1zM11 50h1v1h-1zM46 52h1v1h-1zM15 56h1v1h-1z"/><path fill="#f78410" d="M20 1h1v1h-1zM0 2h1v1h-1zM0 3h1v1h-1zM21 3h1v1h-1zM0 4h1v1h-1zM1 5h1v1h-1zM21 8h1v1h-1zM22 10h1v1h-1zM1 12h1v1h-1zM47 13h1v1h-1zM3 14h1v1h-1zM2 17h1v1h-1zM4 18h1v1h-1zM52 20h1v1h-1zM5 22h1v1h-1zM53 24h1v1h-1zM30 26h1v1h-1zM31 28h1v1h-1zM5 29h1v1h-1zM7 29h1v1h-1zM58 31h1v1h-1zM7 36h1v1h-1zM9 36h1v1h-1zM39 39h1v1h-1zM12 46h1v1h-1zM41 47h1v1h-1zM13 57h1v1h-1zM47 58h1v1h-1z"/><path fill="#f98b0b" d="M38 0h1v1h-1zM59 5h1v1h-1zM1 6h1v1h-1zM2 10h1v1h-1zM44 11h1v1h-1zM23 12h1v1h-1zM24 14h1v1h-1zM25 16h1v1h-1zM26 18h1v1h-1zM27 20h1v1h-1zM3 21h1v1h-1zM28 22h1v1h-1zM29 24h1v1h-1zM4 25h1v1h-1zM6 26h1v1h-1zM57 27h1v1h-1zM6 32h1v1h-1zM8 33h1v1h-1zM8 39h1v1h-1zM40 41h1v1h-1zM11 43h1v1h-1zM10 46h1v1h-1zM12 53h1v1h-1zM14 53h1v1h-1zM47 54h1v1h-1zM15 57h1v1h-1z"/><path fill="#fa9407" d="M38 2h1v1h-1zM57 2h1v1h-1zM40 3h1v1h-1zM40 5h1v1h-1zM1 7h1v1h-1zM1 8h1v1h-1zM42 8h1v1h-1zM1 9h1v1h-1zM1 10h1v1h-1zM1 11h2v1h-2zM3 15h1v1h-1zM2 16h1v1h-1zM49 16h1v1h-1zM4 19h1v1h-1zM51 21h1v1h-1zM5 23h1v1h-1zM5 28h1v1h-1zM7 30h1v1h-1zM10 40h1v1h-1zM9 42h1v1h-1zM41 43h1v1h-1zM40 45h1v1h-1zM11 49h1v1h-1zM13 50h1v1h-1zM46 56h1v1h-1zM48 56h1v1h-1z"/><path fill="#fb9b06" d="M57 0h1v1h-1zM42 6h1v1h-1zM44 9h1v1h-1zM2 12h1v1h-1zM2 15h1v1h-1zM3 16h1v1h-1zM3 20h2v1h-2zM54 23h1v1h-1zM4 24h1v1h-1zM6 27h1v1h-1zM56 28h1v1h-1zM8 34h1v1h-1zM7 35h1v1h-1zM9 37h1v1h-1zM8 38h1v1h-1zM39 43h1v1h-1zM11 44h1v1h-1zM10 45h1v1h-1zM42 45h1v1h-1zM12 47h1v1h-1zM12 52h1v1h-1zM14 54h1v1h-1zM13 56h1v1h-1z"/><path fill="#fca309" d="M59 3h1v1h-1zM46 12h1v1h-1zM2 13h1v1h-1zM2 14h1v1h-1zM27 16h1v1h-1zM3 17h1v1h-1zM3 18h1v1h-1zM28 18h1v1h-1zM49 18h1v1h-1zM3 19h1v1h-1zM51 19h1v1h-1zM29 20h1v1h-1zM4 21h1v1h-1zM30 22h1v1h-1zM4 23h1v1h-1zM5 24h1v1h-1zM31 24h1v1h-1zM5 27h1v1h-1zM59 30h1v1h-1zM6 31h2v1h-2zM7 34h1v1h-1zM9 38h1v1h-1zM9 41h2v1h-2zM43 47h1v1h-1zM11 48h1v1h-1zM13 51h1v1h-1zM15 58h1v1h-1zM49 58h1v1h-1zM14 59h1v1h-1z"/><path fill="#fcaa0f" d="M39 2h1v1h-1zM24 10h1v1h-1zM25 12h1v1h-1zM26 14h1v1h-1zM47 15h1v1h-1zM4 22h1v1h-1zM5 25h1v1h-1zM5 26h1v1h-1zM32 26h1v1h-1zM56 26h1v1h-1zM6 28h1v1h-1zM33 28h1v1h-1zM6 29h1v1h-1zM6 30h1v1h-1zM34 30h1v1h-1zM7 32h1v1h-1zM59 32h1v1h-1zM7 33h1v1h-1zM8 35h1v1h-1zM8 36h1v1h-1zM8 37h1v1h-1zM9 39h1v1h-1zM9 40h1v1h-1zM38 41h1v1h-1zM10 42h1v1h-1zM10 44h1v1h-1zM11 45h1v1h-1zM11 47h1v1h-1zM12 48h1v1h-1zM44 49h1v1h-1zM12 51h1v1h-1zM45 54h1v1h-1zM13 55h2v1h-2zM15 59h1v1h-1z"/><path fill="#fcb216" d="M37 0h1v1h-1zM39 3h1v1h-1zM41 5h1v1h-1zM22 6h1v1h-1zM41 6h1v1h-1zM23 8h1v1h-1zM43 8h1v1h-1zM43 9h1v1h-1zM45 12h1v1h-1zM48 15h1v1h-1zM53 22h1v1h-1zM54 25h1v1h-1zM35 32h1v1h-1zM36 34h1v1h-1zM37 39h1v1h-1zM10 43h1v1h-1zM11 46h1v1h-1zM12 49h1v1h-1zM12 50h1v1h-1zM45 51h1v1h-1zM13 52h1v1h-1zM13 53h1v1h-1zM13 54h1v1h-1zM14 56h1v1h-1zM14 57h1v1h-1zM14 58h1v1h-1z"/><path fill="#fbba1f" d="M56 0h1v1h-1zM38 1h1v1h-1zM58 2h1v1h-1zM58 3h1v1h-1zM21 4h1v1h-1zM40 4h1v1h-1zM45 11h1v1h-1zM50 18h1v1h-1zM52 22h1v1h-1zM37 36h1v1h-1zM36 37h1v1h-1zM38 38h1v1h-1zM44 52h1v1h-1zM46 53h1v1h-1z"/><path fill="#fac228" d="M19 0h1v1h-1zM18 1h1v1h-1zM20 2h1v1h-1zM42 7h1v1h-1zM44 10h1v1h-1zM46 13h1v1h-1zM47 14h1v1h-1zM48 16h1v1h-1zM50 19h1v1h-1zM55 25h1v1h-1zM57 29h2v1h-2zM35 35h1v1h-1zM39 40h1v1h-1zM40 42h1v1h-1zM43 50h1v1h-1zM47 55h1v1h-1z"/><path fill="#f9c932" d="M57 1h1v1h-1zM19 3h1v1h-1zM59 4h1v1h-1zM49 17h1v1h-1zM51 20h1v1h-1zM52 21h1v1h-1zM33 31h1v1h-1zM34 33h1v1h-1zM41 44h1v1h-1zM48 57h1v1h-1zM48 59h1v1h-1z"/><path fill="#f7d13d" d="M20 5h1v1h-1zM21 7h1v1h-1zM53 23h1v1h-1zM54 24h1v1h-1zM55 26h1v1h-1zM31 27h1v1h-1zM57 28h1v1h-1zM32 29h1v1h-1zM42 46h1v1h-1zM42 48h1v1h-1zM49 59h1v1h-1z"/><path fill="#f5d949" d="M22 9h1v1h-1zM23 11h1v1h-1zM24 13h2v1h-2zM25 15h2v1h-2zM26 17h2v1h-2zM27 19h2v1h-2zM28 21h2v1h-2zM29 23h2v1h-2zM30 25h2v1h-2zM32 27h1v1h-1zM56 27h1v1h-1zM33 29h1v1h-1zM58 30h1v1h-1zM34 31h1v1h-1zM59 31h1v1h-1zM41 46h1v1h-1zM43 48h1v1h-1zM44 50h1v1h-1zM47 57h1v1h-1z"/><path fill="#f4e156" d="M22 7h1v1h-1zM23 9h1v1h-1zM24 11h1v1h-1zM35 33h1v1h-1zM36 35h1v1h-1zM37 37h1v1h-1zM38 39h1v1h-1zM39 42h1v1h-1zM40 44h1v1h-1zM45 52h1v1h-1zM46 54h1v1h-1zM46 55h1v1h-1z"/><path fill="#f2e865" d="M19 1h1v1h-1zM20 3h1v1h-1zM21 5h1v1h-1zM36 36h1v1h-1zM37 38h1v1h-1zM38 40h1v1h-1zM39 41h1v1h-1zM40 43h1v1h-1zM41 45h1v1h-1zM42 47h1v1h-1zM43 49h1v1h-1zM44 51h1v1h-1zM45 53h1v1h-1zM47 56h1v1h-1zM48 58h1v1h-1z"/><path fill="#f1ef75" d="M18 0h1v1h-1zM23 10h1v1h-1zM24 12h1v1h-1zM25 14h1v1h-1zM26 16h1v1h-1zM27 18h1v1h-1zM28 20h1v1h-1zM29 22h1v1h-1zM30 24h1v1h-1zM31 26h1v1h-1zM32 28h1v1h-1zM33 30h1v1h-1zM34 32h1v1h-1zM35 34h1v1h-1z"/><path fill="#f3f586" d="M19 2h1v1h-1zM20 4h1v1h-1zM21 6h1v1h-1zM22 8h1v1h-1z"/></g>
<linearGradient id="cbD" x1="0" y1="0" x2="0" y2="1"><stop offset="0.000" stop-color="#fcffa4"/><stop offset="0.021" stop-color="#f5f992"/><stop offset="0.043" stop-color="#f2f27d"/><stop offset="0.064" stop-color="#f2e865"/><stop offset="0.085" stop-color="#f4df53"/><stop offset="0.106" stop-color="#f7d340"/><stop offset="0.128" stop-color="#f9c932"/><stop offset="0.149" stop-color="#fbbe23"/><stop offset="0.170" stop-color="#fcb418"/><stop offset="0.191" stop-color="#fca80d"/><stop offset="0.213" stop-color="#fc9f07"/><stop offset="0.234" stop-color="#fb9606"/><stop offset="0.255" stop-color="#f98b0b"/><stop offset="0.277" stop-color="#f78212"/><stop offset="0.298" stop-color="#f37819"/><stop offset="0.319" stop-color="#f06f20"/><stop offset="0.340" stop-color="#eb6628"/><stop offset="0.362" stop-color="#e75e2e"/><stop offset="0.383" stop-color="#e15635"/><stop offset="0.404" stop-color="#db503b"/><stop offset="0.426" stop-color="#d54a41"/><stop offset="0.447" stop-color="#ce4347"/><stop offset="0.468" stop-color="#c73e4c"/><stop offset="0.489" stop-color="#bf3952"/><stop offset="0.511" stop-color="#b73557"/><stop offset="0.532" stop-color="#ae305c"/><stop offset="0.553" stop-color="#a62d60"/><stop offset="0.574" stop-color="#9d2964"/><stop offset="0.596" stop-color="#952667"/><stop offset="0.617" stop-color="#8d2369"/><stop offset="0.638" stop-color="#84206b"/><stop offset="0.660" stop-color="#7c1d6d"/><stop offset="0.681" stop-color="#721a6e"/><stop offset="0.702" stop-color="#6a176e"/><stop offset="0.723" stop-color="#61136e"/><stop offset="0.745" stop-color="#59106e"/><stop offset="0.766" stop-color="#4f0d6c"/><stop offset="0.787" stop-color="#470b6a"/><stop offset="0.809" stop-color="#3e0966"/><stop offset="0.830" stop-color="#340a5f"/><stop offset="0.851" stop-color="#2b0b57"/><stop offset="0.872" stop-color="#210c4a"/><stop offset="0.894" stop-color="#190c3e"/><stop offset="0.915" stop-color="#110a30"/><stop offset="0.936" stop-color="#0b0724"/><stop offset="0.957" stop-color="#050417"/><stop offset="0.979" stop-color="#02020c"/><stop offset="1.000" stop-color="#000004"/></linearGradient><rect x="1318.6" y="565.6" width="23.100000000000136" height="463.4" fill="url(#cbD)"/>
<g transform="translate(840.30,1084.90) scale(7.71500,7.72333)" shape-rendering="crispEdges"><path fill="#000004" d="M52 0h1v1h-1zM13 1h2v1h-2zM51 1h3v1h-3zM13 2h2v1h-2zM51 2h4v1h-4zM13 3h3v1h-3zM51 3h4v1h-4zM13 4h3v1h-3zM52 4h4v1h-4zM14 5h3v1h-3zM52 5h5v1h-5zM14 6h3v1h-3zM52 6h5v1h-5zM14 7h4v1h-4zM53 7h5v1h-5zM15 8h3v1h-3zM53 8h5v1h-5zM15 9h3v1h-3zM54 9h5v1h-5zM16 10h2v1h-2zM55 10h4v1h-4zM57 11h1v1h-1zM24 28h2v1h-2zM23 29h4v1h-4zM23 30h5v1h-5zM23 31h6v1h-6zM23 32h6v1h-6zM23 33h6v1h-6zM23 34h6v1h-6zM23 35h6v1h-6zM23 36h6v1h-6zM24 37h5v1h-5zM24 38h5v1h-5zM25 39h4v1h-4zM25 40h4v1h-4zM26 41h2v1h-2zM34 55h3v1h-3zM33 56h5v1h-5zM33 57h6v1h-6zM33 58h7v1h-7zM33 59h7v1h-7z"/><path fill="#02010a" d="M11 0h4v1h-4zM49 0h3v1h-3zM11 1h2v1h-2zM49 1h2v1h-2zM11 2h2v1h-2zM15 2h1v1h-1zM49 2h2v1h-2zM11 3h2v1h-2zM50 3h1v1h-1zM55 3h1v1h-1zM11 4h2v1h-2zM16 4h1v1h-1zM50 4h2v1h-2zM11 5h3v1h-3zM50 5h2v1h-2zM11 6h3v1h-3zM17 6h1v1h-1zM51 6h1v1h-1zM57 6h1v1h-1zM11 7h3v1h-3zM51 7h2v1h-2zM12 8h3v1h-3zM18 8h1v1h-1zM52 8h1v1h-1zM58 8h1v1h-1zM12 9h3v1h-3zM18 9h1v1h-1zM52 9h2v1h-2zM13 10h3v1h-3zM18 10h2v1h-2zM53 10h2v1h-2zM59 10h1v1h-1zM13 11h7v1h-7zM54 11h3v1h-3zM58 11h2v1h-2zM13 12h7v1h-7zM55 12h5v1h-5zM14 13h7v1h-7zM56 13h4v1h-4zM14 14h7v1h-7zM58 14h2v1h-2zM15 15h7v1h-7zM16 16h6v1h-6zM16 17h6v1h-6zM16 18h7v1h-7zM17 19h6v1h-6zM17 20h6v1h-6zM18 21h6v1h-6zM18 22h7v1h-7zM19 23h6v1h-6zM19 24h7v1h-7zM19 25h8v1h-8zM19 26h8v1h-8zM19 27h9v1h-9zM20 28h4v1h-4zM26 28h3v1h-3zM20 29h3v1h-3zM27 29h2v1h-2zM20 30h3v1h-3zM28 30h2v1h-2zM20 31h3v1h-3zM29 31h1v1h-1zM20 32h3v1h-3zM29 32h2v1h-2zM20 33h3v1h-3zM29 33h2v1h-2zM20 34h3v1h-3zM29 34h2v1h-2zM21 35h2v1h-2zM29 35h3v1h-3zM21 36h2v1h-2zM29 36h3v1h-3zM21 37h3v1h-3zM29 37h3v1h-3zM21 38h3v1h-3zM29 38h3v1h-3zM22 39h3v1h-3zM29 39h3v1h-3zM22 40h3v1h-3zM29 40h4v1h-4zM22 41h4v1h-4zM28 41h5v1h-5zM23 42h10v1h-10zM23 43h10v1h-10zM24 44h10v1h-10zM24 45h10v1h-10zM25 46h10v1h-10zM25 47h10v1h-10zM25 48h11v1h-11zM26 49h11v1h-11zM26 50h12v1h-12zM26 51h13v1h-13zM27 52h12v1h-12zM27 53h13v1h-13zM27 54h14v1h-14zM27 55h7v1h-7zM37 55h4v1h-4zM28 56h5v1h-5zM38 56h4v1h-4zM28 57h5v1h-5zM39 57h3v1h-3zM28 58h5v1h-5zM40 58h3v1h-3zM28 59h5v1h-5zM40 59h3v1h-3z"/><path fill="#040312" d="M9 0h2v1h-2zM48 0h1v1h-1zM53 0h1v1h-1zM9 1h2v1h-2zM15 1h1v1h-1zM48 1h1v1h-1zM9 2h2v1h-2zM48 2h1v1h-1zM9 3h2v1h-2zM16 3h1v1h-1zM48 3h2v1h-2zM9 4h2v1h-2zM49 4h1v1h-1zM56 4h1v1h-1zM9 5h2v1h-2zM17 5h1v1h-1zM49 5h1v1h-1zM10 6h1v1h-1zM50 6h1v1h-1zM10 7h1v1h-1zM18 7h1v1h-1zM50 7h1v1h-1zM10 8h2v1h-2zM51 8h1v1h-1zM11 9h1v1h-1zM19 9h1v1h-1zM51 9h1v1h-1zM59 9h1v1h-1zM11 10h2v1h-2zM52 10h1v1h-1zM11 11h2v1h-2zM53 11h1v1h-1zM12 12h1v1h-1zM20 12h1v1h-1zM53 12h2v1h-2zM12 13h2v1h-2zM54 13h2v1h-2zM13 14h1v1h-1zM21 14h1v1h-1zM55 14h3v1h-3zM13 15h2v1h-2zM56 15h4v1h-4zM13 16h3v1h-3zM22 16h1v1h-1zM58 16h2v1h-2zM14 17h2v1h-2zM22 17h1v1h-1zM14 18h2v1h-2zM23 18h1v1h-1zM15 19h2v1h-2zM23 19h1v1h-1zM15 20h2v1h-2zM23 20h2v1h-2zM15 21h3v1h-3zM24 21h1v1h-1zM16 22h2v1h-2zM25 22h1v1h-1zM16 23h3v1h-3zM25 23h1v1h-1zM16 24h3v1h-3zM26 24h1v1h-1zM17 25h2v1h-2zM17 26h2v1h-2zM27 26h1v1h-1zM17 27h2v1h-2zM28 27h1v1h-1zM17 28h3v1h-3zM18 29h2v1h-2zM29 29h1v1h-1zM18 30h2v1h-2zM18 31h2v1h-2zM30 31h1v1h-1zM18 32h2v1h-2zM19 33h1v1h-1zM31 33h1v1h-1zM19 34h1v1h-1zM31 34h1v1h-1zM19 35h2v1h-2zM19 36h2v1h-2zM32 36h1v1h-1zM20 37h1v1h-1zM32 37h1v1h-1zM20 38h1v1h-1zM32 38h2v1h-2zM20 39h2v1h-2zM32 39h2v1h-2zM20 40h2v1h-2zM33 40h1v1h-1zM21 41h1v1h-1zM33 41h2v1h-2zM21 42h2v1h-2zM33 42h2v1h-2zM21 43h2v1h-2zM33 43h3v1h-3zM22 44h2v1h-2zM34 44h2v1h-2zM22 45h2v1h-2zM34 45h3v1h-3zM22 46h3v1h-3zM35 46h2v1h-2zM23 47h2v1h-2zM35 47h3v1h-3zM23 48h2v1h-2zM36 48h3v1h-3zM23 49h3v1h-3zM37 49h2v1h-2zM23 50h3v1h-3zM38 50h2v1h-2zM24 51h2v1h-2zM39 51h1v1h-1zM24 52h3v1h-3zM39 52h2v1h-2zM24 53h3v1h-3zM40 53h2v1h-2zM24 54h3v1h-3zM41 54h1v1h-1zM25 55h2v1h-2zM41 55h2v1h-2zM25 56h3v1h-3zM42 56h1v1h-1zM25 57h3v1h-3zM42 57h2v1h-2zM25 58h3v1h-3zM43 58h1v1h-1zM25 59h3v1h-3zM43 59h2v1h-2z"/><path fill="#07051b" d="M8 0h1v1h-1zM47 0h1v1h-1zM8 1h1v1h-1zM47 1h1v1h-1zM54 1h1v1h-1zM8 2h1v1h-1zM47 2h1v1h-1zM8 3h1v1h-1zM47 3h1v1h-1zM8 4h1v1h-1zM48 4h1v1h-1zM8 5h1v1h-1zM48 5h1v1h-1zM9 6h1v1h-1zM49 6h1v1h-1zM9 7h1v1h-1zM49 7h1v1h-1zM58 7h1v1h-1zM9 8h1v1h-1zM50 8h1v1h-1zM10 9h1v1h-1zM50 9h1v1h-1zM10 10h1v1h-1zM51 10h1v1h-1zM10 11h1v1h-1zM20 11h1v1h-1zM52 11h1v1h-1zM11 12h1v1h-1zM52 12h1v1h-1zM11 13h1v1h-1zM21 13h1v1h-1zM53 13h1v1h-1zM11 14h2v1h-2zM54 14h1v1h-1zM12 15h1v1h-1zM22 15h1v1h-1zM55 15h1v1h-1zM12 16h1v1h-1zM56 16h2v1h-2zM13 17h1v1h-1zM57 17h3v1h-3zM13 18h1v1h-1zM58 18h2v1h-2zM13 19h2v1h-2zM14 20h1v1h-1zM14 21h1v1h-1zM14 22h2v1h-2zM15 23h1v1h-1zM26 23h1v1h-1zM15 24h1v1h-1zM15 25h2v1h-2zM27 25h1v1h-1zM15 26h2v1h-2zM16 27h1v1h-1zM16 28h1v1h-1zM16 29h2v1h-2zM17 30h1v1h-1zM17 31h1v1h-1zM17 32h1v1h-1zM17 33h2v1h-2zM18 34h1v1h-1zM18 35h1v1h-1zM32 35h1v1h-1zM18 36h1v1h-1zM18 37h2v1h-2zM33 37h1v1h-1zM19 38h1v1h-1zM19 39h1v1h-1zM34 39h1v1h-1zM19 40h1v1h-1zM34 40h1v1h-1zM19 41h2v1h-2zM35 41h1v1h-1zM20 42h1v1h-1zM35 42h1v1h-1zM20 43h1v1h-1zM36 43h1v1h-1zM20 44h2v1h-2zM36 44h1v1h-1zM21 45h1v1h-1zM37 45h1v1h-1zM21 46h1v1h-1zM37 46h1v1h-1zM21 47h2v1h-2zM38 47h1v1h-1zM22 48h1v1h-1zM22 49h1v1h-1zM39 49h1v1h-1zM22 50h1v1h-1zM22 51h2v1h-2zM40 51h1v1h-1zM22 52h2v1h-2zM41 52h1v1h-1zM23 53h1v1h-1zM23 54h1v1h-1zM42 54h1v1h-1zM23 55h2v1h-2zM23 56h2v1h-2zM43 56h1v1h-1zM24 57h1v1h-1zM24 58h1v1h-1zM44 58h1v1h-1zM24 59h1v1h-1zM45 59h1v1h-1z"/><path fill="#0b0724" d="M7 0h1v1h-1zM15 0h1v1h-1zM46 0h1v1h-1zM7 1h1v1h-1zM46 1h1v1h-1zM7 2h1v1h-1zM16 2h1v1h-1zM46 2h1v1h-1zM7 3h1v1h-1zM7 4h1v1h-1zM17 4h1v1h-1zM47 4h1v1h-1zM47 5h1v1h-1zM8 6h1v1h-1zM48 6h1v1h-1zM8 7h1v1h-1zM8 8h1v1h-1zM49 8h1v1h-1zM9 9h1v1h-1zM9 10h1v1h-1zM50 10h1v1h-1zM9 11h1v1h-1zM51 11h1v1h-1zM10 12h1v1h-1zM10 13h1v1h-1zM52 13h1v1h-1zM10 14h1v1h-1zM53 14h1v1h-1zM11 15h1v1h-1zM54 15h1v1h-1zM11 16h1v1h-1zM55 16h1v1h-1zM12 17h1v1h-1zM23 17h1v1h-1zM56 17h1v1h-1zM12 18h1v1h-1zM57 18h1v1h-1zM12 19h1v1h-1zM24 19h1v1h-1zM58 19h2v1h-2zM12 20h2v1h-2zM13 21h1v1h-1zM25 21h1v1h-1zM13 22h1v1h-1zM13 23h2v1h-2zM14 24h1v1h-1zM14 25h1v1h-1zM14 26h1v1h-1zM15 27h1v1h-1zM15 28h1v1h-1zM29 28h1v1h-1zM15 29h1v1h-1zM16 30h1v1h-1zM30 30h1v1h-1zM16 31h1v1h-1zM16 32h1v1h-1zM31 32h1v1h-1zM16 33h1v1h-1zM17 34h1v1h-1zM32 34h1v1h-1zM17 35h1v1h-1zM17 36h1v1h-1zM17 37h1v1h-1zM18 38h1v1h-1zM18 39h1v1h-1zM18 40h1v1h-1zM19 42h1v1h-1zM19 43h1v1h-1zM20 45h1v1h-1zM20 46h1v1h-1zM38 46h1v1h-1zM20 47h1v1h-1zM21 48h1v1h-1zM39 48h1v1h-1zM21 49h1v1h-1zM21 50h1v1h-1zM40 50h1v1h-1zM21 51h1v1h-1zM21 52h1v1h-1zM22 53h1v1h-1zM42 53h1v1h-1zM22 54h1v1h-1zM22 55h1v1h-1zM43 55h1v1h-1zM22 56h1v1h-1zM22 57h2v1h-2zM44 57h1v1h-1zM23 58h1v1h-1zM23 59h1v1h-1z"/><path fill="#10092d" d="M6 0h1v1h-1zM45 0h1v1h-1zM6 1h1v1h-1zM45 1h1v1h-1zM6 2h1v1h-1zM45 2h1v1h-1zM55 2h1v1h-1zM46 3h1v1h-1zM46 4h1v1h-1zM7 5h1v1h-1zM57 5h1v1h-1zM7 6h1v1h-1zM18 6h1v1h-1zM47 6h1v1h-1zM7 7h1v1h-1zM48 7h1v1h-1zM19 8h1v1h-1zM59 8h1v1h-1zM8 9h1v1h-1zM49 9h1v1h-1zM8 10h1v1h-1zM20 10h1v1h-1zM40 11h1v1h-1zM9 12h1v1h-1zM41 12h1v1h-1zM51 12h1v1h-1zM9 13h1v1h-1zM41 13h2v1h-2zM42 14h2v1h-2zM10 15h1v1h-1zM42 15h2v1h-2zM53 15h1v1h-1zM10 16h1v1h-1zM43 16h2v1h-2zM54 16h1v1h-1zM11 17h1v1h-1zM44 17h2v1h-2zM55 17h1v1h-1zM11 18h1v1h-1zM44 18h2v1h-2zM56 18h1v1h-1zM11 19h1v1h-1zM45 19h2v1h-2zM57 19h1v1h-1zM46 20h2v1h-2zM58 20h2v1h-2zM12 21h1v1h-1zM47 21h1v1h-1zM12 22h1v1h-1zM13 24h1v1h-1zM27 24h1v1h-1zM13 25h1v1h-1zM13 26h1v1h-1zM28 26h1v1h-1zM14 27h1v1h-1zM14 28h1v1h-1zM14 29h1v1h-1zM15 30h1v1h-1zM15 31h1v1h-1zM15 32h1v1h-1zM16 34h1v1h-1zM16 35h1v1h-1zM16 36h1v1h-1zM33 36h1v1h-1zM17 38h1v1h-1zM34 38h1v1h-1zM17 39h1v1h-1zM35 40h1v1h-1zM18 41h1v1h-1zM18 42h1v1h-1zM36 42h1v1h-1zM18 43h1v1h-1zM19 44h1v1h-1zM37 44h1v1h-1zM19 45h1v1h-1zM19 46h1v1h-1zM20 48h1v1h-1zM20 49h1v1h-1zM20 50h1v1h-1zM20 51h1v1h-1zM41 51h1v1h-1zM21 53h1v1h-1zM21 54h1v1h-1zM21 55h1v1h-1zM21 56h1v1h-1zM22 58h1v1h-1zM45 58h1v1h-1zM22 59h1v1h-1z"/><path fill="#150b37" d="M25 0h9v1h-9zM44 0h1v1h-1zM26 1h9v1h-9zM44 1h1v1h-1zM27 2h8v1h-8zM6 3h1v1h-1zM29 3h7v1h-7zM45 3h1v1h-1zM6 4h1v1h-1zM31 4h6v1h-6zM6 5h1v1h-1zM33 5h4v1h-4zM46 5h1v1h-1zM34 6h4v1h-4zM35 7h4v1h-4zM7 8h1v1h-1zM36 8h4v1h-4zM48 8h1v1h-1zM7 9h1v1h-1zM36 9h4v1h-4zM37 10h4v1h-4zM49 10h1v1h-1zM8 11h1v1h-1zM37 11h3v1h-3zM41 11h1v1h-1zM50 11h1v1h-1zM8 12h1v1h-1zM21 12h1v1h-1zM38 12h3v1h-3zM42 12h1v1h-1zM38 13h3v1h-3zM51 13h1v1h-1zM9 14h1v1h-1zM22 14h1v1h-1zM39 14h3v1h-3zM52 14h1v1h-1zM9 15h1v1h-1zM40 15h2v1h-2zM44 15h1v1h-1zM23 16h1v1h-1zM40 16h3v1h-3zM10 17h1v1h-1zM41 17h3v1h-3zM10 18h1v1h-1zM24 18h1v1h-1zM42 18h2v1h-2zM46 18h1v1h-1zM55 18h1v1h-1zM43 19h2v1h-2zM47 19h1v1h-1zM56 19h1v1h-1zM11 20h1v1h-1zM25 20h1v1h-1zM43 20h3v1h-3zM57 20h1v1h-1zM11 21h1v1h-1zM44 21h3v1h-3zM48 21h1v1h-1zM58 21h2v1h-2zM26 22h1v1h-1zM45 22h4v1h-4zM12 23h1v1h-1zM47 23h3v1h-3zM12 24h1v1h-1zM48 24h3v1h-3zM12 25h1v1h-1zM49 25h2v1h-2zM50 26h2v1h-2zM13 27h1v1h-1zM13 28h1v1h-1zM14 30h1v1h-1zM14 31h1v1h-1zM15 33h1v1h-1zM15 34h1v1h-1zM15 35h1v1h-1zM16 37h1v1h-1zM16 38h1v1h-1zM17 40h1v1h-1zM17 41h1v1h-1zM17 42h1v1h-1zM18 44h1v1h-1zM18 45h1v1h-1zM19 47h1v1h-1zM19 48h1v1h-1zM19 49h1v1h-1zM40 49h1v1h-1zM19 50h1v1h-1zM20 52h1v1h-1zM20 53h1v1h-1zM20 54h1v1h-1zM43 54h1v1h-1zM44 56h1v1h-1zM21 57h1v1h-1zM21 58h1v1h-1zM21 59h1v1h-1z"/><path fill="#1b0c41" d="M5 0h1v1h-1zM24 0h1v1h-1zM43 0h1v1h-1zM5 1h1v1h-1zM25 1h1v1h-1zM5 2h1v1h-1zM26 2h1v1h-1zM35 2h1v1h-1zM44 2h1v1h-1zM27 3h2v1h-2zM28 4h3v1h-3zM45 4h1v1h-1zM28 5h5v1h-5zM37 5h1v1h-1zM6 6h1v1h-1zM30 6h4v1h-4zM38 6h1v1h-1zM6 7h1v1h-1zM31 7h4v1h-4zM47 7h1v1h-1zM32 8h4v1h-4zM32 9h4v1h-4zM40 9h1v1h-1zM48 9h1v1h-1zM7 10h1v1h-1zM33 10h4v1h-4zM34 11h3v1h-3zM35 12h3v1h-3zM50 12h1v1h-1zM8 13h1v1h-1zM35 13h3v1h-3zM43 13h1v1h-1zM36 14h3v1h-3zM36 15h4v1h-4zM9 16h1v1h-1zM37 16h3v1h-3zM45 16h1v1h-1zM53 16h1v1h-1zM38 17h3v1h-3zM54 17h1v1h-1zM38 18h4v1h-4zM10 19h1v1h-1zM39 19h4v1h-4zM10 20h1v1h-1zM40 20h3v1h-3zM41 21h3v1h-3zM11 22h1v1h-1zM42 22h3v1h-3zM49 22h1v1h-1zM59 22h1v1h-1zM11 23h1v1h-1zM43 23h4v1h-4zM44 24h4v1h-4zM46 25h3v1h-3zM51 25h1v1h-1zM12 26h1v1h-1zM47 26h3v1h-3zM12 27h1v1h-1zM48 27h5v1h-5zM49 28h5v1h-5zM13 29h1v1h-1zM51 29h3v1h-3zM13 30h1v1h-1zM52 30h3v1h-3zM31 31h1v1h-1zM14 32h1v1h-1zM14 33h1v1h-1zM32 33h1v1h-1zM15 36h1v1h-1zM15 37h1v1h-1zM16 39h1v1h-1zM16 40h1v1h-1zM17 43h1v1h-1zM38 45h1v1h-1zM18 46h1v1h-1zM18 47h1v1h-1zM39 47h1v1h-1zM19 51h1v1h-1zM19 52h1v1h-1zM42 52h1v1h-1zM20 55h1v1h-1zM20 56h1v1h-1zM20 57h1v1h-1zM46 59h1v1h-1z"/><path fill="#210c4a" d="M34 0h1v1h-1zM24 1h1v1h-1zM43 1h1v1h-1zM25 2h1v1h-1zM5 3h1v1h-1zM26 3h1v1h-1zM36 3h1v1h-1zM44 3h1v1h-1zM56 3h1v1h-1zM5 4h1v1h-1zM26 4h2v1h-2zM27 5h1v1h-1zM28 6h2v1h-2zM46 6h1v1h-1zM58 6h1v1h-1zM29 7h2v1h-2zM6 8h1v1h-1zM29 8h3v1h-3zM47 8h1v1h-1zM30 9h2v1h-2zM31 10h2v1h-2zM41 10h1v1h-1zM7 11h1v1h-1zM32 11h2v1h-2zM49 11h1v1h-1zM32 12h3v1h-3zM33 13h2v1h-2zM8 14h1v1h-1zM33 14h3v1h-3zM51 14h1v1h-1zM34 15h2v1h-2zM52 15h1v1h-1zM35 16h2v1h-2zM9 17h1v1h-1zM35 17h3v1h-3zM46 17h1v1h-1zM9 18h1v1h-1zM36 18h2v1h-2zM54 18h1v1h-1zM36 19h3v1h-3zM55 19h1v1h-1zM37 20h3v1h-3zM48 20h1v1h-1zM56 20h1v1h-1zM10 21h1v1h-1zM38 21h3v1h-3zM57 21h1v1h-1zM10 22h1v1h-1zM39 22h3v1h-3zM58 22h1v1h-1zM40 23h3v1h-3zM50 23h1v1h-1zM59 23h1v1h-1zM11 24h1v1h-1zM41 24h3v1h-3zM11 25h1v1h-1zM42 25h4v1h-4zM43 26h4v1h-4zM52 26h1v1h-1zM29 27h1v1h-1zM44 27h4v1h-4zM12 28h1v1h-1zM45 28h4v1h-4zM12 29h1v1h-1zM30 29h1v1h-1zM46 29h5v1h-5zM54 29h1v1h-1zM47 30h5v1h-5zM13 31h1v1h-1zM48 31h8v1h-8zM13 32h1v1h-1zM49 32h7v1h-7zM51 33h6v1h-6zM14 34h1v1h-1zM53 34h4v1h-4zM14 35h1v1h-1zM33 35h1v1h-1zM34 37h1v1h-1zM15 38h1v1h-1zM35 39h1v1h-1zM16 41h1v1h-1zM36 41h1v1h-1zM37 43h1v1h-1zM17 44h1v1h-1zM17 45h1v1h-1zM18 48h1v1h-1zM18 49h1v1h-1zM18 50h1v1h-1zM41 50h1v1h-1zM19 53h1v1h-1zM19 54h1v1h-1zM45 57h1v1h-1zM20 58h1v1h-1zM20 59h1v1h-1z"/><path fill="#280b53" d="M4 0h1v1h-1zM23 0h1v1h-1zM42 0h1v1h-1zM54 0h1v1h-1zM4 1h1v1h-1zM16 1h1v1h-1zM35 1h1v1h-1zM24 2h1v1h-1zM17 3h1v1h-1zM25 3h1v1h-1zM37 4h1v1h-1zM5 5h1v1h-1zM26 5h1v1h-1zM45 5h1v1h-1zM5 6h1v1h-1zM27 6h1v1h-1zM28 7h1v1h-1zM39 7h1v1h-1zM28 8h1v1h-1zM6 9h1v1h-1zM29 9h1v1h-1zM30 10h1v1h-1zM48 10h1v1h-1zM30 11h2v1h-2zM7 12h1v1h-1zM31 12h1v1h-1zM7 13h1v1h-1zM32 13h1v1h-1zM50 13h1v1h-1zM32 14h1v1h-1zM44 14h1v1h-1zM8 15h1v1h-1zM33 15h1v1h-1zM8 16h1v1h-1zM33 16h2v1h-2zM34 17h1v1h-1zM53 17h1v1h-1zM34 18h2v1h-2zM9 19h1v1h-1zM35 19h1v1h-1zM35 20h2v1h-2zM36 21h2v1h-2zM37 22h2v1h-2zM10 23h1v1h-1zM37 23h3v1h-3zM38 24h3v1h-3zM28 25h1v1h-1zM39 25h3v1h-3zM11 26h1v1h-1zM40 26h3v1h-3zM11 27h1v1h-1zM41 27h3v1h-3zM53 27h1v1h-1zM41 28h4v1h-4zM42 29h4v1h-4zM12 30h1v1h-1zM43 30h4v1h-4zM55 30h1v1h-1zM44 31h4v1h-4zM44 32h5v1h-5zM56 32h1v1h-1zM13 33h1v1h-1zM46 33h5v1h-5zM47 34h6v1h-6zM57 34h1v1h-1zM48 35h11v1h-11zM14 36h1v1h-1zM49 36h10v1h-10zM50 37h10v1h-10zM52 38h8v1h-8zM15 39h1v1h-1zM55 39h5v1h-5zM15 40h1v1h-1zM57 40h3v1h-3zM58 41h2v1h-2zM16 42h1v1h-1zM59 42h1v1h-1zM16 43h1v1h-1zM59 43h1v1h-1zM17 46h1v1h-1zM17 47h1v1h-1zM18 51h1v1h-1zM18 52h1v1h-1zM19 55h1v1h-1zM44 55h1v1h-1zM19 56h1v1h-1z"/><path fill="#2f0a5b" d="M23 1h1v1h-1zM4 2h1v1h-1zM43 2h1v1h-1zM25 4h1v1h-1zM44 4h1v1h-1zM18 5h1v1h-1zM26 6h1v1h-1zM5 7h1v1h-1zM19 7h1v1h-1zM27 7h1v1h-1zM46 7h1v1h-1zM28 9h1v1h-1zM6 10h1v1h-1zM29 10h1v1h-1zM42 11h1v1h-1zM30 12h1v1h-1zM31 13h1v1h-1zM7 14h1v1h-1zM31 14h1v1h-1zM32 15h1v1h-1zM32 16h1v1h-1zM52 16h1v1h-1zM8 17h1v1h-1zM33 17h1v1h-1zM33 18h1v1h-1zM34 19h1v1h-1zM9 20h1v1h-1zM34 20h1v1h-1zM55 20h1v1h-1zM9 21h1v1h-1zM35 21h1v1h-1zM49 21h1v1h-1zM56 21h1v1h-1zM36 22h1v1h-1zM57 22h1v1h-1zM27 23h1v1h-1zM36 23h1v1h-1zM58 23h1v1h-1zM10 24h1v1h-1zM37 24h1v1h-1zM51 24h1v1h-1zM59 24h1v1h-1zM10 25h1v1h-1zM37 25h2v1h-2zM38 26h2v1h-2zM39 27h2v1h-2zM11 28h1v1h-1zM39 28h2v1h-2zM40 29h2v1h-2zM41 30h2v1h-2zM12 31h1v1h-1zM41 31h3v1h-3zM42 32h2v1h-2zM43 33h3v1h-3zM57 33h1v1h-1zM13 34h1v1h-1zM44 34h3v1h-3zM45 35h3v1h-3zM46 36h3v1h-3zM59 36h1v1h-1zM14 37h1v1h-1zM47 37h3v1h-3zM48 38h4v1h-4zM49 39h6v1h-6zM50 40h7v1h-7zM15 41h1v1h-1zM52 41h6v1h-6zM54 42h5v1h-5zM55 43h4v1h-4zM16 44h1v1h-1zM57 44h3v1h-3zM57 45h3v1h-3zM58 46h2v1h-2zM58 47h2v1h-2zM17 48h1v1h-1zM40 48h1v1h-1zM58 48h2v1h-2zM59 49h1v1h-1zM59 50h1v1h-1zM59 51h1v1h-1zM59 52h1v1h-1zM18 53h1v1h-1zM43 53h1v1h-1zM59 53h1v1h-1zM59 54h1v1h-1zM59 55h1v1h-1zM19 57h1v1h-1zM19 58h1v1h-1z"/><path fill="#360961" d="M42 1h1v1h-1zM4 3h1v1h-1zM24 3h1v1h-1zM4 4h1v1h-1zM25 5h1v1h-1zM38 5h1v1h-1zM45 6h1v1h-1zM5 8h1v1h-1zM27 8h1v1h-1zM40 8h1v1h-1zM20 9h1v1h-1zM47 9h1v1h-1zM28 10h1v1h-1zM6 11h1v1h-1zM21 11h1v1h-1zM29 11h1v1h-1zM49 12h1v1h-1zM22 13h1v1h-1zM30 13h1v1h-1zM7 15h1v1h-1zM31 15h1v1h-1zM51 15h1v1h-1zM32 17h1v1h-1zM8 18h1v1h-1zM47 18h1v1h-1zM25 19h1v1h-1zM33 19h1v1h-1zM54 19h1v1h-1zM26 21h1v1h-1zM34 21h1v1h-1zM9 22h1v1h-1zM35 22h1v1h-1zM35 23h1v1h-1zM36 24h1v1h-1zM36 25h1v1h-1zM10 26h1v1h-1zM37 26h1v1h-1zM38 27h1v1h-1zM38 28h1v1h-1zM11 29h1v1h-1zM39 29h1v1h-1zM40 30h1v1h-1zM40 31h1v1h-1zM56 31h1v1h-1zM12 32h1v1h-1zM41 32h1v1h-1zM42 33h1v1h-1zM43 34h1v1h-1zM58 34h1v1h-1zM13 35h1v1h-1zM43 35h2v1h-2zM44 36h2v1h-2zM45 37h2v1h-2zM14 38h1v1h-1zM46 38h2v1h-2zM47 39h2v1h-2zM48 40h2v1h-2zM49 41h3v1h-3zM15 42h1v1h-1zM50 42h4v1h-4zM51 43h4v1h-4zM53 44h4v1h-4zM16 45h1v1h-1zM54 45h3v1h-3zM39 46h1v1h-1zM55 46h3v1h-3zM56 47h2v1h-2zM56 48h2v1h-2zM17 49h1v1h-1zM57 49h2v1h-2zM17 50h1v1h-1zM57 50h2v1h-2zM57 51h2v1h-2zM57 52h2v1h-2zM57 53h2v1h-2zM18 54h1v1h-1zM58 54h1v1h-1zM58 55h1v1h-1zM58 56h2v1h-2zM7 57h1v1h-1zM59 57h1v1h-1zM7 58h1v1h-1zM46 58h1v1h-1zM59 58h1v1h-1zM6 59h3v1h-3zM19 59h1v1h-1zM59 59h1v1h-1z"/><path fill="#3d0965" d="M22 0h1v1h-1zM23 2h1v1h-1zM36 2h1v1h-1zM43 3h1v1h-1zM4 5h1v1h-1zM26 7h1v1h-1zM5 9h1v1h-1zM27 9h1v1h-1zM48 11h1v1h-1zM6 12h1v1h-1zM29 12h1v1h-1zM30 14h1v1h-1zM23 15h1v1h-1zM45 15h1v1h-1zM31 16h1v1h-1zM24 17h1v1h-1zM32 18h1v1h-1zM53 18h1v1h-1zM8 19h1v1h-1zM33 20h1v1h-1zM34 22h1v1h-1zM9 23h1v1h-1zM57 23h1v1h-1zM35 24h1v1h-1zM58 24h1v1h-1zM52 25h1v1h-1zM59 25h1v1h-1zM10 27h1v1h-1zM37 27h1v1h-1zM54 28h1v1h-1zM38 29h1v1h-1zM11 30h1v1h-1zM39 30h1v1h-1zM32 32h1v1h-1zM40 32h1v1h-1zM12 33h1v1h-1zM41 33h1v1h-1zM33 34h1v1h-1zM42 34h1v1h-1zM13 36h1v1h-1zM43 36h1v1h-1zM44 37h1v1h-1zM45 38h1v1h-1zM14 39h1v1h-1zM46 39h1v1h-1zM47 40h1v1h-1zM48 41h1v1h-1zM49 42h1v1h-1zM15 43h1v1h-1zM50 43h1v1h-1zM38 44h1v1h-1zM51 44h2v1h-2zM52 45h2v1h-2zM16 46h1v1h-1zM53 46h2v1h-2zM54 47h2v1h-2zM54 48h2v1h-2zM55 49h2v1h-2zM55 50h2v1h-2zM17 51h1v1h-1zM42 51h1v1h-1zM56 51h1v1h-1zM56 52h1v1h-1zM6 53h1v1h-1zM56 53h1v1h-1zM5 54h3v1h-3zM57 54h1v1h-1zM5 55h3v1h-3zM18 55h1v1h-1zM57 55h1v1h-1zM5 56h3v1h-3zM18 56h1v1h-1zM57 56h1v1h-1zM5 57h2v1h-2zM8 57h1v1h-1zM58 57h1v1h-1zM5 58h2v1h-2zM8 58h1v1h-1zM58 58h1v1h-1zM5 59h1v1h-1zM9 59h1v1h-1zM58 59h1v1h-1z"/><path fill="#440a68" d="M3 0h1v1h-1zM41 0h1v1h-1zM3 1h1v1h-1zM24 4h1v1h-1zM57 4h1v1h-1zM44 5h1v1h-1zM4 6h1v1h-1zM25 6h1v1h-1zM59 7h1v1h-1zM46 8h1v1h-1zM5 10h1v1h-1zM28 11h1v1h-1zM43 12h1v1h-1zM6 13h1v1h-1zM29 13h1v1h-1zM50 14h1v1h-1zM30 15h1v1h-1zM7 16h1v1h-1zM31 17h1v1h-1zM8 20h1v1h-1zM33 21h1v1h-1zM50 22h1v1h-1zM56 22h1v1h-1zM34 23h1v1h-1zM9 24h1v1h-1zM36 26h1v1h-1zM10 28h1v1h-1zM37 28h1v1h-1zM31 30h1v1h-1zM38 30h1v1h-1zM11 31h1v1h-1zM39 31h1v1h-1zM40 33h1v1h-1zM12 34h1v1h-1zM41 34h1v1h-1zM42 35h1v1h-1zM59 35h1v1h-1zM34 36h1v1h-1zM13 37h1v1h-1zM43 37h1v1h-1zM35 38h1v1h-1zM44 38h1v1h-1zM45 39h1v1h-1zM14 40h1v1h-1zM36 40h1v1h-1zM46 40h1v1h-1zM47 41h1v1h-1zM37 42h1v1h-1zM48 42h1v1h-1zM49 43h1v1h-1zM49 44h2v1h-2zM50 45h2v1h-2zM51 46h2v1h-2zM16 47h1v1h-1zM52 47h2v1h-2zM4 48h1v1h-1zM16 48h1v1h-1zM53 48h1v1h-1zM4 49h2v1h-2zM53 49h2v1h-2zM4 50h3v1h-3zM54 50h1v1h-1zM4 51h3v1h-3zM54 51h2v1h-2zM4 52h3v1h-3zM17 52h1v1h-1zM55 52h1v1h-1zM4 53h2v1h-2zM7 53h1v1h-1zM55 53h1v1h-1zM4 54h1v1h-1zM55 54h2v1h-2zM4 55h1v1h-1zM8 55h1v1h-1zM56 55h1v1h-1zM3 56h2v1h-2zM8 56h1v1h-1zM45 56h1v1h-1zM56 56h1v1h-1zM3 57h2v1h-2zM18 57h1v1h-1zM57 57h1v1h-1zM3 58h2v1h-2zM9 58h1v1h-1zM57 58h1v1h-1zM2 59h3v1h-3z"/><path fill="#4a0c6b" d="M59 0h1v1h-1zM55 1h1v1h-1zM3 2h1v1h-1zM42 2h1v1h-1zM4 7h1v1h-1zM26 8h1v1h-1zM41 9h1v1h-1zM27 10h1v1h-1zM47 10h1v1h-1zM6 14h1v1h-1zM7 17h1v1h-1zM52 17h1v1h-1zM32 19h1v1h-1zM48 19h1v1h-1zM8 21h1v1h-1zM55 21h1v1h-1zM9 25h1v1h-1zM35 25h1v1h-1zM36 27h1v1h-1zM30 28h1v1h-1zM10 29h1v1h-1zM37 29h1v1h-1zM11 32h1v1h-1zM39 32h1v1h-1zM57 32h1v1h-1zM12 35h1v1h-1zM41 35h1v1h-1zM42 36h1v1h-1zM13 38h1v1h-1zM44 39h1v1h-1zM45 40h1v1h-1zM14 41h1v1h-1zM46 41h1v1h-1zM47 42h1v1h-1zM3 43h1v1h-1zM48 43h1v1h-1zM3 44h1v1h-1zM15 44h1v1h-1zM3 45h2v1h-2zM49 45h1v1h-1zM3 46h2v1h-2zM50 46h1v1h-1zM3 47h3v1h-3zM51 47h1v1h-1zM3 48h1v1h-1zM5 48h1v1h-1zM52 48h1v1h-1zM3 49h1v1h-1zM6 49h1v1h-1zM16 49h1v1h-1zM52 49h1v1h-1zM3 50h1v1h-1zM53 50h1v1h-1zM3 51h1v1h-1zM53 51h1v1h-1zM2 52h2v1h-2zM7 52h1v1h-1zM54 52h1v1h-1zM2 53h2v1h-2zM17 53h1v1h-1zM54 53h1v1h-1zM2 54h2v1h-2zM8 54h1v1h-1zM2 55h2v1h-2zM55 55h1v1h-1zM1 56h2v1h-2zM1 57h2v1h-2zM9 57h1v1h-1zM56 57h1v1h-1zM0 58h3v1h-3zM18 58h1v1h-1zM56 58h1v1h-1zM0 59h2v1h-2zM57 59h1v1h-1z"/><path fill="#510e6c" d="M22 1h1v1h-1zM3 3h1v1h-1zM23 3h1v1h-1zM43 4h1v1h-1zM24 5h1v1h-1zM39 6h1v1h-1zM45 7h1v1h-1zM5 11h1v1h-1zM28 12h1v1h-1zM49 13h1v1h-1zM29 14h1v1h-1zM30 16h1v1h-1zM46 16h1v1h-1zM7 18h1v1h-1zM31 18h1v1h-1zM32 20h1v1h-1zM54 20h1v1h-1zM8 22h1v1h-1zM33 22h1v1h-1zM34 24h1v1h-1zM58 25h1v1h-1zM9 26h1v1h-1zM29 26h1v1h-1zM35 26h1v1h-1zM59 26h1v1h-1zM55 29h1v1h-1zM38 31h1v1h-1zM40 34h1v1h-1zM43 38h1v1h-1zM2 39h1v1h-1zM2 40h1v1h-1zM2 41h2v1h-2zM2 42h2v1h-2zM14 42h1v1h-1zM46 42h1v1h-1zM2 43h1v1h-1zM4 43h1v1h-1zM47 43h1v1h-1zM2 44h1v1h-1zM4 44h1v1h-1zM48 44h1v1h-1zM2 45h1v1h-1zM15 45h1v1h-1zM2 46h1v1h-1zM5 46h1v1h-1zM1 47h2v1h-2zM50 47h1v1h-1zM1 48h2v1h-2zM6 48h1v1h-1zM51 48h1v1h-1zM1 49h2v1h-2zM41 49h1v1h-1zM1 50h2v1h-2zM16 50h1v1h-1zM52 50h1v1h-1zM1 51h2v1h-2zM7 51h1v1h-1zM52 51h1v1h-1zM1 52h1v1h-1zM53 52h1v1h-1zM0 53h2v1h-2zM8 53h1v1h-1zM53 53h1v1h-1zM0 54h2v1h-2zM17 54h1v1h-1zM44 54h1v1h-1zM54 54h1v1h-1zM0 55h2v1h-2zM54 55h1v1h-1zM0 56h1v1h-1zM9 56h1v1h-1zM55 56h1v1h-1zM0 57h1v1h-1zM55 57h1v1h-1zM10 59h1v1h-1zM18 59h1v1h-1zM47 59h1v1h-1zM56 59h1v1h-1z"/><path fill="#59106e" d="M35 0h1v1h-1zM41 1h1v1h-1zM37 3h1v1h-1zM3 4h1v1h-1zM25 7h1v1h-1zM4 8h1v1h-1zM26 9h1v1h-1zM5 12h1v1h-1zM6 15h1v1h-1zM51 16h1v1h-1zM7 19h1v1h-1zM8 23h1v1h-1zM28 24h1v1h-1zM57 24h1v1h-1zM53 26h1v1h-1zM9 27h1v1h-1zM36 28h1v1h-1zM10 30h1v1h-1zM37 30h1v1h-1zM11 33h1v1h-1zM39 33h1v1h-1zM0 34h1v1h-1zM0 35h2v1h-2zM0 36h2v1h-2zM12 36h1v1h-1zM41 36h1v1h-1zM0 37h3v1h-3zM42 37h1v1h-1zM0 38h3v1h-3zM0 39h2v1h-2zM13 39h1v1h-1zM1 40h1v1h-1zM3 40h1v1h-1zM44 40h1v1h-1zM1 41h1v1h-1zM45 41h1v1h-1zM1 42h1v1h-1zM4 42h1v1h-1zM1 43h1v1h-1zM1 44h1v1h-1zM0 45h2v1h-2zM5 45h1v1h-1zM48 45h1v1h-1zM0 46h2v1h-2zM15 46h1v1h-1zM49 46h1v1h-1zM0 47h1v1h-1zM0 48h1v1h-1zM50 48h1v1h-1zM0 49h1v1h-1zM51 49h1v1h-1zM0 50h1v1h-1zM7 50h1v1h-1zM51 50h1v1h-1zM0 51h1v1h-1zM16 51h1v1h-1zM0 52h1v1h-1zM52 52h1v1h-1zM53 54h1v1h-1zM17 55h1v1h-1zM54 56h1v1h-1zM55 58h1v1h-1z"/><path fill="#5f136e" d="M16 0h1v1h-1zM17 2h1v1h-1zM3 5h1v1h-1zM44 6h1v1h-1zM4 9h1v1h-1zM46 9h1v1h-1zM27 11h1v1h-1zM48 12h1v1h-1zM28 13h1v1h-1zM44 13h1v1h-1zM29 15h1v1h-1zM6 16h1v1h-1zM53 19h1v1h-1zM7 20h1v1h-1zM33 23h1v1h-1zM51 23h1v1h-1zM56 23h1v1h-1zM8 24h1v1h-1zM34 25h1v1h-1zM9 28h1v1h-1zM0 30h1v1h-1zM0 31h1v1h-1zM10 31h1v1h-1zM0 32h1v1h-1zM38 32h1v1h-1zM0 33h2v1h-2zM58 33h1v1h-1zM1 34h1v1h-1zM11 34h1v1h-1zM40 35h1v1h-1zM2 36h1v1h-1zM12 37h1v1h-1zM3 39h1v1h-1zM43 39h1v1h-1zM0 40h1v1h-1zM13 40h1v1h-1zM0 41h1v1h-1zM4 41h1v1h-1zM0 42h1v1h-1zM0 43h1v1h-1zM14 43h1v1h-1zM46 43h1v1h-1zM0 44h1v1h-1zM5 44h1v1h-1zM47 44h1v1h-1zM6 47h1v1h-1zM15 47h1v1h-1zM40 47h1v1h-1zM49 47h1v1h-1zM7 49h1v1h-1zM50 49h1v1h-1zM51 51h1v1h-1zM8 52h1v1h-1zM16 52h1v1h-1zM43 52h1v1h-1zM52 53h1v1h-1zM9 55h1v1h-1zM53 55h1v1h-1zM17 56h1v1h-1zM54 57h1v1h-1zM10 58h1v1h-1zM55 59h1v1h-1z"/><path fill="#65156e" d="M2 0h1v1h-1zM21 0h1v1h-1zM40 0h1v1h-1zM22 2h1v1h-1zM42 3h1v1h-1zM18 4h1v1h-1zM23 4h1v1h-1zM19 6h1v1h-1zM42 10h1v1h-1zM5 13h1v1h-1zM50 15h1v1h-1zM30 17h1v1h-1zM31 19h1v1h-1zM7 21h1v1h-1zM32 21h1v1h-1zM27 22h1v1h-1zM35 27h1v1h-1zM59 27h1v1h-1zM0 28h1v1h-1zM0 29h1v1h-1zM36 29h1v1h-1zM56 30h1v1h-1zM1 32h1v1h-1zM2 35h1v1h-1zM3 38h1v1h-1zM42 38h1v1h-1zM45 42h1v1h-1zM6 46h1v1h-1zM48 46h1v1h-1zM15 48h1v1h-1zM51 52h1v1h-1zM9 54h1v1h-1zM52 54h1v1h-1zM17 57h1v1h-1zM46 57h1v1h-1z"/><path fill="#6c186e" d="M2 1h1v1h-1zM58 5h1v1h-1zM3 6h1v1h-1zM24 6h1v1h-1zM20 8h1v1h-1zM25 8h1v1h-1zM4 10h1v1h-1zM26 10h1v1h-1zM6 17h1v1h-1zM52 18h1v1h-1zM26 20h1v1h-1zM49 20h1v1h-1zM55 22h1v1h-1zM8 25h1v1h-1zM0 27h1v1h-1zM9 29h1v1h-1zM1 31h1v1h-1zM37 31h1v1h-1zM10 32h1v1h-1zM33 33h1v1h-1zM2 34h1v1h-1zM39 34h1v1h-1zM11 35h1v1h-1zM3 37h1v1h-1zM41 37h1v1h-1zM12 38h1v1h-1zM4 40h1v1h-1zM13 41h1v1h-1zM44 41h1v1h-1zM5 43h1v1h-1zM14 44h1v1h-1zM39 45h1v1h-1zM47 45h1v1h-1zM7 48h1v1h-1zM49 48h1v1h-1zM50 50h1v1h-1zM8 51h1v1h-1zM16 53h1v1h-1zM53 56h1v1h-1zM10 57h1v1h-1zM54 58h1v1h-1z"/><path fill="#721a6e" d="M59 1h1v1h-1zM2 2h1v1h-1zM56 2h1v1h-1zM43 5h1v1h-1zM40 7h1v1h-1zM45 8h1v1h-1zM21 10h1v1h-1zM47 11h1v1h-1zM22 12h1v1h-1zM27 12h1v1h-1zM5 14h1v1h-1zM23 14h1v1h-1zM28 14h1v1h-1zM24 16h1v1h-1zM47 17h1v1h-1zM6 18h1v1h-1zM25 18h1v1h-1zM7 22h1v1h-1zM33 24h1v1h-1zM0 26h1v1h-1zM8 26h1v1h-1zM58 26h1v1h-1zM54 27h1v1h-1zM1 30h1v1h-1zM32 31h1v1h-1zM2 33h1v1h-1zM38 33h1v1h-1zM34 35h1v1h-1zM3 36h1v1h-1zM35 37h1v1h-1zM4 39h1v1h-1zM36 39h1v1h-1zM43 40h1v1h-1zM37 41h1v1h-1zM5 42h1v1h-1zM38 43h1v1h-1zM46 44h1v1h-1zM6 45h1v1h-1zM48 47h1v1h-1zM15 49h1v1h-1zM49 49h1v1h-1zM50 51h1v1h-1zM9 53h1v1h-1zM51 53h1v1h-1zM45 55h1v1h-1zM52 55h1v1h-1zM10 56h1v1h-1zM53 57h1v1h-1zM17 58h1v1h-1z"/><path fill="#781c6d" d="M36 1h1v1h-1zM41 2h1v1h-1zM38 4h1v1h-1zM3 7h1v1h-1zM4 11h1v1h-1zM49 14h1v1h-1zM29 16h1v1h-1zM30 18h1v1h-1zM31 20h1v1h-1zM54 21h1v1h-1zM32 22h1v1h-1zM34 26h1v1h-1zM35 28h1v1h-1zM1 29h1v1h-1zM31 29h1v1h-1zM36 30h1v1h-1zM59 34h1v1h-1zM40 36h1v1h-1zM12 39h1v1h-1zM42 39h1v1h-1zM13 42h1v1h-1zM45 43h1v1h-1zM14 45h1v1h-1zM47 46h1v1h-1zM8 50h1v1h-1zM15 50h1v1h-1zM42 50h1v1h-1zM16 54h1v1h-1zM11 59h1v1h-1zM17 59h1v1h-1zM54 59h1v1h-1z"/><path fill="#7f1e6c" d="M2 3h1v1h-1zM45 14h1v1h-1zM5 15h1v1h-1zM51 17h1v1h-1zM6 19h1v1h-1zM7 23h1v1h-1zM52 24h1v1h-1zM0 25h1v1h-1zM57 25h1v1h-1zM8 27h1v1h-1zM1 28h1v1h-1zM9 30h1v1h-1zM2 32h1v1h-1zM37 32h1v1h-1zM10 33h1v1h-1zM3 35h1v1h-1zM39 35h1v1h-1zM11 36h1v1h-1zM4 38h1v1h-1zM5 41h1v1h-1zM44 42h1v1h-1zM46 45h1v1h-1zM14 46h1v1h-1zM7 47h1v1h-1zM48 48h1v1h-1zM49 50h1v1h-1zM50 52h1v1h-1zM51 54h1v1h-1zM16 55h1v1h-1zM52 56h1v1h-1zM53 58h1v1h-1z"/><path fill="#85216b" d="M21 1h1v1h-1zM22 3h1v1h-1zM2 4h1v1h-1zM23 5h1v1h-1zM24 7h1v1h-1zM3 8h1v1h-1zM25 9h1v1h-1zM4 12h1v1h-1zM0 24h1v1h-1zM30 27h1v1h-1zM2 31h1v1h-1zM57 31h1v1h-1zM41 38h1v1h-1zM13 43h1v1h-1zM6 44h1v1h-1zM15 51h1v1h-1zM9 52h1v1h-1zM44 53h1v1h-1zM10 55h1v1h-1zM11 58h1v1h-1zM47 58h1v1h-1z"/><path fill="#8c2369" d="M58 0h1v1h-1zM42 4h1v1h-1zM44 7h1v1h-1zM46 10h1v1h-1zM26 11h1v1h-1zM43 11h1v1h-1zM27 13h1v1h-1zM48 13h1v1h-1zM5 16h1v1h-1zM6 20h1v1h-1zM53 20h1v1h-1zM50 21h1v1h-1zM7 24h1v1h-1zM56 24h1v1h-1zM29 25h1v1h-1zM33 25h1v1h-1zM1 27h1v1h-1zM8 28h1v1h-1zM59 28h1v1h-1zM9 31h1v1h-1zM3 34h1v1h-1zM10 34h1v1h-1zM11 37h1v1h-1zM12 40h1v1h-1zM43 41h1v1h-1zM45 44h1v1h-1zM14 47h1v1h-1zM47 47h1v1h-1zM41 48h1v1h-1zM8 49h1v1h-1zM48 49h1v1h-1zM49 51h1v1h-1zM50 53h1v1h-1zM51 55h1v1h-1zM16 56h1v1h-1z"/><path fill="#922568" d="M1 0h1v1h-1zM40 1h1v1h-1zM2 5h1v1h-1zM41 8h1v1h-1zM3 9h1v1h-1zM28 15h1v1h-1zM29 17h1v1h-1zM30 19h1v1h-1zM31 21h1v1h-1zM0 23h1v1h-1zM32 23h1v1h-1zM34 27h1v1h-1zM35 29h1v1h-1zM2 30h1v1h-1zM36 31h1v1h-1zM38 34h1v1h-1zM4 37h1v1h-1zM40 37h1v1h-1zM5 40h1v1h-1zM42 40h1v1h-1zM6 43h1v1h-1zM7 46h1v1h-1zM9 51h1v1h-1zM15 52h1v1h-1zM10 54h1v1h-1zM11 57h1v1h-1zM52 57h1v1h-1zM53 59h1v1h-1z"/><path fill="#982766" d="M1 1h1v1h-1zM57 3h1v1h-1zM59 6h1v1h-1zM4 13h1v1h-1zM50 16h1v1h-1zM48 18h1v1h-1zM6 21h1v1h-1zM28 23h1v1h-1zM7 25h1v1h-1zM1 26h1v1h-1zM55 28h1v1h-1zM3 33h1v1h-1zM44 43h1v1h-1zM13 44h1v1h-1zM46 46h1v1h-1zM14 48h1v1h-1zM49 52h1v1h-1zM46 56h1v1h-1zM16 57h1v1h-1z"/><path fill="#9f2a63" d="M39 5h1v1h-1zM2 6h1v1h-1zM3 10h1v1h-1zM5 17h1v1h-1zM0 22h1v1h-1zM55 23h1v1h-1zM58 27h1v1h-1zM2 29h1v1h-1zM8 29h1v1h-1zM9 32h1v1h-1zM37 33h1v1h-1zM10 35h1v1h-1zM4 36h1v1h-1zM11 38h1v1h-1zM12 41h1v1h-1zM40 46h1v1h-1zM8 48h1v1h-1zM47 48h1v1h-1zM48 50h1v1h-1zM43 51h1v1h-1zM15 53h1v1h-1zM50 54h1v1h-1zM51 56h1v1h-1z"/><path fill="#a52c60" d="M55 0h1v1h-1zM1 2h1v1h-1zM37 2h1v1h-1zM41 3h1v1h-1zM43 6h1v1h-1zM45 9h1v1h-1zM4 14h1v1h-1zM46 15h1v1h-1zM52 19h1v1h-1zM27 21h1v1h-1zM6 22h1v1h-1zM53 25h1v1h-1zM7 26h1v1h-1zM33 32h1v1h-1zM58 32h1v1h-1zM39 36h1v1h-1zM5 39h1v1h-1zM41 39h1v1h-1zM6 42h1v1h-1zM7 45h1v1h-1zM14 49h1v1h-1zM10 53h1v1h-1zM11 56h1v1h-1zM16 58h1v1h-1zM52 58h1v1h-1zM12 59h1v1h-1z"/><path fill="#ab2f5e" d="M0 0h1v1h-1zM20 0h1v1h-1zM39 0h1v1h-1zM17 1h1v1h-1zM21 2h1v1h-1zM59 2h1v1h-1zM1 3h1v1h-1zM22 4h1v1h-1zM23 6h1v1h-1zM2 7h1v1h-1zM24 8h1v1h-1zM25 10h1v1h-1zM47 12h1v1h-1zM5 18h1v1h-1zM1 25h1v1h-1zM2 28h1v1h-1zM32 30h1v1h-1zM3 32h1v1h-1zM34 34h1v1h-1zM35 36h1v1h-1zM43 42h1v1h-1zM39 44h1v1h-1zM13 45h1v1h-1zM45 45h1v1h-1zM9 50h1v1h-1zM15 54h1v1h-1zM16 59h1v1h-1zM48 59h1v1h-1z"/><path fill="#b1325a" d="M0 1h1v1h-1zM18 3h1v1h-1zM19 5h1v1h-1zM3 11h1v1h-1zM26 12h1v1h-1zM44 12h1v1h-1zM27 14h1v1h-1zM49 15h1v1h-1zM28 16h1v1h-1zM26 19h1v1h-1zM30 20h1v1h-1zM0 21h1v1h-1zM31 22h1v1h-1zM51 22h1v1h-1zM54 22h1v1h-1zM32 24h1v1h-1zM33 26h1v1h-1zM57 26h1v1h-1zM34 28h1v1h-1zM8 30h1v1h-1zM35 30h1v1h-1zM9 33h1v1h-1zM4 35h1v1h-1zM10 36h1v1h-1zM36 38h1v1h-1zM11 39h1v1h-1zM37 40h1v1h-1zM12 42h1v1h-1zM38 42h1v1h-1zM8 47h1v1h-1zM14 50h1v1h-1zM48 51h1v1h-1zM49 53h1v1h-1zM45 54h1v1h-1zM50 55h1v1h-1z"/><path fill="#b73557" d="M0 2h1v1h-1zM1 4h1v1h-1zM20 7h1v1h-1zM21 9h1v1h-1zM22 11h1v1h-1zM23 13h1v1h-1zM4 15h1v1h-1zM24 15h1v1h-1zM25 17h1v1h-1zM29 18h1v1h-1zM5 19h1v1h-1zM6 23h1v1h-1zM1 24h1v1h-1zM7 27h1v1h-1zM31 28h1v1h-1zM3 31h1v1h-1zM36 32h1v1h-1zM38 35h1v1h-1zM5 38h1v1h-1zM40 38h1v1h-1zM6 41h1v1h-1zM42 41h1v1h-1zM7 44h1v1h-1zM46 47h1v1h-1zM47 49h1v1h-1zM10 52h1v1h-1zM11 55h1v1h-1zM15 55h1v1h-1zM51 57h1v1h-1zM12 58h1v1h-1zM52 59h1v1h-1z"/><path fill="#bf3952" d="M2 8h1v1h-1zM42 9h1v1h-1zM51 18h1v1h-1zM0 20h1v1h-1zM2 27h1v1h-1zM56 29h1v1h-1zM4 34h1v1h-1zM44 44h1v1h-1zM13 46h1v1h-1zM9 49h1v1h-1zM42 49h1v1h-1zM14 51h1v1h-1zM47 57h1v1h-1z"/><path fill="#c43c4e" d="M0 3h1v1h-1zM58 4h1v1h-1zM1 5h1v1h-1zM42 5h1v1h-1zM40 6h1v1h-1zM44 8h1v1h-1zM3 12h1v1h-1zM49 19h1v1h-1zM6 24h1v1h-1zM30 26h1v1h-1zM59 29h1v1h-1zM12 43h1v1h-1zM11 54h1v1h-1zM15 56h1v1h-1zM12 57h1v1h-1z"/><path fill="#ca404a" d="M56 1h1v1h-1zM58 1h1v1h-1zM40 2h1v1h-1zM0 4h1v1h-1zM46 11h1v1h-1zM0 19h1v1h-1zM5 20h1v1h-1zM1 23h1v1h-1zM56 25h1v1h-1zM7 28h1v1h-1zM3 30h1v1h-1zM8 31h1v1h-1zM59 33h1v1h-1zM9 34h1v1h-1zM5 37h1v1h-1zM10 37h1v1h-1zM39 37h1v1h-1zM6 40h1v1h-1zM11 40h1v1h-1zM8 46h1v1h-1zM45 46h1v1h-1zM13 47h1v1h-1zM10 51h1v1h-1zM14 52h1v1h-1zM44 52h1v1h-1zM48 52h1v1h-1zM49 54h1v1h-1zM50 56h1v1h-1zM51 58h1v1h-1z"/><path fill="#cf4446" d="M36 0h1v1h-1zM38 3h1v1h-1zM0 5h1v1h-1zM1 6h1v1h-1zM2 9h1v1h-1zM48 14h1v1h-1zM4 16h1v1h-1zM47 16h1v1h-1zM53 21h1v1h-1zM2 26h1v1h-1zM54 26h1v1h-1zM4 33h1v1h-1zM37 34h1v1h-1zM41 40h1v1h-1zM7 43h1v1h-1zM43 43h1v1h-1zM46 48h1v1h-1zM47 50h1v1h-1zM15 57h1v1h-1zM13 59h1v1h-1z"/><path fill="#d44842" d="M3 13h1v1h-1zM29 24h1v1h-1zM6 25h1v1h-1zM32 25h1v1h-1zM33 27h1v1h-1zM3 29h1v1h-1zM34 29h1v1h-1zM35 31h1v1h-1zM9 48h1v1h-1zM11 53h1v1h-1zM46 55h1v1h-1zM12 56h1v1h-1z"/><path fill="#d94d3d" d="M21 3h1v1h-1zM22 5h1v1h-1zM0 6h1v1h-1zM1 7h1v1h-1zM23 7h1v1h-1zM24 9h1v1h-1zM2 10h1v1h-1zM25 11h1v1h-1zM26 13h1v1h-1zM45 13h1v1h-1zM27 15h1v1h-1zM50 17h1v1h-1zM0 18h1v1h-1zM5 21h1v1h-1zM30 21h1v1h-1zM1 22h1v1h-1zM31 23h1v1h-1zM52 23h1v1h-1zM58 28h1v1h-1zM7 29h1v1h-1zM33 31h1v1h-1zM34 33h1v1h-1zM5 36h1v1h-1zM12 44h1v1h-1zM41 47h1v1h-1zM13 48h1v1h-1zM14 53h1v1h-1zM48 53h1v1h-1zM15 58h1v1h-1zM48 58h1v1h-1z"/><path fill="#de5238" d="M20 1h1v1h-1zM0 7h1v1h-1zM43 10h1v1h-1zM4 17h1v1h-1zM28 17h1v1h-1zM29 19h1v1h-1zM28 22h1v1h-1zM55 24h1v1h-1zM2 25h1v1h-1zM3 28h1v1h-1zM57 30h1v1h-1zM4 32h1v1h-1zM8 32h1v1h-1zM36 33h1v1h-1zM9 35h1v1h-1zM35 35h1v1h-1zM38 36h1v1h-1zM10 38h1v1h-1zM6 39h1v1h-1zM40 39h1v1h-1zM11 41h1v1h-1zM7 42h1v1h-1zM44 45h1v1h-1zM10 50h1v1h-1zM12 55h1v1h-1zM49 55h1v1h-1zM50 57h1v1h-1zM13 58h1v1h-1zM15 59h1v1h-1zM51 59h1v1h-1z"/><path fill="#e25734" d="M57 0h1v1h-1zM39 1h1v1h-1zM41 4h1v1h-1zM59 5h1v1h-1zM43 7h1v1h-1zM0 8h2v1h-2zM45 10h1v1h-1zM0 17h1v1h-1zM50 20h1v1h-1zM52 20h1v1h-1zM1 21h1v1h-1zM5 22h1v1h-1zM6 26h1v1h-1zM32 29h1v1h-1zM36 37h1v1h-1zM42 42h1v1h-1zM8 45h1v1h-1zM13 49h1v1h-1zM47 51h1v1h-1zM11 52h1v1h-1zM45 53h1v1h-1zM14 54h1v1h-1z"/><path fill="#e65d2f" d="M57 2h1v1h-1zM59 3h1v1h-1zM41 7h1v1h-1zM47 13h1v1h-1zM3 14h1v1h-1zM4 18h1v1h-1zM27 20h1v1h-1zM4 31h1v1h-1zM5 35h1v1h-1zM37 39h1v1h-1zM40 45h1v1h-1zM45 47h1v1h-1zM46 49h1v1h-1zM43 50h1v1h-1zM14 55h1v1h-1zM13 57h1v1h-1zM14 59h1v1h-1zM49 59h1v1h-1z"/><path fill="#ea632a" d="M39 4h1v1h-1zM0 9h1v1h-1zM2 11h1v1h-1zM0 16h1v1h-1zM48 17h1v1h-1zM2 24h1v1h-1zM3 27h1v1h-1zM31 27h1v1h-1zM55 27h1v1h-1zM57 27h1v1h-1zM7 30h1v1h-1zM35 32h1v1h-1zM6 38h1v1h-1zM38 41h1v1h-1zM39 43h1v1h-1zM12 45h1v1h-1zM9 47h1v1h-1zM13 50h1v1h-1zM12 54h1v1h-1zM13 56h2v1h-2zM47 56h1v1h-1zM14 57h1v1h-1zM14 58h1v1h-1zM50 58h1v1h-1z"/><path fill="#ed6925" d="M37 1h1v1h-1zM1 9h1v1h-1zM0 10h1v1h-1zM0 11h1v1h-1zM46 14h1v1h-1zM0 15h1v1h-1zM49 16h1v1h-1zM26 18h1v1h-1zM1 20h1v1h-1zM5 23h1v1h-1zM54 23h1v1h-1zM32 26h1v1h-1zM6 27h1v1h-1zM33 28h1v1h-1zM34 30h1v1h-1zM34 32h1v1h-1zM8 33h1v1h-1zM5 34h1v1h-1zM37 35h1v1h-1zM9 36h1v1h-1zM39 38h1v1h-1zM10 39h1v1h-1zM7 41h1v1h-1zM11 42h1v1h-1zM8 44h1v1h-1zM10 49h1v1h-1zM11 51h1v1h-1zM13 51h1v1h-1zM48 54h1v1h-1zM49 56h1v1h-1zM50 59h1v1h-1z"/><path fill="#f06f20" d="M17 0h1v1h-1zM18 2h1v1h-1zM19 4h1v1h-1zM20 6h1v1h-1zM0 12h1v1h-1zM0 13h1v1h-1zM0 14h1v1h-1zM24 14h1v1h-1zM3 15h1v1h-1zM25 16h1v1h-1zM4 19h1v1h-1zM31 24h1v1h-1zM53 24h1v1h-1zM30 25h1v1h-1zM4 30h1v1h-1zM58 31h1v1h-1zM41 41h1v1h-1zM43 44h1v1h-1zM13 52h1v1h-1zM47 52h1v1h-1zM12 53h1v1h-1zM13 54h1v1h-1zM13 55h1v1h-1zM48 57h1v1h-1z"/><path fill="#f3761b" d="M56 0h1v1h-1zM58 2h1v1h-1zM58 3h1v1h-1zM21 8h1v1h-1zM1 10h1v1h-1zM22 10h1v1h-1zM44 11h1v1h-1zM2 12h1v1h-1zM23 12h1v1h-1zM1 19h1v1h-1zM51 19h1v1h-1zM30 22h1v1h-1zM2 23h1v1h-1zM3 26h1v1h-1zM6 28h1v1h-1zM33 30h1v1h-1zM34 31h1v1h-1zM6 37h1v1h-1zM12 46h1v1h-1zM12 52h1v1h-1zM13 53h1v1h-1zM46 54h1v1h-1zM49 57h1v1h-1zM49 58h1v1h-1z"/><path fill="#f57d15" d="M38 0h1v1h-1zM57 1h1v1h-1zM40 3h1v1h-1zM42 6h1v1h-1zM44 9h1v1h-1zM46 12h1v1h-1zM29 20h1v1h-1zM51 21h1v1h-1zM5 24h1v1h-1zM32 28h1v1h-1zM4 29h1v1h-1zM33 29h1v1h-1zM59 30h1v1h-1zM7 31h1v1h-1zM5 33h1v1h-1zM35 33h1v1h-1zM35 34h2v1h-2zM7 40h1v1h-1zM9 46h1v1h-1zM44 46h1v1h-1zM10 48h1v1h-1zM11 50h1v1h-1zM46 50h1v1h-1zM44 51h1v1h-1zM47 53h1v1h-1zM48 55h1v1h-1z"/><path fill="#f78410" d="M59 4h1v1h-1zM22 6h1v1h-1zM23 8h1v1h-1zM42 8h1v1h-1zM24 10h1v1h-1zM1 11h1v1h-1zM25 12h1v1h-1zM2 13h1v1h-1zM26 14h1v1h-1zM48 15h1v1h-1zM27 16h1v1h-1zM28 18h1v1h-1zM49 18h1v1h-1zM4 20h1v1h-1zM2 22h1v1h-1zM29 23h1v1h-1zM3 25h1v1h-1zM56 26h1v1h-1zM32 27h1v1h-1zM4 28h1v1h-1zM56 28h1v1h-1zM8 34h1v1h-1zM9 37h1v1h-1zM38 37h1v1h-1zM10 40h1v1h-1zM8 43h1v1h-1zM11 43h1v1h-1zM12 47h1v1h-1zM42 48h1v1h-1zM12 51h1v1h-1zM47 55h1v1h-1zM48 56h1v1h-1z"/><path fill="#f98b0b" d="M21 4h1v1h-1zM40 5h1v1h-1zM1 12h1v1h-1zM47 15h1v1h-1zM3 16h1v1h-1zM1 18h1v1h-1zM53 22h1v1h-1zM5 25h1v1h-1zM31 25h1v1h-1zM31 26h1v1h-1zM5 32h1v1h-1zM6 36h1v1h-1zM36 36h1v1h-1zM40 40h1v1h-1zM45 48h1v1h-1zM12 50h1v1h-1zM47 54h1v1h-1z"/><path fill="#fa9407" d="M20 2h1v1h-1zM38 2h1v1h-1zM45 12h1v1h-1zM1 13h1v1h-1zM50 18h1v1h-1zM2 21h1v1h-1zM4 21h1v1h-1zM28 21h1v1h-1zM54 25h1v1h-1zM4 27h1v1h-1zM6 29h1v1h-1zM5 31h1v1h-1zM7 32h1v1h-1zM59 32h1v1h-1zM36 35h1v1h-1zM37 38h1v1h-1zM7 39h1v1h-1zM42 43h1v1h-1zM12 48h1v1h-1zM11 49h2v1h-2zM46 51h1v1h-1zM45 52h1v1h-1zM46 53h1v1h-1z"/><path fill="#fb9b06" d="M19 0h1v1h-1zM41 5h1v1h-1zM43 8h1v1h-1zM43 9h1v1h-1zM45 11h1v1h-1zM1 14h2v1h-2zM47 14h1v1h-1zM1 17h1v1h-1zM50 19h1v1h-1zM52 22h1v1h-1zM30 23h1v1h-1zM3 24h1v1h-1zM30 24h1v1h-1zM55 25h1v1h-1zM5 26h1v1h-1zM5 28h1v1h-1zM58 29h1v1h-1zM5 30h1v1h-1zM6 35h1v1h-1zM8 35h1v1h-1zM37 36h1v1h-1zM8 42h1v1h-1zM9 45h1v1h-1zM10 47h1v1h-1z"/><path fill="#fca309" d="M39 2h1v1h-1zM41 6h1v1h-1zM44 10h1v1h-1zM46 13h1v1h-1zM1 15h1v1h-1zM1 16h1v1h-1zM48 16h1v1h-1zM3 17h1v1h-1zM49 17h1v1h-1zM27 19h1v1h-1zM2 20h1v1h-1zM52 21h1v1h-1zM4 22h1v1h-1zM3 23h1v1h-1zM4 26h1v1h-1zM5 27h1v1h-1zM5 29h1v1h-1zM57 29h1v1h-1zM6 30h1v1h-1zM6 34h1v1h-1zM7 38h1v1h-1zM9 38h1v1h-1zM39 39h1v1h-1zM38 40h1v1h-1zM10 41h1v1h-1zM11 44h1v1h-1zM41 46h1v1h-1zM11 48h1v1h-1zM46 52h1v1h-1z"/><path fill="#fcaa0f" d="M37 0h1v1h-1zM39 3h1v1h-1zM42 7h1v1h-1zM2 15h1v1h-1zM3 18h1v1h-1zM51 20h1v1h-1zM29 21h1v1h-1zM29 22h1v1h-1zM4 23h1v1h-1zM53 23h1v1h-1zM4 24h1v1h-1zM54 24h1v1h-1zM4 25h1v1h-1zM55 26h1v1h-1zM57 28h1v1h-1zM6 31h1v1h-1zM6 33h2v1h-2zM37 37h1v1h-1zM8 41h1v1h-1zM39 42h1v1h-1zM43 45h1v1h-1zM45 49h1v1h-1z"/><path fill="#fcb216" d="M38 1h1v1h-1zM40 4h1v1h-1zM25 15h1v1h-1zM26 17h1v1h-1zM2 19h2v1h-2zM28 19h1v1h-1zM3 22h1v1h-1zM56 27h1v1h-1zM58 30h1v1h-1zM6 32h1v1h-1zM8 36h1v1h-1zM7 37h1v1h-1zM38 38h1v1h-1zM41 42h1v1h-1zM9 44h1v1h-1zM40 44h1v1h-1zM10 46h1v1h-1zM11 47h1v1h-1zM43 49h1v1h-1z"/><path fill="#fbba1f" d="M23 11h1v1h-1zM24 13h2v1h-2zM26 15h1v1h-1zM2 16h1v1h-1zM27 17h1v1h-1zM2 18h1v1h-1zM3 20h1v1h-1zM3 21h1v1h-1zM59 31h1v1h-1zM7 34h1v1h-1zM7 35h1v1h-1zM7 36h1v1h-1zM9 39h1v1h-1zM8 40h1v1h-1zM10 42h1v1h-1zM11 45h1v1h-1zM11 46h1v1h-1zM44 47h1v1h-1zM45 51h1v1h-1z"/><path fill="#fac228" d="M19 3h1v1h-1zM20 5h1v1h-1zM21 7h2v1h-2zM22 9h2v1h-2zM24 11h1v1h-1zM2 17h1v1h-1zM28 20h1v1h-1zM8 37h1v1h-1zM8 39h1v1h-1zM38 39h1v1h-1zM9 43h1v1h-1zM44 50h2v1h-2z"/><path fill="#f9c932" d="M18 1h1v1h-1zM21 5h1v1h-1zM27 18h1v1h-1zM8 38h1v1h-1zM9 40h1v1h-1zM9 41h1v1h-1zM40 41h1v1h-1zM9 42h1v1h-1zM10 43h1v1h-1zM10 45h1v1h-1z"/><path fill="#f7d13d" d="M20 3h1v1h-1zM25 14h1v1h-1zM26 16h1v1h-1zM39 40h1v1h-1zM10 44h1v1h-1zM42 44h1v1h-1z"/><path fill="#f5d949" d="M19 1h1v1h-1zM22 8h1v1h-1zM23 10h1v1h-1zM24 12h1v1h-1zM39 41h1v1h-1z"/><path fill="#f4e156" d="M21 6h1v1h-1zM43 46h1v1h-1zM42 47h1v1h-1zM44 48h1v1h-1zM44 49h1v1h-1z"/><path fill="#f2e865" d="M20 4h1v1h-1zM41 43h1v1h-1zM41 45h1v1h-1z"/><path fill="#f1ef75" d="M19 2h1v1h-1zM40 42h1v1h-1zM40 43h1v1h-1z"/><path fill="#f3f586" d="M18 0h1v1h-1zM42 45h1v1h-1zM43 48h1v1h-1z"/><path fill="#f6fa96" d="M43 47h1v1h-1z"/><path fill="#fcffa4" d="M41 44h1v1h-1zM42 46h1v1h-1z"/></g>
<linearGradient id="cbF" x1="0" y1="0" x2="0" y2="1"><stop offset="0.000" stop-color="#fcffa4"/><stop offset="0.021" stop-color="#f5f992"/><stop offset="0.043" stop-color="#f2f27d"/><stop offset="0.064" stop-color="#f2e865"/><stop offset="0.085" stop-color="#f4df53"/><stop offset="0.106" stop-color="#f7d340"/><stop offset="0.128" stop-color="#f9c932"/><stop offset="0.149" stop-color="#fbbe23"/><stop offset="0.170" stop-color="#fcb418"/><stop offset="0.191" stop-color="#fca80d"/><stop offset="0.213" stop-color="#fc9f07"/><stop offset="0.234" stop-color="#fb9606"/><stop offset="0.255" stop-color="#f98b0b"/><stop offset="0.277" stop-color="#f78212"/><stop offset="0.298" stop-color="#f37819"/><stop offset="0.319" stop-color="#f06f20"/><stop offset="0.340" stop-color="#eb6628"/><stop offset="0.362" stop-color="#e75e2e"/><stop offset="0.383" stop-color="#e15635"/><stop offset="0.404" stop-color="#db503b"/><stop offset="0.426" stop-color="#d54a41"/><stop offset="0.447" stop-color="#ce4347"/><stop offset="0.468" stop-color="#c73e4c"/><stop offset="0.489" stop-color="#bf3952"/><stop offset="0.511" stop-color="#b73557"/><stop offset="0.532" stop-color="#ae305c"/><stop offset="0.553" stop-color="#a62d60"/><stop offset="0.574" stop-color="#9d2964"/><stop offset="0.596" stop-color="#952667"/><stop offset="0.617" stop-color="#8d2369"/><stop offset="0.638" stop-color="#84206b"/><stop offset="0.660" stop-color="#7c1d6d"/><stop offset="0.681" stop-color="#721a6e"/><stop offset="0.702" stop-color="#6a176e"/><stop offset="0.723" stop-color="#61136e"/><stop offset="0.745" stop-color="#59106e"/><stop offset="0.766" stop-color="#4f0d6c"/><stop offset="0.787" stop-color="#470b6a"/><stop offset="0.809" stop-color="#3e0966"/><stop offset="0.830" stop-color="#340a5f"/><stop offset="0.851" stop-color="#2b0b57"/><stop offset="0.872" stop-color="#210c4a"/><stop offset="0.894" stop-color="#190c3e"/><stop offset="0.915" stop-color="#110a30"/><stop offset="0.936" stop-color="#0b0724"/><stop offset="0.957" stop-color="#050417"/><stop offset="0.979" stop-color="#02020c"/><stop offset="1.000" stop-color="#000004"/></linearGradient><rect x="1318.6" y="1084.9" width="23.100000000000136" height="463.4000000000001" fill="url(#cbF)"/>
<clipPath id="cl0"><rect x="169.6" y="46.3" width="463.29999999999995" height="463.4"/></clipPath>
<path d="M169.6,177.5 L177.3,232.0 L185.0,256.7 L192.8,259.0 L200.5,237.5 L208.2,194.4 L215.9,146.4 L223.7,102.9 L231.4,77.1 L239.1,76.3 L246.8,109.2 L254.5,149.6 L262.3,210.3 L270.0,280.0 L277.7,343.9 L285.4,389.5 L293.1,416.0 L300.9,426.2 L308.6,420.1 L316.3,395.0 L324.0,369.5 L331.8,322.4 L339.5,264.3 L347.2,204.1 L354.9,150.3 L362.6,111.0 L370.4,77.9 L378.1,68.4 L385.8,75.5 L393.5,101.7 L401.2,147.5 L409.0,204.4 L416.7,270.6 L424.4,332.0 L432.1,386.0 L439.9,430.2 L447.6,458.9 L455.3,481.0 L463.0,488.4 L470.7,485.0 L478.5,473.0 L486.2,454.2 L493.9,417.1 L501.6,381.1 L509.4,343.5 L517.1,303.7 L524.8,265.0 L532.5,230.3 L540.2,200.7 L548.0,175.6 L555.7,163.8 L563.4,163.2 L571.1,173.3 L578.8,194.0 L586.6,225.2 L594.3,268.6 L602.0,312.6 L609.7,356.9 L617.5,401.4 L625.2,445.4 L632.9,488.5" fill="none" stroke="#1f77b4" stroke-width="5.3" stroke-linejoin="round" clip-path="url(#cl0)"/>
<rect x="169.60" y="46.30" width="463.30" height="463.40" fill="none" stroke="#000" stroke-width="2.8"/>
<line x1="157.30" y1="114.80" x2="169.60" y2="114.80" stroke="#000" stroke-width="2.8"/>
<text x="153.0" y="126.9" font-size="33.7" text-anchor="end" >0.0105</text>
<line x1="157.30" y1="199.60" x2="169.60" y2="199.60" stroke="#000" stroke-width="2.8"/>
<text x="153.0" y="211.7" font-size="33.7" text-anchor="end" >0.0100</text>
<line x1="157.30" y1="284.50" x2="169.60" y2="284.50" stroke="#000" stroke-width="2.8"/>
<text x="153.0" y="296.6" font-size="33.7" text-anchor="end" >0.0095</text>
<line x1="157.30" y1="369.40" x2="169.60" y2="369.40" stroke="#000" stroke-width="2.8"/>
<text x="153.0" y="381.5" font-size="33.7" text-anchor="end" >0.0090</text>
<line x1="157.30" y1="454.20" x2="169.60" y2="454.20" stroke="#000" stroke-width="2.8"/>
<text x="153.0" y="466.3" font-size="33.7" text-anchor="end" >0.0085</text>
<line x1="208.21" y1="509.70" x2="208.21" y2="522.00" stroke="#000" stroke-width="2.8"/>
<line x1="362.64" y1="509.70" x2="362.64" y2="522.00" stroke="#000" stroke-width="2.8"/>
<line x1="517.08" y1="509.70" x2="517.08" y2="522.00" stroke="#000" stroke-width="2.8"/>
<clipPath id="cl1"><rect x="169.6" y="565.6" width="463.29999999999995" height="463.4"/></clipPath>
<path d="M169.6,1007.7 L177.3,1000.8 L185.0,993.0 L192.8,984.9 L200.5,976.9 L208.2,969.0 L215.9,961.3 L223.7,954.0 L231.4,947.1 L239.1,940.6 L246.8,934.3 L254.5,928.0 L262.3,921.7 L270.0,915.2 L277.7,908.4 L285.4,901.2 L293.1,893.4 L300.9,885.2 L308.6,876.5 L316.3,867.5 L324.0,858.3 L331.8,849.0 L339.5,839.8 L347.2,831.3 L354.9,823.5 L362.6,816.2 L370.4,809.2 L378.1,802.3 L385.8,795.1 L393.5,787.6 L401.2,779.7 L409.0,771.7 L416.7,764.1 L424.4,757.2 L432.1,751.2 L439.9,745.9 L447.6,740.7 L455.3,735.1 L463.0,728.7 L470.7,721.1 L478.5,712.9 L486.2,704.2 L493.9,695.4 L501.6,686.8 L509.4,678.7 L517.1,671.6 L524.8,665.2 L532.5,659.5 L540.2,654.4 L548.0,649.5 L555.7,644.7 L563.4,639.9 L571.1,634.9 L578.8,629.4 L586.6,623.4 L594.3,617.1 L602.0,610.5 L609.7,603.9 L617.5,597.7 L625.2,591.9 L632.9,587.1" fill="none" stroke="#1f77b4" stroke-width="5.3" stroke-linejoin="round" clip-path="url(#cl1)"/>
<rect x="169.60" y="565.60" width="463.30" height="463.40" fill="none" stroke="#000" stroke-width="2.8"/>
<line x1="157.30" y1="611.10" x2="169.60" y2="611.10" stroke="#000" stroke-width="2.8"/>
<text x="153.0" y="623.2" font-size="33.7" text-anchor="end" >0.875</text>
<line x1="157.30" y1="706.40" x2="169.60" y2="706.40" stroke="#000" stroke-width="2.8"/>
<text x="153.0" y="718.5" font-size="33.7" text-anchor="end" >0.850</text>
<line x1="157.30" y1="801.70" x2="169.60" y2="801.70" stroke="#000" stroke-width="2.8"/>
<text x="153.0" y="813.8" font-size="33.7" text-anchor="end" >0.825</text>
<line x1="157.30" y1="897.00" x2="169.60" y2="897.00" stroke="#000" stroke-width="2.8"/>
<text x="153.0" y="909.1" font-size="33.7" text-anchor="end" >0.800</text>
<line x1="157.30" y1="992.20" x2="169.60" y2="992.20" stroke="#000" stroke-width="2.8"/>
<text x="153.0" y="1004.3" font-size="33.7" text-anchor="end" >0.775</text>
<line x1="208.21" y1="1029.00" x2="208.21" y2="1041.30" stroke="#000" stroke-width="2.8"/>
<line x1="362.64" y1="1029.00" x2="362.64" y2="1041.30" stroke="#000" stroke-width="2.8"/>
<line x1="517.08" y1="1029.00" x2="517.08" y2="1041.30" stroke="#000" stroke-width="2.8"/>
<clipPath id="cl2"><rect x="169.6" y="1084.9" width="463.29999999999995" height="463.4"/></clipPath>
<path d="M169.6,1339.5 L177.3,1387.0 L185.0,1410.5 L192.8,1408.5 L200.5,1385.0 L208.2,1337.0 L215.9,1279.5 L223.7,1234.0 L231.4,1203.9 L239.1,1200.7 L246.8,1220.5 L254.5,1262.5 L262.3,1321.1 L270.0,1383.8 L277.7,1438.5 L285.4,1494.8 L293.1,1519.3 L300.9,1526.0 L308.6,1516.7 L316.3,1493.7 L324.0,1445.3 L331.8,1400.5 L339.5,1338.4 L347.2,1268.3 L354.9,1207.7 L362.6,1158.5 L370.4,1120.0 L378.1,1107.0 L385.8,1110.6 L393.5,1137.2 L401.2,1178.1 L409.0,1239.5 L416.7,1288.2 L424.4,1352.6 L432.1,1413.1 L439.9,1459.2 L447.6,1490.2 L455.3,1510.0 L463.0,1515.3 L470.7,1510.0 L478.5,1490.2 L486.2,1464.7 L493.9,1429.4 L501.6,1387.0 L509.4,1339.0 L517.1,1288.4 L524.8,1239.1 L532.5,1194.8 L540.2,1158.6 L548.0,1131.4 L555.7,1115.5 L563.4,1112.0 L571.1,1119.3 L578.8,1141.3 L586.6,1174.7 L594.3,1214.2 L602.0,1253.6 L609.7,1293.5 L617.5,1345.3 L625.2,1400.0 L632.9,1445.0" fill="none" stroke="#1f77b4" stroke-width="5.3" stroke-linejoin="round" clip-path="url(#cl2)"/>
<rect x="169.60" y="1084.90" width="463.30" height="463.40" fill="none" stroke="#000" stroke-width="2.8"/>
<line x1="157.30" y1="1190.10" x2="169.60" y2="1190.10" stroke="#000" stroke-width="2.8"/>
<text x="153.0" y="1202.2" font-size="33.7" text-anchor="end" >0.0085</text>
<line x1="157.30" y1="1299.40" x2="169.60" y2="1299.40" stroke="#000" stroke-width="2.8"/>
<text x="153.0" y="1311.5" font-size="33.7" text-anchor="end" >0.0080</text>
<line x1="157.30" y1="1408.70" x2="169.60" y2="1408.70" stroke="#000" stroke-width="2.8"/>
<text x="153.0" y="1420.8" font-size="33.7" text-anchor="end" >0.0075</text>
<line x1="157.30" y1="1518.00" x2="169.60" y2="1518.00" stroke="#000" stroke-width="2.8"/>
<text x="153.0" y="1530.1" font-size="33.7" text-anchor="end" >0.0070</text>
<line x1="208.21" y1="1548.30" x2="208.21" y2="1560.60" stroke="#000" stroke-width="2.8"/>
<text x="208.2" y="1588.2" font-size="33.7" text-anchor="middle" >1.2</text>
<line x1="362.64" y1="1548.30" x2="362.64" y2="1560.60" stroke="#000" stroke-width="2.8"/>
<text x="362.6" y="1588.2" font-size="33.7" text-anchor="middle" >1.4</text>
<line x1="517.08" y1="1548.30" x2="517.08" y2="1560.60" stroke="#000" stroke-width="2.8"/>
<text x="517.1" y="1588.2" font-size="33.7" text-anchor="middle" >1.6</text>
<rect x="840.30" y="46.30" width="462.90" height="463.40" fill="none" stroke="#000" stroke-width="2.8"/>
<line x1="828.00" y1="84.92" x2="840.30" y2="84.92" stroke="#000" stroke-width="2.8"/>
<text x="823.7" y="97.0" font-size="33.7" text-anchor="end" >1.2</text>
<line x1="828.00" y1="239.38" x2="840.30" y2="239.38" stroke="#000" stroke-width="2.8"/>
<text x="823.7" y="251.4" font-size="33.7" text-anchor="end" >1.4</text>
<line x1="828.00" y1="393.85" x2="840.30" y2="393.85" stroke="#000" stroke-width="2.8"/>
<text x="823.7" y="405.9" font-size="33.7" text-anchor="end" >1.6</text>
<line x1="956.02" y1="509.70" x2="956.02" y2="522.00" stroke="#000" stroke-width="2.8"/>
<line x1="1110.33" y1="509.70" x2="1110.33" y2="522.00" stroke="#000" stroke-width="2.8"/>
<line x1="1264.62" y1="509.70" x2="1264.62" y2="522.00" stroke="#000" stroke-width="2.8"/>
<rect x="1318.60" y="46.30" width="23.10" height="463.40" fill="none" stroke="#000" stroke-width="2.8"/>
<rect x="840.30" y="565.60" width="462.90" height="463.40" fill="none" stroke="#000" stroke-width="2.8"/>
<line x1="828.00" y1="604.22" x2="840.30" y2="604.22" stroke="#000" stroke-width="2.8"/>
<text x="823.7" y="616.3" font-size="33.7" text-anchor="end" >1.2</text>
<line x1="828.00" y1="758.68" x2="840.30" y2="758.68" stroke="#000" stroke-width="2.8"/>
<text x="823.7" y="770.7" font-size="33.7" text-anchor="end" >1.4</text>
<line x1="828.00" y1="913.15" x2="840.30" y2="913.15" stroke="#000" stroke-width="2.8"/>
<text x="823.7" y="925.2" font-size="33.7" text-anchor="end" >1.6</text>
<line x1="956.02" y1="1029.00" x2="956.02" y2="1041.30" stroke="#000" stroke-width="2.8"/>
<line x1="1110.33" y1="1029.00" x2="1110.33" y2="1041.30" stroke="#000" stroke-width="2.8"/>
<line x1="1264.62" y1="1029.00" x2="1264.62" y2="1041.30" stroke="#000" stroke-width="2.8"/>
<rect x="1318.60" y="565.60" width="23.10" height="463.40" fill="none" stroke="#000" stroke-width="2.8"/>
<rect x="840.30" y="1084.90" width="462.90" height="463.40" fill="none" stroke="#000" stroke-width="2.8"/>
<line x1="828.00" y1="1123.52" x2="840.30" y2="1123.52" stroke="#000" stroke-width="2.8"/>
<text x="823.7" y="1135.6" font-size="33.7" text-anchor="end" >1.2</text>
<line x1="828.00" y1="1277.98" x2="840.30" y2="1277.98" stroke="#000" stroke-width="2.8"/>
<text x="823.7" y="1290.0" font-size="33.7" text-anchor="end" >1.4</text>
<line x1="828.00" y1="1432.45" x2="840.30" y2="1432.45" stroke="#000" stroke-width="2.8"/>
<text x="823.7" y="1444.5" font-size="33.7" text-anchor="end" >1.6</text>
<line x1="956.02" y1="1548.30" x2="956.02" y2="1560.60" stroke="#000" stroke-width="2.8"/>
<text x="956.0" y="1588.2" font-size="33.7" text-anchor="middle" >0.4</text>
<line x1="1110.33" y1="1548.30" x2="1110.33" y2="1560.60" stroke="#000" stroke-width="2.8"/>
<text x="1110.3" y="1588.2" font-size="33.7" text-anchor="middle" >0.6</text>
<line x1="1264.62" y1="1548.30" x2="1264.62" y2="1560.60" stroke="#000" stroke-width="2.8"/>
<text x="1264.6" y="1588.2" font-size="33.7" text-anchor="middle" >0.8</text>
<rect x="1318.60" y="1084.90" width="23.10" height="463.40" fill="none" stroke="#000" stroke-width="2.8"/>
<line x1="1341.70" y1="104.30" x2="1356.20" y2="104.30" stroke="#000" stroke-width="2.8"/>
<text x="1370.3" y="116.4" font-size="33.7" text-anchor="start" >0.20</text>
<line x1="1341.70" y1="217.20" x2="1356.20" y2="217.20" stroke="#000" stroke-width="2.8"/>
<text x="1370.3" y="229.3" font-size="33.7" text-anchor="start" >0.15</text>
<line x1="1341.70" y1="330.00" x2="1356.20" y2="330.00" stroke="#000" stroke-width="2.8"/>
<text x="1370.3" y="342.1" font-size="33.7" text-anchor="start" >0.10</text>
<line x1="1341.70" y1="442.80" x2="1356.20" y2="442.80" stroke="#000" stroke-width="2.8"/>
<text x="1370.3" y="454.9" font-size="33.7" text-anchor="start" >0.05</text>
<line x1="1341.70" y1="621.50" x2="1356.20" y2="621.50" stroke="#000" stroke-width="2.8"/>
<text x="1370.3" y="633.6" font-size="33.7" text-anchor="start" >3</text>
<line x1="1341.70" y1="764.50" x2="1356.20" y2="764.50" stroke="#000" stroke-width="2.8"/>
<text x="1370.3" y="776.6" font-size="33.7" text-anchor="start" >2</text>
<line x1="1341.70" y1="907.50" x2="1356.20" y2="907.50" stroke="#000" stroke-width="2.8"/>
<text x="1370.3" y="919.6" font-size="33.7" text-anchor="start" >1</text>
<line x1="1341.70" y1="1169.80" x2="1356.20" y2="1169.80" stroke="#000" stroke-width="2.8"/>
<text x="1370.3" y="1181.9" font-size="33.7" text-anchor="start" >0.3</text>
<line x1="1341.70" y1="1297.00" x2="1356.20" y2="1297.00" stroke="#000" stroke-width="2.8"/>
<text x="1370.3" y="1309.1" font-size="33.7" text-anchor="start" >0.2</text>
<line x1="1341.70" y1="1424.50" x2="1356.20" y2="1424.50" stroke="#000" stroke-width="2.8"/>
<text x="1370.3" y="1436.6" font-size="33.7" text-anchor="start" >0.1</text>
<text x="30.3" y="26.7" font-size="38.2" text-anchor="start" font-weight="bold" >A</text>
<text x="724.3" y="26.7" font-size="38.2" text-anchor="start" font-weight="bold" >B</text>
<text x="30.6" y="582.6" font-size="38.2" text-anchor="start" font-weight="bold" >C</text>
<text x="724.3" y="583.2" font-size="38.2" text-anchor="start" font-weight="bold" >D</text>
<text x="30.3" y="1101.9" font-size="38.2" text-anchor="start" font-weight="bold" >E</text>
<text x="724.3" y="1101.8" font-size="38.2" text-anchor="start" font-weight="bold" >F</text>
<text transform="translate(19.5,278.2) rotate(-90)" text-anchor="middle" font-style="italic"><tspan font-size="35.5">η</tspan><tspan font-size="25" dy="5.5">obj</tspan></text>
<text transform="translate(46.7,796.4) rotate(-90)" font-size="33.7" text-anchor="middle">Purcell Factor</text>
<text transform="translate(24.5,1318.3) rotate(-90)" font-size="33.7" text-anchor="middle" font-style="italic">I<tspan font-size="24.5" dy="5">R</tspan></text>
<text transform="translate(753.4,278.0) rotate(-90)" font-size="33.7" text-anchor="middle">Wavelength (μm)</text>
<text transform="translate(753.4,797.3) rotate(-90)" font-size="33.7" text-anchor="middle">Wavelength (μm)</text>
<text transform="translate(753.4,1316.6) rotate(-90)" font-size="33.7" text-anchor="middle">Wavelength (μm)</text>
<text transform="translate(1471.0,279.2) rotate(-90)" text-anchor="middle" font-style="italic"><tspan font-size="35.5">η</tspan><tspan font-size="25" dy="5.5">obj</tspan></text>
<text transform="translate(1430.0,796.0) rotate(-90)" font-size="33.7" text-anchor="middle">Purcell Factor</text>
<text transform="translate(1458.0,1317.0) rotate(-90)" font-size="33.7" text-anchor="middle" font-style="italic">I<tspan font-size="24.5" dy="5" dx="2.5">r</tspan></text>
<text x="401.2" y="1635.5" font-size="33.7" text-anchor="middle" >Wavelength (μm)</text>
<text x="1071.8" y="1635.5" font-size="33.7" text-anchor="middle" >Radius (μm)</text>
</svg></body></html>
